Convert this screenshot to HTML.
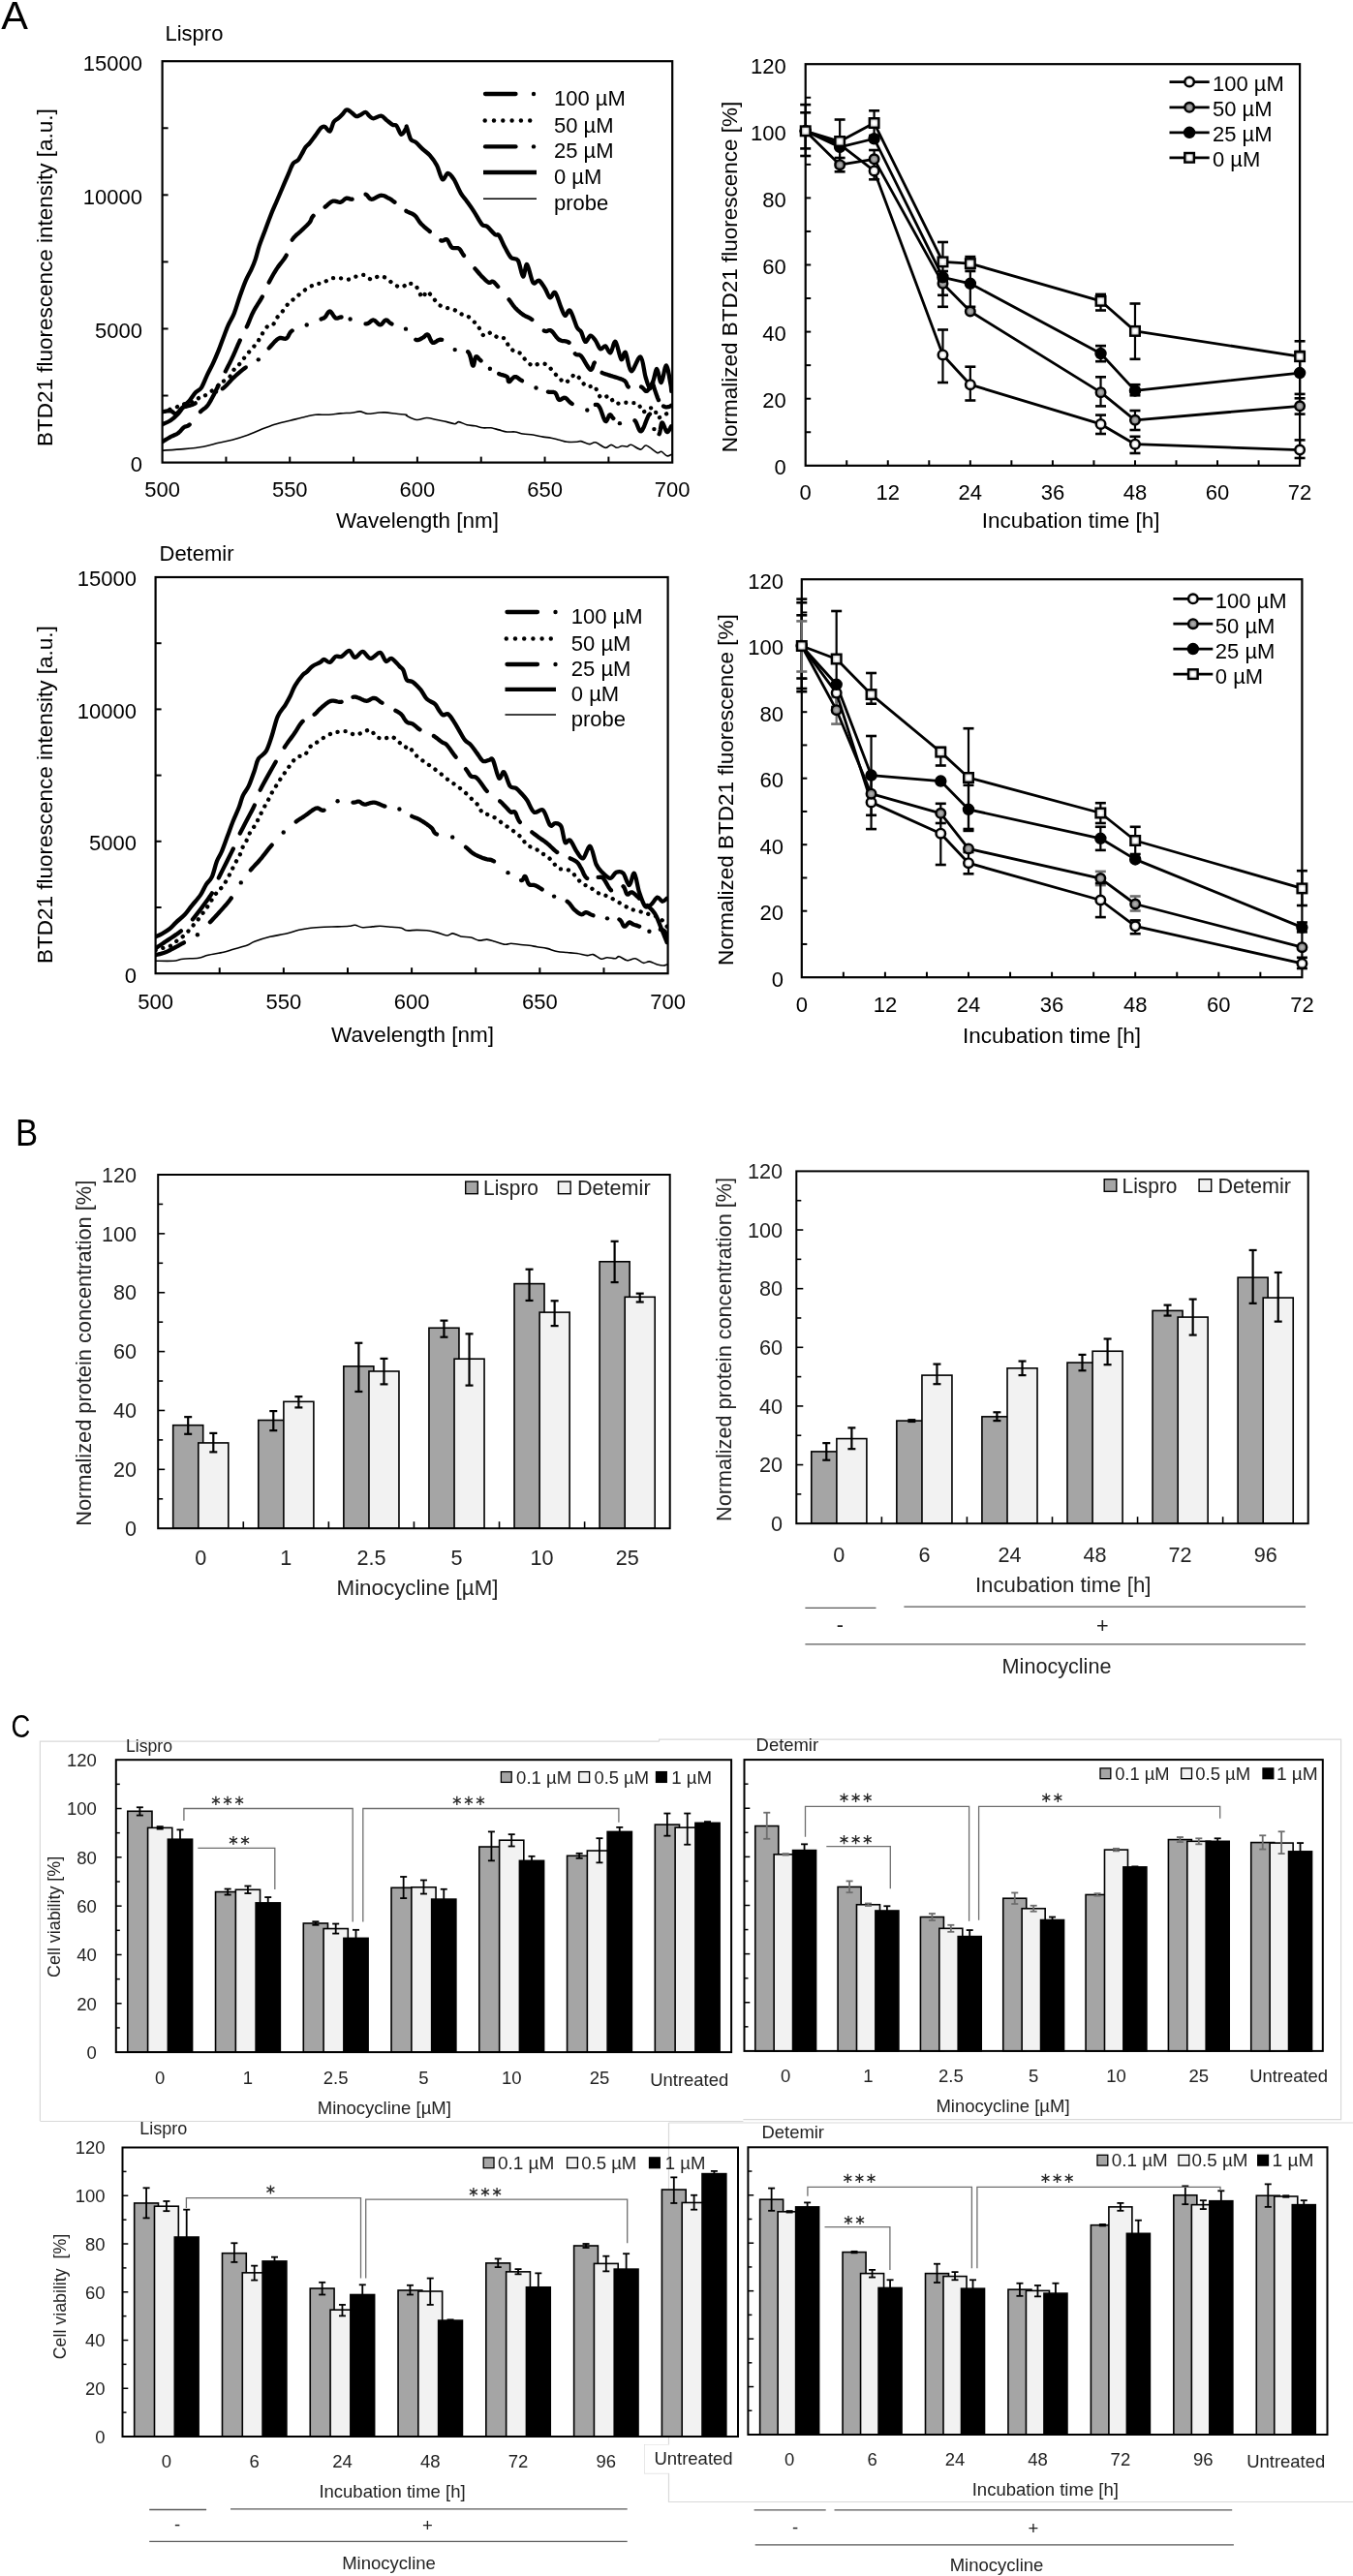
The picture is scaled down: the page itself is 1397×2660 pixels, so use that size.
<!DOCTYPE html>
<html><head><meta charset="utf-8"><style>html,body{margin:0;padding:0;background:#fff;}svg{display:block;filter:grayscale(1);}</style></head>
<body>
<svg width="1397" height="2660" viewBox="0 0 1397 2660" font-family='"Liberation Sans", sans-serif'>
<defs><radialGradient id="gw" cx="0.5" cy="0.5" r="0.6"><stop offset="0.3" stop-color="#fff"/><stop offset="1" stop-color="#9a9a9a"/></radialGradient><radialGradient id="gg" cx="0.5" cy="0.5" r="0.6"><stop offset="0.2" stop-color="#aaa"/><stop offset="1" stop-color="#555"/></radialGradient></defs>
<text x="1.2" y="30.2" font-size="41.5" fill="#000">A</text>
<clipPath id="c63"><rect x="167.6" y="63.2" width="526.6" height="414.4"/></clipPath>
<g clip-path="url(#c63)">
<path d="M167.58,465.17 C171.31,464.91 182.88,464.24 189.93,463.58 C196.99,462.91 203.9,462.25 209.89,461.18 C215.88,460.12 220.87,458.36 225.86,457.19 C230.84,456.03 234.84,455.53 239.82,454.2 C244.81,452.87 251.13,450.87 255.79,449.21 C260.45,447.55 263.11,446.05 267.76,444.22 C272.42,442.39 278.41,439.9 283.73,438.23 C289.05,436.57 294.37,435.57 299.69,434.24 C305.01,432.91 311.33,431.25 315.66,430.25 C319.98,429.25 321.64,428.59 325.64,428.26 C329.63,427.92 335.28,428.49 339.6,428.26 C343.93,428.02 347.59,427.19 351.58,426.86 C355.57,426.53 360.23,426.59 363.55,426.26 C366.88,425.93 368.87,424.7 371.53,424.86 C374.2,425.03 376.52,427.03 379.52,427.26 C382.51,427.49 386.5,426.49 389.5,426.26 C392.49,426.03 394.15,425.69 397.48,425.86 C400.8,426.03 405.79,426.86 409.45,427.26 C413.11,427.66 417.67,427.9 419.43,428.26 C421.19,428.61 418.18,428.52 420,429.4 C421.82,430.29 426.9,433.2 430.35,433.54 C433.8,433.89 437.25,431.47 440.7,431.47 C444.14,431.47 447.59,432.85 451.04,433.54 C454.49,434.23 458.29,434.92 461.39,435.61 C464.5,436.3 467.6,437.68 469.67,437.68 C471.74,437.68 471.74,435.44 473.81,435.61 C475.88,435.79 479.33,438.03 482.09,438.72 C484.85,439.41 487.6,439.23 490.36,439.75 C493.12,440.27 495.88,441.48 498.64,441.82 C501.4,442.17 504.16,441.48 506.92,441.82 C509.68,442.17 512.44,443.2 515.2,443.89 C517.96,444.58 520.72,445.62 523.48,445.96 C526.24,446.31 529,445.62 531.75,445.96 C534.51,446.31 536.93,447.51 540.03,448.03 C543.14,448.55 546.93,448.55 550.38,449.06 C553.83,449.58 557.62,450.62 560.73,451.13 C563.83,451.65 566.25,451.65 569.01,452.17 C571.77,452.69 574.53,453.55 577.28,454.24 C580.04,454.93 582.46,455.96 585.56,456.31 C588.67,456.65 593.5,456.42 595.91,456.31 C598.32,456.2 597.84,455.26 600,455.65 C602.16,456.03 606.41,458.42 608.87,458.6 C611.33,458.79 612.07,456.14 614.78,456.76 C617.49,457.37 622.42,461.87 625.13,462.3 C627.84,462.73 629.07,459.34 631.04,459.34 C633.01,459.34 635.11,462.11 636.95,462.3 C638.8,462.48 640.4,460.64 642.13,460.45 C643.85,460.27 645.7,461.37 647.3,461.19 C648.9,461.01 649.4,458.85 651.74,459.34 C654.08,459.83 658.76,464.02 661.35,464.15 C663.93,464.27 664.42,459.53 667.26,460.08 C670.09,460.64 675.76,466.43 678.34,467.47 C680.93,468.52 681.05,465.81 682.78,466.36 C684.5,466.92 686.94,470.31 688.69,470.8 C690.44,471.29 692.51,469.57 693.27,469.32" fill="none" stroke="#000" stroke-width="1.6" stroke-linecap="round" stroke-linejoin="round"/>
<path d="M167.6,425.26 L168.25,425.16 L169.15,424.99 L170.22,424.79 L171.4,424.58 L172.63,424.39 L173.84,424.26 L174.97,424.21 L175.96,424.26 L176.83,424.51 L177.63,424.94 L178.39,425.49 L179.11,426.07 L179.81,426.62 L180.51,427.05 L181.22,427.29 L181.95,427.26 L182.7,426.91 L183.45,426.3 L184.2,425.5 L184.95,424.58 L185.69,423.62 L186.44,422.7 L187.19,421.89 L187.94,421.27 L188.69,420.83 L189.44,420.49 L190.18,420.23 L190.93,420.02 L191.68,419.85 L192.43,419.68 L193.18,419.5 L193.93,419.28 L194.66,419.05 L195.38,418.85 L196.08,418.66 L196.79,418.46 L197.52,418.25 L198.28,417.99 L199.07,417.67 L199.91,417.28 L200.8,416.81 L201.7,416.28 M229.8,401.34 L229.85,401.32 L231.34,400.14 L232.84,398.77 L234.34,397.25 L235.83,395.64 L237.33,393.99 L238.83,392.36 L240.32,390.79 L241.82,389.34 L243.31,387.99 L244.79,386.66 L246.27,385.37 L247.74,384.1 L249.23,382.87 L250.73,381.67 L252.25,380.5 L253.79,379.36 L253.8,379.36 M277.7,359.45 L277.74,359.41 L279.05,358 L280.35,356.54 L281.64,355.08 L282.92,353.67 L284.17,352.35 L285.39,351.18 L286.57,350.19 L287.72,349.43 L288.83,349.01 L289.9,348.91 L290.95,349.05 L291.96,349.3 L292.94,349.58 L293.89,349.76 L294.81,349.74 L295.7,349.43 L296.48,348.8 L297.13,347.95 L297.7,346.93 L298.26,345.81 L298.87,344.64 L299.61,343.49 L300.52,342.4 L301.69,341.45 L301.7,341.44 M331.6,329.48 L331.62,329.47 L332.64,329.06 L333.37,328.79 L333.88,328.61 L334.24,328.48 L334.53,328.34 L334.8,328.16 L335.14,327.89 L335.61,327.48 L336.18,326.83 L336.77,325.96 L337.37,324.95 L337.98,323.92 L338.61,322.96 L339.26,322.17 L339.92,321.65 L340.6,321.49 L341.3,321.8 L342.03,322.51 L342.77,323.51 L343.53,324.67 L344.3,325.87 L345.07,326.99 L345.83,327.9 L346.59,328.48 L347.32,328.71 L348.02,328.72 L348.7,328.55 L349.4,328.29 L350.11,327.98 L350.87,327.7 L351.68,327.51 L352.58,327.48 L352.6,327.48 M377.5,334.46 L377.52,334.46 L378.91,334.33 L380.1,333.89 L381.14,333.23 L382.07,332.47 L382.93,331.7 L383.77,331.05 L384.61,330.6 L385.5,330.47 L386.43,330.73 L387.34,331.32 L388.24,332.12 L389.12,333.03 L389.99,333.93 L390.84,334.7 L391.67,335.25 L392.49,335.46 L393.28,335.25 L394.06,334.7 L394.81,333.93 L395.54,333.03 L396.27,332.12 L397,331.32 L397.73,330.73 L398.48,330.47 L399.17,330.53 L399.78,330.81 L400.37,331.27 L400.97,331.84 L401.63,332.5 L402.4,333.18 L403.33,333.85 L404.46,334.46 L404.5,334.48 M429.3,350.75 L429.31,350.76 L430.33,351.1 L431.32,351.14 L432.27,350.94 L433.19,350.57 L434.08,350.09 L434.94,349.57 L435.76,349.09 L436.56,348.69 L437.3,348.28 L438,347.72 L438.65,347.1 L439.27,346.49 L439.88,345.96 L440.49,345.59 L441.1,345.44 L441.73,345.59 L442.35,346.16 L442.93,347.12 L443.49,348.36 L444.06,349.73 L444.66,351.1 L445.32,352.33 L446.06,353.3 L446.9,353.87 L447.84,353.93 L448.84,353.57 L449.91,352.94 L451.04,352.18 L452.24,351.44 L453.5,350.86 L454.83,350.58 L456.2,350.76 M483.1,363.17 L483.12,363.18 L484.18,364.56 L485.04,366.49 L485.76,368.75 L486.35,371.13 L486.87,373.43 L487.34,375.43 L487.8,376.91 L488.29,377.67 L488.77,377.55 L489.17,376.7 L489.52,375.33 L489.85,373.66 L490.17,371.91 L490.53,370.29 L490.93,369.04 L491.4,368.35 L491.92,368.2 L492.45,368.34 L493.01,368.74 L493.6,369.32 L494.24,370.05 L494.94,370.85 L495.71,371.68 L496.57,372.49 L496.6,372.52 M515.2,385.94 L516.33,386.42 L517.49,386.82 L518.65,387.17 L519.79,387.5 L520.87,387.82 L521.87,388.17 L522.75,388.58 L523.48,389.05 L524,389.67 L524.33,390.44 L524.53,391.29 L524.64,392.15 L524.74,392.95 L524.88,393.61 L525.13,394.06 L525.55,394.22 L526.12,394.01 L526.78,393.44 L527.53,392.63 L528.33,391.7 L529.17,390.76 L530.03,389.93 L530.9,389.32 L531.75,389.05 L532.56,389.1 L533.32,389.36 L534.08,389.78 L534.86,390.34 L535.71,391 L536.65,391.72 L537.74,392.46 L539,393.19 L539,393.19 M565.9,404.57 L565.9,404.57 L567.08,404.8 L568.15,404.9 L569.13,404.91 L570.04,404.89 L570.88,404.9 L571.67,404.98 L572.42,405.2 L573.15,405.6 L573.8,406.28 L574.35,407.2 L574.83,408.28 L575.28,409.42 L575.72,410.54 L576.18,411.55 L576.69,412.35 L577.28,412.85 L577.95,412.98 L578.67,412.79 L579.42,412.39 L580.2,411.88 L581,411.36 L581.82,410.93 L582.65,410.7 L583.49,410.78 L584.29,411.16 L585.04,411.74 L585.77,412.49 L586.53,413.35 L587.37,414.27 L588.32,415.22 L589.43,416.14 L590.7,416.96 M614.8,417.95 L615.52,417.84 L616.14,417.83 L616.68,417.95 L617.16,418.21 L617.62,418.61 L618.1,419.19 L618.62,419.95 L619.22,420.91 L619.9,422.28 L620.63,424.13 L621.39,426.27 L622.17,428.53 L622.96,430.71 L623.72,432.64 L624.45,434.11 L625.13,434.95 L625.76,435.04 L626.36,434.5 L626.93,433.52 L627.49,432.27 L628.02,430.95 L628.54,429.72 L629.06,428.78 L629.56,428.3 L630.04,428.26 L630.47,428.46 L630.87,428.86 L631.27,429.41 L631.69,430.05 L632.15,430.73 L632.66,431.39 L633.26,432 L633.3,432.03 M655.4,434.2 L655.43,434.21 L656.28,435.19 L657.1,436.78 L657.88,438.72 L658.67,440.77 L659.46,442.7 L660.28,444.26 L661.15,445.21 L662.08,445.3 L663.12,444.23 L664.25,442.11 L665.44,439.3 L666.66,436.15 L667.85,433.04 L669,430.33 L670.04,428.38 L670.95,427.56 L671,427.59 M680.6,448.19 L681.02,447.44 L681.4,445.99 L681.74,444.12 L682.04,442.07 L682.34,440.04 L682.68,438.28 L683.06,437 L683.52,436.43 L684.06,436.71 L684.67,437.69 L685.33,439.15 L686.01,440.86 L686.71,442.63 L687.4,444.23 L688.07,445.43 L688.69,446.04 L689.31,446 L689.96,445.51 L690.6,444.7 L691.23,443.68 L691.82,442.59 L692.35,441.55 L692.79,440.69 L693.13,440.13 L693.6,440.13" fill="none" stroke="#000" stroke-width="4.3" stroke-linecap="round" stroke-linejoin="round"/>
<circle cx="223" cy="404.42" r="2.2"/>
<circle cx="266.8" cy="371.35" r="2.2"/>
<circle cx="316.7" cy="335.44" r="2.2"/>
<circle cx="361.6" cy="329.49" r="2.2"/>
<circle cx="419" cy="339.64" r="2.2"/>
<circle cx="469.7" cy="361.12" r="2.2"/>
<circle cx="505.9" cy="380.78" r="2.2"/>
<circle cx="553.5" cy="400.44" r="2.2"/>
<circle cx="606.3" cy="423.49" r="2.2"/>
<circle cx="639.9" cy="437.17" r="2.2"/>
<circle cx="675.4" cy="443.11" r="2.2"/>
<path d="M167.58,425.26 C169.65,424.6 176.23,422.6 179.96,421.27 C183.68,419.94 186.61,418.44 189.93,417.28 C193.26,416.12 196.92,415.62 199.91,414.29 C202.91,412.96 205.57,410.46 207.89,409.3 C210.22,408.13 211.22,408.96 213.88,407.3 C216.54,405.64 221.2,401.48 223.86,399.32 C226.52,397.16 227.52,396.16 229.85,394.33 C232.17,392.5 235.83,390.51 237.83,388.34 C239.82,386.18 240.16,383.52 241.82,381.36 C243.48,379.2 245.81,377.7 247.81,375.37 C249.8,373.04 251.8,369.88 253.79,367.39 C255.79,364.9 257.78,362.73 259.78,360.41 C261.78,358.08 264.1,355.75 265.77,353.42 C267.43,351.09 268.1,349.1 269.76,346.44 C271.42,343.78 273.75,339.28 275.75,337.46 C277.74,335.63 280.07,336.96 281.73,335.46 C283.4,333.96 284.06,330.8 285.72,328.48 C287.39,326.15 289.71,323.99 291.71,321.49 C293.71,319 295.7,315.67 297.7,313.51 C299.69,311.35 301.69,310.18 303.68,308.52 C305.68,306.86 307.34,305.36 309.67,303.53 C312,301.7 314.99,299.21 317.65,297.54 C320.31,295.88 322.97,294.48 325.64,293.55 C328.3,292.62 330.96,292.95 333.62,291.96 C336.28,290.96 338.77,288.36 341.6,287.57 C344.43,286.77 347.59,287 350.58,287.17 C353.57,287.33 356.73,288.83 359.56,288.56 C362.39,288.3 364.88,286.33 367.54,285.57 C370.2,284.8 372.87,283.47 375.53,283.97 C378.19,284.47 380.85,288.36 383.51,288.56 C386.17,288.76 388.83,285.34 391.49,285.17 C394.15,285 396.98,286.17 399.47,287.57 C401.97,288.96 403.96,292.06 406.46,293.55 C408.95,295.05 412.28,296.55 414.44,296.55 C416.6,296.55 418.5,294.17 419.43,293.55 C420.36,292.93 418.53,292.77 420,292.81 C421.47,292.86 426.21,292.47 428.28,293.85 C430.35,295.23 431.04,298.85 432.42,301.09 C433.8,303.33 435.18,307.3 436.56,307.3 C437.94,307.3 438.97,301.09 440.7,301.09 C442.42,301.09 444.83,305.06 446.9,307.3 C448.97,309.54 450.87,312.82 453.11,314.54 C455.35,316.27 457.77,316.79 460.36,317.65 C462.94,318.51 466.22,318.68 468.63,319.72 C471.05,320.75 472.6,322.82 474.84,323.86 C477.08,324.89 479.67,324.55 482.09,325.93 C484.5,327.31 487.26,330.07 489.33,332.14 C491.4,334.21 492.78,335.93 494.5,338.34 C496.23,340.76 497.61,345.76 499.68,346.62 C501.75,347.48 504.51,343.17 506.92,343.52 C509.33,343.86 511.75,347.66 514.16,348.69 C516.58,349.73 519.51,348.17 521.41,349.73 C523.3,351.28 523.82,355.76 525.55,358 C527.27,360.25 529.69,361.97 531.75,363.18 C533.82,364.39 536.07,363.7 537.96,365.25 C539.86,366.8 541.07,370.42 543.14,372.49 C545.21,374.56 548.14,377.15 550.38,377.67 C552.62,378.18 554.17,375.77 556.59,375.6 C559,375.42 562.45,375.25 564.87,376.63 C567.28,378.01 569.01,381.63 571.08,383.87 C573.15,386.12 575.22,388.19 577.28,390.08 C579.35,391.98 581.42,395.26 583.49,395.26 C585.56,395.26 587.8,391.46 589.7,390.08 C591.6,388.7 592.3,385.54 594.88,386.98 C597.45,388.42 602.04,396.78 605.17,398.74 C608.31,400.7 611.58,397.32 613.67,398.74 C615.77,400.15 616.32,405.2 617.74,407.24 C619.15,409.27 620.26,410.62 622.17,410.93 C624.08,411.24 627.1,408.16 629.19,409.08 C631.29,410.01 632.46,415.37 634.74,416.47 C637.02,417.58 639.97,415.8 642.87,415.74 C645.76,415.67 649.4,415.86 652.11,416.1 C654.82,416.35 657.22,415.67 659.13,417.21 C661.04,418.75 661.71,424.6 663.56,425.34 C665.41,426.08 668.12,422.14 670.21,421.65 C672.31,421.16 674.71,420.79 676.13,422.39 C677.54,423.99 677.17,430.21 678.71,431.26 C680.25,432.3 683.21,429.66 685.37,428.67 C687.52,427.68 690.6,425.9 691.65,425.34" fill="none" stroke="#000" stroke-width="4.3" stroke-linecap="round" stroke-linejoin="round" stroke-dasharray="0.1 7.9"/>
<path d="M167.6,456.18 L168.23,455.8 L169.1,455.27 L170.13,454.65 L171.28,453.95 L172.48,453.22 L173.7,452.5 L174.88,451.82 L175.96,451.21 L177,450.67 L178.04,450.18 L179.08,449.72 L180.11,449.27 L181.12,448.81 L182.1,448.33 L183.05,447.8 L183.95,447.21 L184.79,446.54 L185.58,445.79 L186.34,444.98 L187.07,444.16 L187.78,443.34 L188.48,442.56 L189.2,441.85 L189.93,441.23 L190.65,440.78 L191.31,440.5 L191.96,440.32 L192.62,440.17 L193.31,439.96 L194.07,439.61 L194.93,439.07 L195.7,438.42 M207,425.16 L207.97,424.21 L208.95,423.37 L209.85,422.68 L210.7,422.08 L211.51,421.51 L212.3,420.89 L213.08,420.17 L213.88,419.28 L214.68,418.23 L215.45,417.11 L216.2,415.91 L216.94,414.66 L217.67,413.36 L218.39,412.03 L219.13,410.67 L219.87,409.3 L220.61,407.91 L221.34,406.49 L222.07,405.04 L222.8,403.56 L223.54,402.05 L224.29,400.5 L225.06,398.93 L225.6,397.84 M232.8,383.43 L232.84,383.35 L233.71,381.64 L234.56,379.96 L235.42,378.29 L236.27,376.62 L237.13,374.92 L238.01,373.16 L238.9,371.32 L239.82,369.39 L240.78,367.3 L241.77,365.08 L242.79,362.77 L243.82,360.41 L244.84,358.04 L245.86,355.73 L246.85,353.51 L247.8,351.44 M254.8,337.44 L255.65,335.55 L256.49,333.58 L257.32,331.57 L258.16,329.54 L259.01,327.49 L259.89,325.46 L260.81,323.45 L261.78,321.49 L262.82,319.57 L263.93,317.68 L265.09,315.8 L266.27,313.94 L267.45,312.09 L268.6,310.24 L269.72,308.39 L270.76,306.52 L270.8,306.44 M277.7,291.64 L277.74,291.56 L278.68,289.76 L279.62,287.99 L280.57,286.25 L281.55,284.51 L282.54,282.78 L283.56,281.06 L284.62,279.33 L285.72,277.59 L286.9,275.85 L288.17,274.14 L289.49,272.44 L290.84,270.73 L292.16,269 L293.44,267.25 L294.63,265.46 L295.7,263.62 M301.7,247.64 L302.76,246.11 L303.95,244.69 L305.23,243.39 L306.55,242.17 L307.9,241.01 L309.22,239.89 L310.49,238.79 L311.67,237.68 L312.79,236.57 L313.9,235.52 L314.98,234.49 L316.03,233.5 L317.04,232.53 L317.98,231.57 L318.86,230.63 L319.65,229.69 L320.28,228.79 L320.74,227.92 L321.09,227.09 L321.39,226.26 L321.73,225.43 L322.17,224.57 L322.79,223.67 L323.6,222.75 M335.6,213.74 L335.61,213.73 L336.8,212.79 L337.89,211.86 L338.9,210.96 L339.85,210.11 L340.78,209.34 L341.69,208.68 L342.63,208.13 L343.6,207.74 L344.61,207.57 L345.64,207.62 L346.68,207.82 L347.71,208.12 L348.73,208.42 L349.72,208.68 L350.68,208.81 L351.58,208.74 L352.42,208.44 L353.22,207.97 L353.97,207.39 L354.7,206.74 L355.41,206.1 L356.12,205.51 L356.83,205.04 L357.57,204.75 L358.31,204.66 L359.04,204.73 L359.77,204.91 L360.5,205.15 L361.23,205.4 L361.99,205.62 L362.76,205.75 L363.55,205.75 L363.6,205.74 M377.5,200.76 L377.52,200.76 L378.29,201.08 L378.99,201.68 L379.66,202.47 L380.33,203.34 L381.01,204.2 L381.75,204.95 L382.58,205.5 L383.51,205.75 L384.58,205.63 L385.77,205.22 L387.05,204.6 L388.37,203.87 L389.72,203.13 L391.04,202.47 L392.31,201.98 L393.49,201.75 L394.59,201.79 L395.67,201.99 L396.71,202.32 L397.73,202.75 L398.71,203.25 L399.66,203.77 L400.58,204.28 L401.47,204.75 L402.31,205.19 L403.11,205.65 L403.86,206.13 L404.59,206.62 L405.3,207.13 L406.01,207.65 L406.72,208.19 L407.46,208.74 L407.5,208.77 M419.4,217.7 L419.43,217.72 L419.71,217.93 L419.77,218.02 L419.7,218.03 L419.57,218.01 L419.46,217.98 L419.44,217.99 L419.6,218.09 L420,218.31 L420.68,218.63 L421.58,219 L422.63,219.42 L423.79,219.9 L424.99,220.44 L426.17,221.04 L427.29,221.71 L428.28,222.45 L429.13,223.29 L429.9,224.23 L430.62,225.25 L431.32,226.33 L432.02,227.44 L432.76,228.56 L433.58,229.67 L434.49,230.73 L435.49,231.76 L436.55,232.77 L437.66,233.79 L438.82,234.8 L440.02,235.83 L441.25,236.86 L442.52,237.92 L443.8,239.01 L443.8,239.01 M455.2,248.32 L456.21,248.62 L457.12,248.57 L457.93,248.28 L458.67,247.87 L459.37,247.45 L460.03,247.13 L460.7,247.04 L461.39,247.28 L462.07,247.92 L462.71,248.87 L463.32,250.03 L463.91,251.29 L464.52,252.58 L465.15,253.78 L465.83,254.81 L466.56,255.56 L467.39,256 L468.28,256.19 L469.22,256.21 L470.19,256.14 L471.15,256.07 L472.09,256.07 L472.99,256.22 L473.81,256.6 L474.51,257.16 L475.1,257.83 L475.63,258.59 L476.14,259.44 L476.68,260.4 L477.3,261.45 L478.05,262.6 L478.98,263.84 L479,263.86 M490.4,277.33 L491.56,278.68 L492.7,280.01 L493.79,281.27 L494.83,282.47 L495.83,283.6 L496.79,284.67 L497.73,285.67 L498.64,286.61 L499.53,287.49 L500.39,288.34 L501.21,289.12 L502.01,289.84 L502.77,290.48 L503.49,291.02 L504.19,291.46 L504.85,291.78 L505.46,291.91 L506.01,291.81 L506.51,291.57 L506.99,291.26 L507.45,290.95 L507.93,290.71 L508.44,290.62 L508.99,290.75 L509.54,291.04 L510.07,291.41 L510.58,291.87 L511.12,292.43 L511.72,293.1 L512.41,293.9 L513.21,294.83 L514.16,295.92 L514.2,295.96 M525.5,309.31 L525.55,309.37 L526.56,310.66 L527.41,311.83 L528.16,312.9 L528.84,313.9 L529.5,314.85 L530.18,315.77 L530.92,316.7 L531.75,317.65 L532.68,318.62 L533.65,319.58 L534.66,320.53 L535.7,321.46 L536.76,322.37 L537.84,323.25 L538.93,324.09 L540.03,324.89 L541.13,325.6 L542.22,326.19 L543.31,326.71 L544.43,327.22 L545.58,327.76 L546.78,328.38 L548.03,329.14 L549.3,330.03 M561.8,341.46 L562.91,341.93 L563.91,342.03 L564.81,341.87 L565.64,341.58 L566.44,341.27 L567.24,341.06 L568.09,341.08 L569.01,341.45 L569.98,342.21 L570.95,343.27 L571.94,344.53 L572.95,345.91 L573.98,347.31 L575.05,348.65 L576.14,349.83 L577.28,350.76 L578.51,351.39 L579.82,351.78 L581.2,352.02 L582.59,352.18 L583.96,352.37 L585.29,352.65 L586.52,353.12 L587.6,353.84 M593.8,365.19 L593.84,365.25 L594.59,365.9 L595.3,366.22 L596,366.31 L596.71,366.3 L597.44,366.32 L598.22,366.48 L599.07,366.89 L600,367.69 L601.07,369.04 L602.28,370.89 L603.58,373.05 L604.91,375.33 L606.23,377.53 L607.49,379.46 L608.63,380.93 L609.61,381.74 L610.42,381.75 L611.1,381.08 L611.68,379.95 L612.2,378.55 L612.66,377.09 L613.11,375.76 L613.56,374.78 L613.8,374.56 M621.6,384.79 L622.19,385.12 L623,385.48 L623.87,385.81 L624.81,386.13 L625.83,386.44 L626.96,386.79 L628.2,387.18 L629.56,387.65 L631.16,388.18 L633.03,388.75 L635.07,389.36 L637.19,390.01 L639.27,390.68 L641.22,391.37 L642.95,392.09 L644.35,392.82 L645.38,393.62 L646.13,394.52 L646.67,395.47 L647.07,396.43 L647.41,397.35 L647.76,398.19 L648.19,398.92 L648.78,399.48 L648.8,399.49 M662.1,399.48 L662.81,399.84 L663.52,400.41 L664.2,401.12 L664.86,401.88 L665.49,402.61 L666.1,403.25 L666.69,403.71 L667.26,403.91 L667.8,403.85 L668.3,403.59 L668.78,403.18 L669.24,402.66 L669.69,402.07 L670.12,401.43 L670.54,400.8 L670.95,400.21 L671.37,399.58 L671.8,398.83 L672.21,398.03 L672.62,397.21 L673,396.45 L673.34,395.8 L673.65,395.31 L673.91,395.04 L674.08,394.94 L674.15,394.93 L674.15,395.03 L674.14,395.27 L674.14,395.66 L674.2,396.24 L674.36,397.01 L674.65,398 L675.08,399.33 L675.63,401.05 L676.26,403.03 L676.96,405.16 L677.69,407.31 L678.43,409.38 L679.15,411.24 L679.82,412.78 L680,413.12 M685,419.43 L685.66,419.82 L686.34,420.08 L687.03,420.24 L687.72,420.31 L688.39,420.32 L689.03,420.28 L689.63,420.22 L690.17,420.17 L690.67,420.08 L691.13,419.92 L691.57,419.71 L691.97,419.48 L692.33,419.24 L692.65,419.01 L692.91,418.82 L693.13,418.69 L693.6,418.69" fill="none" stroke="#000" stroke-width="4.3" stroke-linecap="round" stroke-linejoin="round"/>
<path d="M167.58,438.23 C168.98,437.57 173.24,436.07 175.96,434.24 C178.69,432.41 181.62,429.75 183.95,427.26 C186.28,424.76 187.94,421.6 189.93,419.28 C191.93,416.95 193.93,415.62 195.92,413.29 C197.92,410.96 199.91,407.47 201.91,405.31 C203.9,403.14 205.9,403.31 207.89,400.32 C209.89,397.32 211.89,391.5 213.88,387.35 C215.88,383.19 217.87,379.7 219.87,375.37 C221.86,371.05 223.86,366.39 225.86,361.4 C227.85,356.41 230.18,349.76 231.84,345.44 C233.5,341.11 234.17,339.12 235.83,335.46 C237.5,331.8 239.82,328.48 241.82,323.49 C243.82,318.5 245.81,311.18 247.81,305.53 C249.8,299.87 251.8,294.22 253.79,289.56 C255.79,284.9 258.12,281.25 259.78,277.59 C261.44,273.93 262.44,271.6 263.77,267.61 C265.1,263.62 266.1,258.63 267.76,253.64 C269.43,248.65 271.75,243 273.75,237.68 C275.75,232.35 277.74,226.7 279.74,221.71 C281.73,216.72 283.73,212.4 285.72,207.74 C287.72,203.08 289.71,198.43 291.71,193.77 C293.71,189.12 295.87,183.96 297.7,179.8 C299.53,175.64 301.02,171.22 302.69,168.83 C304.35,166.43 306.18,167.1 307.68,165.43 C309.17,163.77 310.34,161.11 311.67,158.85 C313,156.59 314.33,153.69 315.66,151.86 C316.99,150.03 317.99,149.87 319.65,147.87 C321.31,145.88 323.64,142.55 325.64,139.89 C327.63,137.23 329.96,133.4 331.62,131.91 C333.29,130.41 334.12,130.31 335.61,130.91 C337.11,131.51 339.11,136.33 340.6,135.5 C342.1,134.67 343.1,128.18 344.59,125.92 C346.09,123.66 348.09,123.26 349.58,121.93 C351.08,120.6 352.24,119.34 353.57,117.94 C354.9,116.54 356.23,114.05 357.57,113.55 C358.9,113.05 359.89,113.88 361.56,114.95 C363.22,116.01 365.88,119.27 367.54,119.93 C369.21,120.6 369.87,119.6 371.53,118.94 C373.2,118.27 375.86,115.78 377.52,115.94 C379.18,116.11 380.18,118.87 381.51,119.93 C382.84,121 383.51,122.4 385.5,122.33 C387.5,122.26 391.16,119.2 393.49,119.54 C395.81,119.87 397.48,122.76 399.47,124.32 C401.47,125.89 403.8,127.98 405.46,128.91 C407.12,129.85 407.95,128.25 409.45,129.91 C410.95,131.58 412.78,138.49 414.44,138.89 C416.1,139.29 418.5,133.56 419.43,132.31 C420.36,131.06 419.22,129.47 420,131.39 C420.78,133.31 422.59,141.22 424.14,143.81 C425.69,146.39 427.24,145.19 429.31,146.91 C431.38,148.64 434.14,151.91 436.56,154.16 C438.97,156.4 441.39,157.6 443.8,160.36 C446.21,163.12 448.87,166.57 451.04,170.71 C453.22,174.85 454.94,183.82 456.84,185.2 C458.73,186.58 460.46,178.99 462.43,178.99 C464.39,178.99 466.39,181.75 468.63,185.2 C470.88,188.65 473.64,195.89 475.88,199.69 C478.12,203.48 479.84,204.86 482.09,207.96 C484.33,211.07 486.74,214.34 489.33,218.31 C491.92,222.28 495.37,229.18 497.61,231.76 C499.85,234.35 500.54,232.11 502.78,233.83 C505.02,235.56 508.99,240.56 511.06,242.11 C513.13,243.66 513.47,240.9 515.2,243.15 C516.92,245.39 519.34,251.77 521.41,255.56 C523.48,259.36 525.37,263.67 527.62,265.91 C529.86,268.15 532.79,265.74 534.86,269.01 C536.93,272.29 538.48,284.88 540.03,285.57 C541.59,286.26 542.45,272.12 544.17,273.15 C545.9,274.19 548.31,289.02 550.38,291.78 C552.45,294.54 554.52,288.68 556.59,289.71 C558.66,290.75 560.9,295.06 562.8,297.99 C564.7,300.92 566.25,306.61 567.97,307.3 C569.7,307.99 571.25,300.4 573.15,302.13 C575.04,303.85 577.63,313.68 579.35,317.65 C581.08,321.62 581.94,325.41 583.49,325.93 C585.05,326.44 586.6,318.68 588.67,320.75 C590.74,322.82 594.02,334.71 595.91,338.34 C597.8,341.98 598.58,340.14 600,342.56 C601.42,344.99 602.83,352.23 604.43,352.91 C606.04,353.59 607.88,346.88 609.61,346.63 C611.33,346.38 613.06,349.15 614.78,351.43 C616.51,353.71 618.23,359.32 619.96,360.3 C621.68,361.29 623.4,356.67 625.13,357.35 C626.85,358.02 628.58,365.11 630.3,364.37 C632.03,363.63 633.63,351.8 635.48,352.91 C637.32,354.02 639.66,369.17 641.39,371.02 C643.11,372.87 644.1,361.97 645.82,364 C647.55,366.03 649.15,382.48 651.74,383.22 C654.32,383.95 658.88,367.45 661.35,368.43 C663.81,369.42 664.92,383.71 666.52,389.13 C668.12,394.55 669.6,400.34 670.95,400.95 C672.31,401.57 673.42,396.15 674.65,392.82 C675.88,389.5 676.99,380.63 678.34,381 C679.7,381.37 681.18,395.66 682.78,395.04 C684.38,394.42 686.35,377.06 687.95,377.3 C689.55,377.55 691.5,392.08 692.39,396.52 C693.27,400.95 693.13,402.68 693.27,403.91" fill="none" stroke="#000" stroke-width="4.3" stroke-linecap="round" stroke-linejoin="round"/>
</g>
<rect x="167.6" y="63.2" width="526.6" height="414.4" fill="none" stroke="#000" stroke-width="2.2"/>
<line x1="167.6" y1="408.53" x2="173.6" y2="408.53" stroke="#000" stroke-width="2"/>
<line x1="167.6" y1="339.47" x2="173.6" y2="339.47" stroke="#000" stroke-width="2"/>
<line x1="167.6" y1="270.4" x2="173.6" y2="270.4" stroke="#000" stroke-width="2"/>
<line x1="167.6" y1="201.33" x2="173.6" y2="201.33" stroke="#000" stroke-width="2"/>
<line x1="167.6" y1="132.27" x2="173.6" y2="132.27" stroke="#000" stroke-width="2"/>
<line x1="233.43" y1="477.6" x2="233.43" y2="471.6" stroke="#000" stroke-width="2"/>
<line x1="299.25" y1="477.6" x2="299.25" y2="471.6" stroke="#000" stroke-width="2"/>
<line x1="365.08" y1="477.6" x2="365.08" y2="471.6" stroke="#000" stroke-width="2"/>
<line x1="430.9" y1="477.6" x2="430.9" y2="471.6" stroke="#000" stroke-width="2"/>
<line x1="496.73" y1="477.6" x2="496.73" y2="471.6" stroke="#000" stroke-width="2"/>
<line x1="562.55" y1="477.6" x2="562.55" y2="471.6" stroke="#000" stroke-width="2"/>
<line x1="628.38" y1="477.6" x2="628.38" y2="471.6" stroke="#000" stroke-width="2"/>
<text x="147" y="486.9" font-size="22" text-anchor="end" fill="#000">0</text>
<text x="147" y="348.77" font-size="22" text-anchor="end" fill="#000">5000</text>
<text x="147" y="210.63" font-size="22" text-anchor="end" fill="#000">10000</text>
<text x="147" y="72.5" font-size="22" text-anchor="end" fill="#000">15000</text>
<text x="167.6" y="513.2" font-size="22" text-anchor="middle" fill="#000">500</text>
<text x="299.25" y="513.2" font-size="22" text-anchor="middle" fill="#000">550</text>
<text x="430.9" y="513.2" font-size="22" text-anchor="middle" fill="#000">600</text>
<text x="562.55" y="513.2" font-size="22" text-anchor="middle" fill="#000">650</text>
<text x="694.2" y="513.2" font-size="22" text-anchor="middle" fill="#000">700</text>
<text x="431" y="545" font-size="22.5" text-anchor="middle" fill="#000">Wavelength [nm]</text>
<text x="54" y="286.6" font-size="22.5" text-anchor="middle" transform="rotate(-90 54 286.6)" fill="#000">BTD21 fluorescence intensity [a.u.]</text>
<text x="170.5" y="41.5" font-size="22" fill="#000">Lispro</text>
<line x1="501" y1="97" x2="532.5" y2="97" stroke="#000" stroke-width="4.3" stroke-linecap="round"/>
<circle cx="551" cy="97" r="2.2"/>
<text x="572" y="109" font-size="22" fill="#000">100 µM</text>
<circle cx="500.7" cy="124.5" r="2.2"/>
<circle cx="510" cy="124.5" r="2.2"/>
<circle cx="519.3" cy="124.5" r="2.2"/>
<circle cx="528.6" cy="124.5" r="2.2"/>
<circle cx="537.9" cy="124.5" r="2.2"/>
<circle cx="547.2" cy="124.5" r="2.2"/>
<text x="572" y="136.5" font-size="22" fill="#000">50 µM</text>
<line x1="501" y1="151.4" x2="532.5" y2="151.4" stroke="#000" stroke-width="4.3" stroke-linecap="round"/>
<circle cx="551" cy="151.4" r="2.2"/>
<text x="572" y="163.4" font-size="22" fill="#000">25 µM</text>
<line x1="499" y1="178" x2="554" y2="178" stroke="#000" stroke-width="4.3"/>
<text x="572" y="190" font-size="22" fill="#000">0 µM</text>
<line x1="499" y1="205.2" x2="554" y2="205.2" stroke="#000" stroke-width="1.6"/>
<text x="572" y="217.2" font-size="22" fill="#000">probe</text>
<clipPath id="c596"><rect x="160.6" y="596" width="529" height="409.2"/></clipPath>
<g clip-path="url(#c596)">
<path d="M160.59,992.23 C163.65,992.23 174.22,992.56 178.95,992.23 C183.67,991.89 184.6,990.73 188.93,990.23 C193.25,989.73 200.57,989.9 204.89,989.23 C209.21,988.57 210.54,987.24 214.87,986.24 C219.19,985.24 226.51,984.24 230.83,983.24 C235.16,982.25 236.82,981.42 240.81,980.25 C244.8,979.09 251.12,977.59 254.78,976.26 C258.44,974.93 258.77,973.77 262.76,972.27 C266.75,970.77 273.41,968.61 278.73,967.28 C284.05,965.95 289.7,965.45 294.69,964.29 C299.68,963.12 304.34,961.29 308.66,960.3 C312.99,959.3 316.31,958.8 320.64,958.3 C324.96,957.8 329.95,957.53 334.6,957.3 C339.26,957.07 344.25,957.07 348.57,956.9 C352.9,956.74 357.55,956.57 360.55,956.3 C363.54,956.04 364.21,955.07 366.53,955.31 C368.86,955.54 371.52,957.43 374.52,957.7 C377.51,957.97 381.5,957.14 384.5,956.9 C387.49,956.67 389.15,956.24 392.48,956.3 C395.8,956.37 400.79,956.97 404.45,957.3 C408.11,957.63 411.84,957.72 414.43,958.3 C417.02,958.88 417.35,960.43 420,960.78 C422.65,961.12 426.9,960.36 430.35,960.36 C433.8,960.36 437.25,960.36 440.7,960.78 C444.14,961.19 447.59,961.99 451.04,962.85 C454.49,963.71 458.63,965.78 461.39,965.95 C464.15,966.12 465.18,963.71 467.6,963.88 C470.01,964.05 472.77,966.3 475.88,966.99 C478.98,967.68 483.12,967.33 486.23,968.02 C489.33,968.71 491.74,970.78 494.5,971.13 C497.26,971.47 500.02,969.92 502.78,970.09 C505.54,970.26 507.96,971.3 511.06,972.16 C514.16,973.02 518.65,974.92 521.41,975.26 C524.17,975.61 525.2,974.23 527.62,974.23 C530.03,974.23 532.79,974.92 535.89,975.26 C539,975.61 543.14,975.89 546.24,976.3 C549.35,976.71 551.42,977.23 554.52,977.75 C557.62,978.27 561.42,978.61 564.87,979.4 C568.32,980.2 571.77,981.82 575.22,982.51 C578.66,983.2 582.11,983.2 585.56,983.54 C589.01,983.89 592.46,984.06 595.91,984.58 C599.36,985.1 603.5,986.47 606.26,986.65 C609.02,986.82 610.05,985.03 612.47,985.61 C614.88,986.2 618.33,989.65 620.75,990.17 C623.16,990.68 624.54,988.79 626.95,988.72 C629.37,988.65 633.16,989.92 635.23,989.75 C637.3,989.58 637.3,987.34 639.37,987.68 C641.44,988.03 644.89,991.48 647.65,991.82 C650.41,992.17 653.17,989.34 655.93,989.75 C658.69,990.17 661.79,993.79 664.21,994.3 C666.62,994.82 668,992.58 670.41,992.86 C672.83,993.13 676.28,995.27 678.69,995.96 C681.11,996.65 683.25,997 684.9,997 C686.56,997 688,996.13 688.63,995.96" fill="none" stroke="#000" stroke-width="1.6" stroke-linecap="round" stroke-linejoin="round"/>
<path d="M160.6,986.23 L161.39,986.02 L162.46,985.75 L163.74,985.42 L165.15,985.05 L166.65,984.65 L168.16,984.2 L169.62,983.73 L170.96,983.24 L172.24,982.72 L173.51,982.14 L174.78,981.52 L176.04,980.88 L177.29,980.21 L178.53,979.55 L179.75,978.89 L180.94,978.26 L182.08,977.65 L183.14,977.08 L184.16,976.52 L185.18,975.95 L186.23,975.36 L187.35,974.72 L188.57,974.03 L189.9,973.28 M216.9,952.28 L218.42,950.68 L219.97,949.05 L221.51,947.4 L223.04,945.76 L224.54,944.13 L226.01,942.51 L227.44,940.92 L228.84,939.34 L230.18,937.82 L231.47,936.37 L232.73,934.95 L233.95,933.54 L235.16,932.11 L236.37,930.62 L237.58,929.05 L238.8,927.39 M258.8,898.4 L260.01,896.99 L261.22,895.64 L262.43,894.34 L263.64,893.07 L264.86,891.78 L266.11,890.43 L267.41,889 L268.75,887.46 L270.15,885.76 L271.6,883.95 L273.09,882.05 L274.61,880.1 L276.15,878.13 L277.68,876.18 L279.21,874.29 L280.7,872.52 M305.7,848.52 L306.96,847.57 L308.12,846.74 L309.2,846.02 L310.22,845.36 L311.24,844.73 L312.29,844.07 L313.41,843.36 L314.65,842.55 L316.03,841.58 L317.53,840.47 L319.1,839.27 L320.7,838.06 L322.29,836.92 L323.84,835.91 L325.3,835.11 L326.62,834.57 L327.77,834.42 L328.76,834.64 L329.65,835.09 L330.49,835.66 L331.35,836.21 L332.28,836.63 L333.35,836.79 L334.6,836.57 M364.5,828.58 L364.54,828.59 L365.76,828.55 L366.74,828.41 L367.51,828.21 L368.16,827.99 L368.72,827.77 L369.26,827.61 L369.85,827.54 L370.53,827.59 L371.25,827.8 L371.93,828.17 L372.6,828.64 L373.27,829.15 L373.98,829.65 L374.74,830.09 L375.57,830.42 L376.51,830.58 L377.56,830.53 L378.7,830.29 L379.92,829.93 L381.19,829.52 L382.5,829.11 L383.83,828.78 L385.17,828.58 L386.49,828.59 L387.79,828.8 L389.07,829.19 L390.36,829.69 L391.67,830.27 L393.01,830.89 L394.42,831.51 L395.9,832.08 L397.47,832.58 L397.5,832.58 M425.2,842.83 L426.34,843.39 L427.35,843.83 L428.25,844.19 L429.07,844.5 L429.87,844.79 L430.66,845.09 L431.5,845.46 L432.42,845.92 L433.42,846.47 L434.49,847.09 L435.58,847.75 L436.69,848.44 L437.77,849.14 L438.82,849.82 L439.8,850.48 L440.7,851.09 L441.49,851.65 L442.21,852.15 L442.86,852.63 L443.48,853.1 L444.07,853.57 L444.65,854.08 L445.24,854.62 L445.87,855.23 L446.44,855.93 L446.91,856.71 L447.33,857.54 L447.77,858.4 L448.3,859.25 L448.98,860.06 L449.87,860.8 L451,861.42 M481,874.85 L481.05,874.89 L482.27,875.88 L483.3,876.78 L484.21,877.61 L485.02,878.38 L485.79,879.11 L486.57,879.79 L487.39,880.45 L488.29,881.1 L489.29,881.73 L490.34,882.33 L491.41,882.9 L492.5,883.43 L493.57,883.93 L494.62,884.4 L495.63,884.84 L496.57,885.24 L497.44,885.6 L498.25,885.9 L499.01,886.17 L499.74,886.4 L500.47,886.62 L501.21,886.84 L501.97,887.07 L502.78,887.31 L503.59,887.5 L504.35,887.6 L505.1,887.66 L505.89,887.74 L506.73,887.89 L507.68,888.18 L508.77,888.66 L510,889.36 M538,909.04 L538.93,909.01 L539.65,908.56 L540.2,907.82 L540.62,906.94 L540.96,906.07 L541.29,905.34 L541.65,904.91 L542.1,904.9 L542.61,905.39 L543.09,906.27 L543.56,907.41 L544.04,908.72 L544.54,910.06 L545.06,911.33 L545.63,912.41 L546.24,913.18 L546.91,913.63 L547.62,913.87 L548.37,913.96 L549.15,913.95 L549.96,913.92 L550.78,913.91 L551.61,913.99 L552.45,914.21 L553.27,914.56 L554.07,914.96 L554.86,915.4 L555.68,915.9 L556.55,916.44 L557.49,917.03 L558.53,917.67 L559.69,918.35 L559.7,918.36 M585.6,930.8 L586.77,931.68 L587.81,932.69 L588.73,933.78 L589.57,934.91 L590.36,936.03 L591.14,937.12 L591.94,938.14 L592.81,939.05 L593.73,939.89 L594.67,940.73 L595.61,941.53 L596.56,942.28 L597.48,942.95 L598.38,943.51 L599.24,943.94 L600.05,944.22 L600.78,944.27 L601.44,944.09 L602.05,943.75 L602.64,943.32 L603.22,942.87 L603.83,942.48 L604.49,942.21 L605.22,942.15 L605.98,942.29 L606.72,942.56 L607.47,942.94 L608.26,943.38 L609.13,943.87 L610.1,944.36 L611.2,944.83 L612.47,945.26 L612.5,945.27 M639.4,949.42 L640.36,950.08 L641.17,951.04 L641.84,952.16 L642.41,953.34 L642.92,954.48 L643.42,955.48 L643.95,956.24 L644.54,956.64 L645.2,956.62 L645.86,956.26 L646.53,955.65 L647.2,954.89 L647.85,954.1 L648.5,953.37 L649.12,952.8 L649.72,952.5 L650.27,952.46 L650.78,952.58 L651.26,952.82 L651.72,953.15 L652.2,953.52 L652.7,953.91 L653.25,954.27 L653.86,954.57 L654.51,954.81 L655.17,955.01 L655.85,955.21 L656.57,955.41 L657.34,955.64 L658.17,955.9 L659.08,956.23 L660.07,956.64 L660.1,956.66 M681.8,959.74 L682.76,959.85 L683.61,960.03 L684.35,960.3 L684.99,960.65 L685.56,961.08 L686.07,961.59 L686.53,962.18 L686.97,962.85 L687.36,963.69 L687.67,964.75 L687.92,965.94 L688.12,967.18 L688.28,968.4 L688.41,969.52 L688.52,970.45 L688.63,971.13 L689.3,971.13" fill="none" stroke="#000" stroke-width="4.3" stroke-linecap="round" stroke-linejoin="round"/>
<circle cx="203.9" cy="965.28" r="2.2"/>
<circle cx="248.8" cy="911.39" r="2.2"/>
<circle cx="292.7" cy="859.51" r="2.2"/>
<circle cx="348.6" cy="827.18" r="2.2"/>
<circle cx="412.4" cy="835.56" r="2.2"/>
<circle cx="467.2" cy="864.55" r="2.2"/>
<circle cx="524.5" cy="901.17" r="2.2"/>
<circle cx="572.1" cy="925.59" r="2.2"/>
<circle cx="627" cy="948.37" r="2.2"/>
<circle cx="670.4" cy="961.81" r="2.2"/>
<path d="M160.59,981.25 C161.65,980.92 164.58,979.92 166.97,979.25 C169.37,978.59 172.3,978.59 174.96,977.26 C177.62,975.93 180.28,973.27 182.94,971.27 C185.6,969.28 188.43,967.61 190.92,965.28 C193.42,962.96 195.74,959.8 197.91,957.3 C200.07,954.81 201.9,952.81 203.89,950.32 C205.89,947.82 208.05,944.83 209.88,942.33 C211.71,939.84 213.21,937.84 214.87,935.35 C216.53,932.86 218.19,929.86 219.86,927.37 C221.52,924.87 223.18,922.38 224.85,920.38 C226.51,918.39 228.17,917.56 229.84,915.39 C231.5,913.23 233.33,910.07 234.82,907.41 C236.32,904.75 237.49,902.09 238.82,899.43 C240.15,896.77 241.31,894.27 242.81,891.45 C244.3,888.62 246.47,885.29 247.8,882.47 C249.13,879.64 249.63,876.98 250.79,874.48 C251.95,871.99 253.45,870.16 254.78,867.5 C256.11,864.84 257.27,861.18 258.77,858.52 C260.27,855.86 262.26,854.03 263.76,851.53 C265.26,849.04 266.26,846.55 267.75,843.55 C269.25,840.56 271.24,836.4 272.74,833.57 C274.24,830.75 275.4,829.08 276.73,826.59 C278.06,824.09 279.23,821.27 280.72,818.61 C282.22,815.95 284.05,813.29 285.71,810.62 C287.38,807.96 289.04,805.14 290.7,802.64 C292.36,800.15 294.03,797.99 295.69,795.66 C297.35,793.33 298.85,791 300.68,788.67 C302.51,786.34 304.34,783.18 306.67,781.69 C308.99,780.19 312.49,781.36 314.65,779.69 C316.81,778.03 317.81,773.71 319.64,771.71 C321.47,769.71 323.46,769.22 325.62,767.72 C327.79,766.22 329.95,764.39 332.61,762.73 C335.27,761.07 338.76,758.91 341.59,757.74 C344.42,756.58 346.74,756.14 349.57,755.75 C352.4,755.35 355.73,754.85 358.55,755.35 C361.38,755.85 363.87,758.57 366.53,758.74 C369.2,758.91 371.86,757.18 374.52,756.34 C377.18,755.51 380.17,753.02 382.5,753.75 C384.83,754.48 386.16,759.24 388.49,760.73 C390.81,762.23 393.81,762.73 396.47,762.73 C399.13,762.73 401.79,760.07 404.45,760.73 C407.11,761.4 410.11,764.89 412.43,766.72 C414.76,768.55 417.16,771.1 418.42,771.71 C419.68,772.32 418.87,769.91 420,770.38 C421.13,770.85 423.28,772.62 425.17,774.52 C427.07,776.42 429.14,779.69 431.38,781.76 C433.62,783.83 436.21,785.21 438.63,786.94 C441.04,788.66 443.45,790.39 445.87,792.11 C448.28,793.84 450.7,795.39 453.11,797.28 C455.53,799.18 457.94,801.6 460.36,803.49 C462.77,805.39 465.18,806.94 467.6,808.67 C470.01,810.39 472.43,811.94 474.84,813.84 C477.26,815.74 479.84,817.98 482.09,820.05 C484.33,822.12 486.23,824.19 488.29,826.26 C490.36,828.33 492.95,830.4 494.5,832.47 C496.06,834.54 496.23,837.3 497.61,838.68 C498.99,840.06 500.71,839.88 502.78,840.75 C504.85,841.61 507.61,842.47 510.02,843.85 C512.44,845.23 514.85,847.3 517.27,849.02 C519.68,850.75 522.1,852.47 524.51,854.2 C526.93,855.92 529.34,857.47 531.75,859.37 C534.17,861.27 536.93,863.34 539,865.58 C541.07,867.82 541.93,871.1 544.17,872.82 C546.41,874.55 550.21,874.72 552.45,875.93 C554.69,877.13 555.55,878.69 557.62,880.07 C559.69,881.45 562.63,882.48 564.87,884.21 C567.11,885.93 569.18,888.34 571.08,890.41 C572.97,892.48 574.18,895.42 576.25,896.62 C578.32,897.83 581.25,897.14 583.49,897.66 C585.74,898.17 587.63,898.17 589.7,899.73 C591.77,901.28 593.84,904.73 595.91,906.97 C597.98,909.21 600.05,911.8 602.12,913.18 C604.19,914.56 606.26,914.04 608.33,915.25 C610.4,916.46 612.47,919.04 614.54,920.42 C616.61,921.8 618.5,922.66 620.75,923.53 C622.99,924.39 625.57,924.56 627.99,925.6 C630.4,926.63 632.82,928.36 635.23,929.74 C637.65,931.11 640.06,932.49 642.48,933.87 C644.89,935.25 647.48,936.98 649.72,938.01 C651.96,939.05 653.51,939.39 655.93,940.08 C658.34,940.77 661.79,941.46 664.21,942.15 C666.62,942.84 668.17,943.53 670.41,944.22 C672.66,944.91 675.42,945.26 677.66,946.29 C679.9,947.33 682.04,948.71 683.87,950.43 C685.69,952.16 687.83,955.6 688.63,956.64" fill="none" stroke="#000" stroke-width="4.3" stroke-linecap="round" stroke-linejoin="round" stroke-dasharray="0.1 7.9"/>
<path d="M160.6,979.25 L161.35,978.74 L162.32,978.09 L163.47,977.32 L164.78,976.45 L166.21,975.49 L167.73,974.46 L169.33,973.38 L170.96,972.27 L172.72,971.09 L174.66,969.83 L176.72,968.49 L178.85,967.09 L180.99,965.66 L183.09,964.2 L185.09,962.74 L186.9,961.32 M198.9,949.32 L198.9,949.32 L201.1,946.59 L203.64,943.38 L206.37,939.83 L209.19,936.1 L211.98,932.34 L214.6,928.69 L216.93,925.32 L218.86,922.38 L218.9,922.31 M225.8,906.51 L225.84,906.41 L227.39,903.25 L229.21,899.59 L231.22,895.6 L233.33,891.45 L235.43,887.3 L237.44,883.31 L239.27,879.65 L240.8,876.5 M247.8,860.51 L249.35,857.43 L251.19,853.89 L253.22,850.04 L255.34,846.05 L257.46,842.05 L259.47,838.2 L261.27,834.66 L262.76,831.58 L262.8,831.49 M268.7,815.72 L268.75,815.61 L270.32,812.52 L272.2,808.96 L274.31,805.1 L276.55,801.08 L278.8,797.08 L280.98,793.23 L282.99,789.71 L284.7,786.7 M293.7,771.7 L294.9,769.91 L296.14,768.12 L297.41,766.35 L298.68,764.6 L299.96,762.86 L301.23,761.14 L302.47,759.43 L303.67,757.74 L304.82,756.03 L305.92,754.29 L306.98,752.54 L308.04,750.82 L309.11,749.15 L310.22,747.57 L311.39,746.1 L312.65,744.77 L312.7,744.73 M324.6,737.8 L324.63,737.78 L325.63,737 L326.43,736.26 L327.09,735.55 L327.68,734.85 L328.27,734.15 L328.91,733.41 L329.67,732.64 L330.61,731.8 L331.75,730.83 L333.01,729.73 L334.36,728.56 L335.79,727.37 L337.25,726.24 L338.73,725.23 L340.18,724.4 L341.59,723.82 L342.95,723.55 L344.31,723.57 L345.66,723.8 L347.02,724.13 L348.38,724.48 L349.75,724.77 L351.15,724.91 L352.57,724.81 L352.6,724.8 M364.5,719.84 L364.54,719.82 L365.56,719.65 L366.41,719.61 L367.13,719.67 L367.78,719.82 L368.4,720.04 L369.03,720.29 L369.72,720.56 L370.53,720.82 L371.43,721.14 L372.38,721.57 L373.37,722.06 L374.39,722.57 L375.43,723.04 L376.47,723.44 L377.5,723.71 L378.51,723.82 L379.51,723.67 L380.5,723.3 L381.5,722.78 L382.5,722.19 L383.5,721.62 L384.5,721.15 L385.49,720.86 L386.49,720.82 L387.45,721.04 L388.35,721.44 L389.22,721.98 L390.11,722.63 L391.04,723.37 L392.06,724.17 L393.19,724.99 L394.47,725.81 L394.5,725.83 M408.4,733.77 L408.44,733.79 L409.58,734.46 L410.51,734.98 L411.29,735.42 L411.96,735.8 L412.57,736.19 L413.15,736.62 L413.76,737.13 L414.43,737.78 L415.14,738.61 L415.84,739.59 L416.52,740.67 L417.2,741.79 L417.88,742.89 L418.57,743.92 L419.28,744.82 L420,745.55 L420.74,746.05 L421.48,746.38 L422.24,746.58 L423,746.7 L423.78,746.82 L424.57,746.97 L425.38,747.22 L426.21,747.62 L427.06,748.18 L427.95,748.86 L428.85,749.62 L429.77,750.42 L430.69,751.24 L431.62,752.03 L432.54,752.77 L433.45,753.41 L433.5,753.44 M447.9,760.01 L447.94,760.03 L448.95,760.68 L450.01,761.44 L451.1,762.27 L452.21,763.14 L453.29,764 L454.34,764.84 L455.32,765.59 L456.22,766.24 L456.98,766.71 L457.63,767.02 L458.2,767.22 L458.74,767.41 L459.28,767.64 L459.88,767.99 L460.57,768.53 L461.39,769.35 L462.35,770.45 L463.4,771.8 L464.53,773.32 L465.72,774.97 L466.95,776.7 L468.21,778.44 L469.46,780.15 L470.7,781.76 M481,794.12 L481.05,794.18 L481.94,795.37 L482.68,796.48 L483.32,797.5 L483.9,798.45 L484.44,799.31 L484.98,800.1 L485.56,800.8 L486.23,801.42 L486.92,801.85 L487.61,802.04 L488.3,802.08 L489.01,802.07 L489.76,802.11 L490.57,802.3 L491.45,802.73 L492.43,803.49 L493.56,804.69 L494.83,806.25 L496.19,808.07 L497.61,810.03 L499.02,812.01 L500.39,813.9 L501.66,815.58 L502.78,816.95 L502.8,816.97 M516.2,827.27 L516.23,827.29 L517.07,828.03 L517.88,828.8 L518.68,829.59 L519.47,830.4 L520.24,831.2 L520.99,832 L521.72,832.77 L522.44,833.5 L523.15,834.23 L523.83,834.99 L524.5,835.75 L525.16,836.48 L525.8,837.16 L526.42,837.77 L527.03,838.28 L527.62,838.68 L528.18,838.85 L528.7,838.8 L529.2,838.6 L529.69,838.35 L530.17,838.14 L530.67,838.07 L531.2,838.22 L531.75,838.68 L532.3,839.47 L532.81,840.53 L533.3,841.8 L533.82,843.2 L534.41,844.69 L535.1,846.19 L535.93,847.66 L536.9,848.98 M549.3,859.33 L549.35,859.37 L550.59,860.35 L551.73,861.24 L552.8,862.05 L553.81,862.8 L554.78,863.51 L555.72,864.2 L556.67,864.88 L557.62,865.58 L558.56,866.25 L559.44,866.85 L560.28,867.41 L561.12,867.97 L561.97,868.56 L562.86,869.19 L563.82,869.92 L564.87,870.75 L566.03,871.76 L567.31,872.94 L568.66,874.22 L570.04,875.54 L571.43,876.85 L572.77,878.08 L574.05,879.17 L575.2,880.05 M588.7,886.29 L589.54,886.73 L590.48,887.19 L591.44,887.66 L592.42,888.15 L593.38,888.66 L594.29,889.21 L595.15,889.79 L595.91,890.41 L596.56,891.06 L597.12,891.72 L597.6,892.41 L598.04,893.13 L598.48,893.9 L598.94,894.73 L599.45,895.63 L600.05,896.62 L600.69,897.8 L601.34,899.19 L602,900.7 L602.7,902.25 L603.46,903.74 L604.29,905.09 L605.22,906.19 L606.26,906.97 L606.3,906.98 M617.6,905.94 L617.64,905.94 L618.56,905.89 L619.3,905.78 L619.9,905.67 L620.42,905.61 L620.92,905.66 L621.45,905.86 L622.06,906.28 L622.81,906.97 L623.71,908.08 L624.71,909.61 L625.78,911.43 L626.89,913.37 L628,915.29 L629.1,917.03 L630.14,918.45 L631.09,919.39 L631.1,919.39 M643.5,915.24 L643.51,915.25 L644.12,915.86 L644.67,916.83 L645.17,918.05 L645.64,919.39 L646.11,920.73 L646.59,921.94 L647.1,922.92 L647.65,923.53 L648.22,923.69 L648.77,923.49 L649.33,923.05 L649.91,922.49 L650.53,921.93 L651.21,921.49 L651.97,921.29 L652.82,921.46 L653.8,922.01 L654.91,922.85 L656.1,923.89 L657.35,925.08 L658.61,926.33 L659.86,927.57 L660,927.71 M668.3,934.91 L668.49,935.08 L669.38,935.94 L670.29,936.84 L671.21,937.72 L672.14,938.62 L673.07,939.57 L673.98,940.57 L674.88,941.67 L675.77,942.88 L676.62,944.22 L677.45,945.74 L678.26,947.41 L679.04,949.2 L679.82,951.08 L680.58,953 L681.33,954.94 L682.08,956.86 L682.83,958.71 L683.61,960.62 L684.44,962.67 L685.29,964.78 L686.12,966.86 L686.9,968.82 L687.59,970.59 L688.18,972.08 L688.63,973.2 L689.3,973.2" fill="none" stroke="#000" stroke-width="4.3" stroke-linecap="round" stroke-linejoin="round"/>
<path d="M160.59,967.28 C161.65,966.78 164.58,965.62 166.97,964.29 C169.37,962.96 172.46,961.29 174.96,959.3 C177.45,957.3 179.28,954.81 181.94,952.31 C184.6,949.82 188.26,947.16 190.92,944.33 C193.58,941.5 195.24,938.68 197.91,935.35 C200.57,932.02 204.39,928.03 206.89,924.37 C209.38,920.72 210.88,916.56 212.87,913.4 C214.87,910.24 217.03,909.41 218.86,905.42 C220.69,901.42 222.19,893.78 223.85,889.45 C225.51,885.13 227.01,883.8 228.84,879.47 C230.67,875.15 232.83,868.83 234.82,863.51 C236.82,858.19 238.82,852.53 240.81,847.54 C242.81,842.55 245.14,837.9 246.8,833.57 C248.46,829.25 249.13,825.26 250.79,821.6 C252.45,817.94 254.78,815.95 256.78,811.62 C258.77,807.3 261.1,800.31 262.76,795.66 C264.43,791 264.76,787.01 266.75,783.68 C268.75,780.36 272.41,779.69 274.74,775.7 C277.06,771.71 278.73,765.72 280.72,759.74 C282.72,753.75 284.38,745.1 286.71,739.78 C289.04,734.46 292.53,731.3 294.69,727.81 C296.85,724.31 298.02,722.15 299.68,718.83 C301.34,715.5 302.51,711.51 304.67,707.85 C306.83,704.19 310.66,699.2 312.65,696.87 C314.65,694.55 314.98,695.38 316.64,693.88 C318.31,692.38 320.3,689.56 322.63,687.89 C324.96,686.23 328.62,685.07 330.61,683.9 C332.61,682.74 332.94,680.91 334.6,680.91 C336.27,680.91 338.6,684.4 340.59,683.9 C342.59,683.4 344.58,678.91 346.58,677.92 C348.57,676.92 350.24,678.91 352.57,677.92 C354.89,676.92 358.22,671.76 360.55,671.93 C362.88,672.1 364.21,678.75 366.53,678.91 C368.86,679.08 371.86,672.76 374.52,672.93 C377.18,673.09 379.51,679.75 382.5,679.91 C385.49,680.08 389.82,673.43 392.48,673.93 C395.14,674.42 396.47,681.91 398.46,682.91 C400.46,683.9 402.12,679.08 404.45,679.91 C406.78,680.74 410.44,685.9 412.43,687.89 C414.43,689.89 415.16,689.52 416.42,691.89 C417.69,694.25 418.37,700.04 420,702.09 C421.63,704.13 423.79,702.43 426.21,704.16 C428.62,705.88 432.07,709.5 434.49,712.43 C436.9,715.37 438.28,719.33 440.7,721.75 C443.11,724.16 446.9,725.02 448.97,726.92 C451.04,728.82 451.73,731.23 453.11,733.13 C454.49,735.03 455.7,737.61 457.25,738.3 C458.8,738.99 460.7,736.41 462.43,737.27 C464.15,738.13 465.7,740.72 467.6,743.48 C469.5,746.24 471.74,750.38 473.81,753.82 C475.88,757.27 477.95,761.59 480.02,764.17 C482.09,766.76 484.16,767.1 486.23,769.35 C488.29,771.59 490.36,774.86 492.43,777.62 C494.5,780.38 496.57,784.7 498.64,785.9 C500.71,787.11 503.13,785.04 504.85,784.87 C506.58,784.7 507.27,781.76 508.99,784.87 C510.71,787.97 513.3,801.42 515.2,803.49 C517.1,805.56 518.48,795.91 520.37,797.28 C522.27,798.66 524.51,809.01 526.58,811.77 C528.65,814.53 530.72,812.46 532.79,813.84 C534.86,815.22 537.1,817.98 539,820.05 C540.9,822.12 542.1,823.15 544.17,826.26 C546.24,829.36 548.66,836.95 551.42,838.68 C554.17,840.4 557.97,834.36 560.73,836.61 C563.49,838.85 565.9,849.89 567.97,852.13 C570.04,854.37 571.25,849.89 573.15,850.06 C575.04,850.23 577.63,849.89 579.35,853.16 C581.08,856.44 581.94,867.3 583.49,869.72 C585.05,872.13 586.6,865.92 588.67,867.65 C590.74,869.37 593.67,876.96 595.91,880.07 C598.15,883.17 599.88,887.31 602.12,886.27 C604.36,885.24 607.12,872.82 609.36,873.86 C611.6,874.89 613.5,888 615.57,892.48 C617.64,896.97 619.37,898.35 621.78,900.76 C624.19,903.18 627.64,906.97 630.06,906.97 C632.47,906.97 634.02,901.62 636.27,900.76 C638.51,899.9 641.27,899.55 643.51,901.8 C645.75,904.04 647.82,914.21 649.72,914.21 C651.62,914.21 653.17,900.59 654.89,901.8 C656.62,903 658.17,915.77 660.07,921.46 C661.96,927.15 664.21,933.87 666.27,935.94 C668.34,938.01 670.41,935.43 672.48,933.87 C674.55,932.32 676.79,927.15 678.69,926.63 C680.59,926.11 682.21,930.6 683.87,930.77 C685.52,930.94 687.83,928.18 688.63,927.67" fill="none" stroke="#000" stroke-width="4.3" stroke-linecap="round" stroke-linejoin="round"/>
</g>
<rect x="160.6" y="596" width="529" height="409.2" fill="none" stroke="#000" stroke-width="2.2"/>
<line x1="160.6" y1="937" x2="166.6" y2="937" stroke="#000" stroke-width="2"/>
<line x1="160.6" y1="868.8" x2="166.6" y2="868.8" stroke="#000" stroke-width="2"/>
<line x1="160.6" y1="800.6" x2="166.6" y2="800.6" stroke="#000" stroke-width="2"/>
<line x1="160.6" y1="732.4" x2="166.6" y2="732.4" stroke="#000" stroke-width="2"/>
<line x1="160.6" y1="664.2" x2="166.6" y2="664.2" stroke="#000" stroke-width="2"/>
<line x1="226.72" y1="1005.2" x2="226.72" y2="999.2" stroke="#000" stroke-width="2"/>
<line x1="292.85" y1="1005.2" x2="292.85" y2="999.2" stroke="#000" stroke-width="2"/>
<line x1="358.98" y1="1005.2" x2="358.98" y2="999.2" stroke="#000" stroke-width="2"/>
<line x1="425.1" y1="1005.2" x2="425.1" y2="999.2" stroke="#000" stroke-width="2"/>
<line x1="491.23" y1="1005.2" x2="491.23" y2="999.2" stroke="#000" stroke-width="2"/>
<line x1="557.35" y1="1005.2" x2="557.35" y2="999.2" stroke="#000" stroke-width="2"/>
<line x1="623.48" y1="1005.2" x2="623.48" y2="999.2" stroke="#000" stroke-width="2"/>
<text x="141" y="1014.5" font-size="22" text-anchor="end" fill="#000">0</text>
<text x="141" y="878.1" font-size="22" text-anchor="end" fill="#000">5000</text>
<text x="141" y="741.7" font-size="22" text-anchor="end" fill="#000">10000</text>
<text x="141" y="605.3" font-size="22" text-anchor="end" fill="#000">15000</text>
<text x="160.6" y="1042.2" font-size="22" text-anchor="middle" fill="#000">500</text>
<text x="292.85" y="1042.2" font-size="22" text-anchor="middle" fill="#000">550</text>
<text x="425.1" y="1042.2" font-size="22" text-anchor="middle" fill="#000">600</text>
<text x="557.35" y="1042.2" font-size="22" text-anchor="middle" fill="#000">650</text>
<text x="689.6" y="1042.2" font-size="22" text-anchor="middle" fill="#000">700</text>
<text x="426" y="1075.5" font-size="22.5" text-anchor="middle" fill="#000">Wavelength [nm]</text>
<text x="54" y="820.6" font-size="22.5" text-anchor="middle" transform="rotate(-90 54 820.6)" fill="#000">BTD21 fluorescence intensity [a.u.]</text>
<text x="164.5" y="578.5" font-size="22" fill="#000">Detemir</text>
<line x1="523.5" y1="632" x2="555" y2="632" stroke="#000" stroke-width="4.3" stroke-linecap="round"/>
<circle cx="573.5" cy="632" r="2.2"/>
<text x="589.8" y="644" font-size="22" fill="#000">100 µM</text>
<circle cx="522.8" cy="659.5" r="2.2"/>
<circle cx="532" cy="659.5" r="2.2"/>
<circle cx="541.2" cy="659.5" r="2.2"/>
<circle cx="550.4" cy="659.5" r="2.2"/>
<circle cx="559.6" cy="659.5" r="2.2"/>
<circle cx="568.8" cy="659.5" r="2.2"/>
<text x="589.8" y="671.5" font-size="22" fill="#000">50 µM</text>
<line x1="523.5" y1="686" x2="555" y2="686" stroke="#000" stroke-width="4.3" stroke-linecap="round"/>
<circle cx="573.5" cy="686" r="2.2"/>
<text x="589.8" y="698" font-size="22" fill="#000">25 µM</text>
<line x1="521.5" y1="711.8" x2="574" y2="711.8" stroke="#000" stroke-width="4.3"/>
<text x="589.8" y="723.8" font-size="22" fill="#000">0 µM</text>
<line x1="521.5" y1="738" x2="574" y2="738" stroke="#000" stroke-width="1.6"/>
<text x="589.8" y="750" font-size="22" fill="#000">probe</text>
<rect x="831.7" y="66.2" width="510.4" height="414.6" fill="none" stroke="#000" stroke-width="2.2"/>
<line x1="831.7" y1="446.25" x2="837.2" y2="446.25" stroke="#000" stroke-width="2"/>
<line x1="831.7" y1="411.7" x2="837.2" y2="411.7" stroke="#000" stroke-width="2"/>
<line x1="831.7" y1="377.15" x2="837.2" y2="377.15" stroke="#000" stroke-width="2"/>
<line x1="831.7" y1="342.6" x2="837.2" y2="342.6" stroke="#000" stroke-width="2"/>
<line x1="831.7" y1="308.05" x2="837.2" y2="308.05" stroke="#000" stroke-width="2"/>
<line x1="831.7" y1="273.5" x2="837.2" y2="273.5" stroke="#000" stroke-width="2"/>
<line x1="831.7" y1="238.95" x2="837.2" y2="238.95" stroke="#000" stroke-width="2"/>
<line x1="831.7" y1="204.4" x2="837.2" y2="204.4" stroke="#000" stroke-width="2"/>
<line x1="831.7" y1="169.85" x2="837.2" y2="169.85" stroke="#000" stroke-width="2"/>
<line x1="831.7" y1="135.3" x2="837.2" y2="135.3" stroke="#000" stroke-width="2"/>
<line x1="831.7" y1="100.75" x2="837.2" y2="100.75" stroke="#000" stroke-width="2"/>
<line x1="874.23" y1="480.8" x2="874.23" y2="475.3" stroke="#000" stroke-width="2"/>
<line x1="916.77" y1="480.8" x2="916.77" y2="475.3" stroke="#000" stroke-width="2"/>
<line x1="959.3" y1="480.8" x2="959.3" y2="475.3" stroke="#000" stroke-width="2"/>
<line x1="1001.83" y1="480.8" x2="1001.83" y2="475.3" stroke="#000" stroke-width="2"/>
<line x1="1044.37" y1="480.8" x2="1044.37" y2="475.3" stroke="#000" stroke-width="2"/>
<line x1="1086.9" y1="480.8" x2="1086.9" y2="475.3" stroke="#000" stroke-width="2"/>
<line x1="1129.43" y1="480.8" x2="1129.43" y2="475.3" stroke="#000" stroke-width="2"/>
<line x1="1171.97" y1="480.8" x2="1171.97" y2="475.3" stroke="#000" stroke-width="2"/>
<line x1="1214.5" y1="480.8" x2="1214.5" y2="475.3" stroke="#000" stroke-width="2"/>
<line x1="1257.03" y1="480.8" x2="1257.03" y2="475.3" stroke="#000" stroke-width="2"/>
<line x1="1299.57" y1="480.8" x2="1299.57" y2="475.3" stroke="#000" stroke-width="2"/>
<text x="811.8" y="490.1" font-size="22" text-anchor="end" fill="#000">0</text>
<text x="831.7" y="516" font-size="22" text-anchor="middle" fill="#000">0</text>
<text x="811.8" y="421" font-size="22" text-anchor="end" fill="#000">20</text>
<text x="916.77" y="516" font-size="22" text-anchor="middle" fill="#000">12</text>
<text x="811.8" y="351.9" font-size="22" text-anchor="end" fill="#000">40</text>
<text x="1001.83" y="516" font-size="22" text-anchor="middle" fill="#000">24</text>
<text x="811.8" y="282.8" font-size="22" text-anchor="end" fill="#000">60</text>
<text x="1086.9" y="516" font-size="22" text-anchor="middle" fill="#000">36</text>
<text x="811.8" y="213.7" font-size="22" text-anchor="end" fill="#000">80</text>
<text x="1171.97" y="516" font-size="22" text-anchor="middle" fill="#000">48</text>
<text x="811.8" y="144.6" font-size="22" text-anchor="end" fill="#000">100</text>
<text x="1257.03" y="516" font-size="22" text-anchor="middle" fill="#000">60</text>
<text x="811.8" y="75.5" font-size="22" text-anchor="end" fill="#000">120</text>
<text x="1342.1" y="516" font-size="22" text-anchor="middle" fill="#000">72</text>
<text x="1105.6" y="545" font-size="22.5" text-anchor="middle" fill="#000">Incubation time [h]</text>
<text x="761" y="286" font-size="22.5" text-anchor="middle" transform="rotate(-90 761 286)" fill="#000">Normalized BTD21 fluorescence [%]</text>
<line x1="831.7" y1="108.1" x2="831.7" y2="161" stroke="#000" stroke-width="2.2"/>
<line x1="826.2" y1="108.1" x2="837.2" y2="108.1" stroke="#000" stroke-width="2.6"/>
<line x1="826.2" y1="161" x2="837.2" y2="161" stroke="#000" stroke-width="2.6"/>
<line x1="831.7" y1="116.3" x2="831.7" y2="153.4" stroke="#000" stroke-width="2.2"/>
<line x1="826.2" y1="116.3" x2="837.2" y2="116.3" stroke="#000" stroke-width="2.6"/>
<line x1="826.2" y1="153.4" x2="837.2" y2="153.4" stroke="#000" stroke-width="2.6"/>
<line x1="867.14" y1="123.5" x2="867.14" y2="168" stroke="#000" stroke-width="2.2"/>
<line x1="861.64" y1="123.5" x2="872.64" y2="123.5" stroke="#000" stroke-width="2.6"/>
<line x1="861.64" y1="168" x2="872.64" y2="168" stroke="#000" stroke-width="2.6"/>
<line x1="867.14" y1="163" x2="867.14" y2="177.3" stroke="#000" stroke-width="2.2"/>
<line x1="861.64" y1="163" x2="872.64" y2="163" stroke="#000" stroke-width="2.6"/>
<line x1="861.64" y1="177.3" x2="872.64" y2="177.3" stroke="#000" stroke-width="2.6"/>
<line x1="902.59" y1="114.3" x2="902.59" y2="140" stroke="#000" stroke-width="2.2"/>
<line x1="897.09" y1="114.3" x2="908.09" y2="114.3" stroke="#000" stroke-width="2.6"/>
<line x1="897.09" y1="140" x2="908.09" y2="140" stroke="#000" stroke-width="2.6"/>
<line x1="902.59" y1="155" x2="902.59" y2="185.3" stroke="#000" stroke-width="2.2"/>
<line x1="897.09" y1="155" x2="908.09" y2="155" stroke="#000" stroke-width="2.6"/>
<line x1="897.09" y1="185.3" x2="908.09" y2="185.3" stroke="#000" stroke-width="2.6"/>
<line x1="973.48" y1="250" x2="973.48" y2="290" stroke="#000" stroke-width="2.2"/>
<line x1="967.98" y1="250" x2="978.98" y2="250" stroke="#000" stroke-width="2.6"/>
<line x1="967.98" y1="290" x2="978.98" y2="290" stroke="#000" stroke-width="2.6"/>
<line x1="973.48" y1="280" x2="973.48" y2="304.8" stroke="#000" stroke-width="2.2"/>
<line x1="967.98" y1="280" x2="978.98" y2="280" stroke="#000" stroke-width="2.6"/>
<line x1="967.98" y1="304.8" x2="978.98" y2="304.8" stroke="#000" stroke-width="2.6"/>
<line x1="973.48" y1="285" x2="973.48" y2="316.8" stroke="#000" stroke-width="2.2"/>
<line x1="967.98" y1="285" x2="978.98" y2="285" stroke="#000" stroke-width="2.6"/>
<line x1="967.98" y1="316.8" x2="978.98" y2="316.8" stroke="#000" stroke-width="2.6"/>
<line x1="973.48" y1="340.5" x2="973.48" y2="395" stroke="#000" stroke-width="2.2"/>
<line x1="967.98" y1="340.5" x2="978.98" y2="340.5" stroke="#000" stroke-width="2.6"/>
<line x1="967.98" y1="395" x2="978.98" y2="395" stroke="#000" stroke-width="2.6"/>
<line x1="1001.83" y1="265.1" x2="1001.83" y2="277.1" stroke="#000" stroke-width="2.2"/>
<line x1="996.33" y1="265.1" x2="1007.33" y2="265.1" stroke="#000" stroke-width="2.6"/>
<line x1="996.33" y1="277.1" x2="1007.33" y2="277.1" stroke="#000" stroke-width="2.6"/>
<line x1="1001.83" y1="280" x2="1001.83" y2="316.8" stroke="#000" stroke-width="2.2"/>
<line x1="996.33" y1="280" x2="1007.33" y2="280" stroke="#000" stroke-width="2.6"/>
<line x1="996.33" y1="316.8" x2="1007.33" y2="316.8" stroke="#000" stroke-width="2.6"/>
<line x1="1001.83" y1="378.7" x2="1001.83" y2="413.5" stroke="#000" stroke-width="2.2"/>
<line x1="996.33" y1="378.7" x2="1007.33" y2="378.7" stroke="#000" stroke-width="2.6"/>
<line x1="996.33" y1="413.5" x2="1007.33" y2="413.5" stroke="#000" stroke-width="2.6"/>
<line x1="1136.52" y1="303.9" x2="1136.52" y2="320.5" stroke="#000" stroke-width="2.2"/>
<line x1="1131.02" y1="303.9" x2="1142.02" y2="303.9" stroke="#000" stroke-width="2.6"/>
<line x1="1131.02" y1="320.5" x2="1142.02" y2="320.5" stroke="#000" stroke-width="2.6"/>
<line x1="1136.52" y1="357.1" x2="1136.52" y2="373.2" stroke="#000" stroke-width="2.2"/>
<line x1="1131.02" y1="357.1" x2="1142.02" y2="357.1" stroke="#000" stroke-width="2.6"/>
<line x1="1131.02" y1="373.2" x2="1142.02" y2="373.2" stroke="#000" stroke-width="2.6"/>
<line x1="1136.52" y1="389.3" x2="1136.52" y2="419.4" stroke="#000" stroke-width="2.2"/>
<line x1="1131.02" y1="389.3" x2="1142.02" y2="389.3" stroke="#000" stroke-width="2.6"/>
<line x1="1131.02" y1="419.4" x2="1142.02" y2="419.4" stroke="#000" stroke-width="2.6"/>
<line x1="1136.52" y1="428.6" x2="1136.52" y2="448" stroke="#000" stroke-width="2.2"/>
<line x1="1131.02" y1="428.6" x2="1142.02" y2="428.6" stroke="#000" stroke-width="2.6"/>
<line x1="1131.02" y1="448" x2="1142.02" y2="448" stroke="#000" stroke-width="2.6"/>
<line x1="1171.97" y1="313.5" x2="1171.97" y2="370.8" stroke="#000" stroke-width="2.2"/>
<line x1="1166.47" y1="313.5" x2="1177.47" y2="313.5" stroke="#000" stroke-width="2.6"/>
<line x1="1166.47" y1="370.8" x2="1177.47" y2="370.8" stroke="#000" stroke-width="2.6"/>
<line x1="1171.97" y1="397.2" x2="1171.97" y2="408.3" stroke="#000" stroke-width="2.2"/>
<line x1="1166.47" y1="397.2" x2="1177.47" y2="397.2" stroke="#000" stroke-width="2.6"/>
<line x1="1166.47" y1="408.3" x2="1177.47" y2="408.3" stroke="#000" stroke-width="2.6"/>
<line x1="1171.97" y1="424" x2="1171.97" y2="444" stroke="#000" stroke-width="2.2"/>
<line x1="1166.47" y1="424" x2="1177.47" y2="424" stroke="#000" stroke-width="2.6"/>
<line x1="1166.47" y1="444" x2="1177.47" y2="444" stroke="#000" stroke-width="2.6"/>
<line x1="1171.97" y1="450.8" x2="1171.97" y2="468" stroke="#000" stroke-width="2.2"/>
<line x1="1166.47" y1="450.8" x2="1177.47" y2="450.8" stroke="#000" stroke-width="2.6"/>
<line x1="1166.47" y1="468" x2="1177.47" y2="468" stroke="#000" stroke-width="2.6"/>
<line x1="1342.1" y1="352.3" x2="1342.1" y2="384.3" stroke="#000" stroke-width="2.2"/>
<line x1="1336.6" y1="352.3" x2="1347.6" y2="352.3" stroke="#000" stroke-width="2.6"/>
<line x1="1336.6" y1="384.3" x2="1347.6" y2="384.3" stroke="#000" stroke-width="2.6"/>
<line x1="1342.1" y1="363" x2="1342.1" y2="406.9" stroke="#000" stroke-width="2.2"/>
<line x1="1336.6" y1="363" x2="1347.6" y2="363" stroke="#000" stroke-width="2.6"/>
<line x1="1336.6" y1="406.9" x2="1347.6" y2="406.9" stroke="#000" stroke-width="2.6"/>
<line x1="1342.1" y1="411.3" x2="1342.1" y2="427.6" stroke="#000" stroke-width="2.2"/>
<line x1="1336.6" y1="411.3" x2="1347.6" y2="411.3" stroke="#000" stroke-width="2.6"/>
<line x1="1336.6" y1="427.6" x2="1347.6" y2="427.6" stroke="#000" stroke-width="2.6"/>
<line x1="1342.1" y1="454.4" x2="1342.1" y2="473" stroke="#000" stroke-width="2.2"/>
<line x1="1336.6" y1="454.4" x2="1347.6" y2="454.4" stroke="#000" stroke-width="2.6"/>
<line x1="1336.6" y1="473" x2="1347.6" y2="473" stroke="#000" stroke-width="2.6"/>
<polyline points="831.7,135.3 867.14,149.12 902.59,176.41 973.48,366.44 1001.83,397.19 1136.52,437.96 1171.97,458.69 1342.1,464.56" fill="none" stroke="#000" stroke-width="2.8" stroke-linejoin="round" stroke-linecap="round"/>
<polyline points="831.7,135.3 867.14,170.2 902.59,164.32 973.48,292.85 1001.83,321.52 1136.52,405.14 1171.97,433.81 1342.1,419.3" fill="none" stroke="#000" stroke-width="2.8" stroke-linejoin="round" stroke-linecap="round"/>
<polyline points="831.7,135.3 867.14,151.88 902.59,143.25 973.48,286.28 1001.83,292.85 1136.52,365.06 1171.97,403.41 1342.1,385.1" fill="none" stroke="#000" stroke-width="2.8" stroke-linejoin="round" stroke-linecap="round"/>
<polyline points="831.7,135.3 867.14,146.01 902.59,127.01 973.48,270.39 1001.83,272.12 1136.52,310.81 1171.97,341.91 1342.1,368.17" fill="none" stroke="#000" stroke-width="2.8" stroke-linejoin="round" stroke-linecap="round"/>
<circle cx="831.7" cy="135.3" r="4.8" fill="url(#gw)" stroke="#000" stroke-width="2.4"/>
<circle cx="867.14" cy="149.12" r="4.8" fill="url(#gw)" stroke="#000" stroke-width="2.4"/>
<circle cx="902.59" cy="176.41" r="4.8" fill="url(#gw)" stroke="#000" stroke-width="2.4"/>
<circle cx="973.48" cy="366.44" r="4.8" fill="url(#gw)" stroke="#000" stroke-width="2.4"/>
<circle cx="1001.83" cy="397.19" r="4.8" fill="url(#gw)" stroke="#000" stroke-width="2.4"/>
<circle cx="1136.52" cy="437.96" r="4.8" fill="url(#gw)" stroke="#000" stroke-width="2.4"/>
<circle cx="1171.97" cy="458.69" r="4.8" fill="url(#gw)" stroke="#000" stroke-width="2.4"/>
<circle cx="1342.1" cy="464.56" r="4.8" fill="url(#gw)" stroke="#000" stroke-width="2.4"/>
<circle cx="831.7" cy="135.3" r="4.8" fill="url(#gg)" stroke="#000" stroke-width="2.4"/>
<circle cx="867.14" cy="170.2" r="4.8" fill="url(#gg)" stroke="#000" stroke-width="2.4"/>
<circle cx="902.59" cy="164.32" r="4.8" fill="url(#gg)" stroke="#000" stroke-width="2.4"/>
<circle cx="973.48" cy="292.85" r="4.8" fill="url(#gg)" stroke="#000" stroke-width="2.4"/>
<circle cx="1001.83" cy="321.52" r="4.8" fill="url(#gg)" stroke="#000" stroke-width="2.4"/>
<circle cx="1136.52" cy="405.14" r="4.8" fill="url(#gg)" stroke="#000" stroke-width="2.4"/>
<circle cx="1171.97" cy="433.81" r="4.8" fill="url(#gg)" stroke="#000" stroke-width="2.4"/>
<circle cx="1342.1" cy="419.3" r="4.8" fill="url(#gg)" stroke="#000" stroke-width="2.4"/>
<circle cx="831.7" cy="135.3" r="5.5" fill="#000" stroke="#000" stroke-width="1.5"/>
<circle cx="867.14" cy="151.88" r="5.5" fill="#000" stroke="#000" stroke-width="1.5"/>
<circle cx="902.59" cy="143.25" r="5.5" fill="#000" stroke="#000" stroke-width="1.5"/>
<circle cx="973.48" cy="286.28" r="5.5" fill="#000" stroke="#000" stroke-width="1.5"/>
<circle cx="1001.83" cy="292.85" r="5.5" fill="#000" stroke="#000" stroke-width="1.5"/>
<circle cx="1136.52" cy="365.06" r="5.5" fill="#000" stroke="#000" stroke-width="1.5"/>
<circle cx="1171.97" cy="403.41" r="5.5" fill="#000" stroke="#000" stroke-width="1.5"/>
<circle cx="1342.1" cy="385.1" r="5.5" fill="#000" stroke="#000" stroke-width="1.5"/>
<rect x="826.9" y="130.5" width="9.6" height="9.6" fill="url(#gw)" stroke="#000" stroke-width="2.4"/>
<rect x="862.34" y="141.21" width="9.6" height="9.6" fill="url(#gw)" stroke="#000" stroke-width="2.4"/>
<rect x="897.79" y="122.21" width="9.6" height="9.6" fill="url(#gw)" stroke="#000" stroke-width="2.4"/>
<rect x="968.68" y="265.59" width="9.6" height="9.6" fill="url(#gw)" stroke="#000" stroke-width="2.4"/>
<rect x="997.03" y="267.32" width="9.6" height="9.6" fill="url(#gw)" stroke="#000" stroke-width="2.4"/>
<rect x="1131.72" y="306.01" width="9.6" height="9.6" fill="url(#gw)" stroke="#000" stroke-width="2.4"/>
<rect x="1167.17" y="337.11" width="9.6" height="9.6" fill="url(#gw)" stroke="#000" stroke-width="2.4"/>
<rect x="1337.3" y="363.37" width="9.6" height="9.6" fill="url(#gw)" stroke="#000" stroke-width="2.4"/>
<line x1="1207.5" y1="84.6" x2="1248.7" y2="84.6" stroke="#000" stroke-width="2.8"/>
<circle cx="1228.1" cy="84.6" r="4.8" fill="url(#gw)" stroke="#000" stroke-width="2.4"/>
<text x="1252" y="94.2" font-size="22" fill="#000">100 µM</text>
<line x1="1207.5" y1="110.8" x2="1248.7" y2="110.8" stroke="#000" stroke-width="2.8"/>
<circle cx="1228.1" cy="110.8" r="4.8" fill="url(#gg)" stroke="#000" stroke-width="2.4"/>
<text x="1252" y="120.4" font-size="22" fill="#000">50 µM</text>
<line x1="1207.5" y1="136.8" x2="1248.7" y2="136.8" stroke="#000" stroke-width="2.8"/>
<circle cx="1228.1" cy="136.8" r="5.5" fill="#000" stroke="#000" stroke-width="1.5"/>
<text x="1252" y="146.4" font-size="22" fill="#000">25 µM</text>
<line x1="1207.5" y1="162.8" x2="1248.7" y2="162.8" stroke="#000" stroke-width="2.8"/>
<rect x="1223.3" y="158" width="9.6" height="9.6" fill="url(#gw)" stroke="#000" stroke-width="2.4"/>
<text x="1252" y="172.4" font-size="22" fill="#000">0 µM</text>
<rect x="827.8" y="598.2" width="516.6" height="411" fill="none" stroke="#000" stroke-width="2.2"/>
<line x1="827.8" y1="974.95" x2="833.3" y2="974.95" stroke="#000" stroke-width="2"/>
<line x1="827.8" y1="940.7" x2="833.3" y2="940.7" stroke="#000" stroke-width="2"/>
<line x1="827.8" y1="906.45" x2="833.3" y2="906.45" stroke="#000" stroke-width="2"/>
<line x1="827.8" y1="872.2" x2="833.3" y2="872.2" stroke="#000" stroke-width="2"/>
<line x1="827.8" y1="837.95" x2="833.3" y2="837.95" stroke="#000" stroke-width="2"/>
<line x1="827.8" y1="803.7" x2="833.3" y2="803.7" stroke="#000" stroke-width="2"/>
<line x1="827.8" y1="769.45" x2="833.3" y2="769.45" stroke="#000" stroke-width="2"/>
<line x1="827.8" y1="735.2" x2="833.3" y2="735.2" stroke="#000" stroke-width="2"/>
<line x1="827.8" y1="700.95" x2="833.3" y2="700.95" stroke="#000" stroke-width="2"/>
<line x1="827.8" y1="666.7" x2="833.3" y2="666.7" stroke="#000" stroke-width="2"/>
<line x1="827.8" y1="632.45" x2="833.3" y2="632.45" stroke="#000" stroke-width="2"/>
<line x1="870.85" y1="1009.2" x2="870.85" y2="1003.7" stroke="#000" stroke-width="2"/>
<line x1="913.9" y1="1009.2" x2="913.9" y2="1003.7" stroke="#000" stroke-width="2"/>
<line x1="956.95" y1="1009.2" x2="956.95" y2="1003.7" stroke="#000" stroke-width="2"/>
<line x1="1000" y1="1009.2" x2="1000" y2="1003.7" stroke="#000" stroke-width="2"/>
<line x1="1043.05" y1="1009.2" x2="1043.05" y2="1003.7" stroke="#000" stroke-width="2"/>
<line x1="1086.1" y1="1009.2" x2="1086.1" y2="1003.7" stroke="#000" stroke-width="2"/>
<line x1="1129.15" y1="1009.2" x2="1129.15" y2="1003.7" stroke="#000" stroke-width="2"/>
<line x1="1172.2" y1="1009.2" x2="1172.2" y2="1003.7" stroke="#000" stroke-width="2"/>
<line x1="1215.25" y1="1009.2" x2="1215.25" y2="1003.7" stroke="#000" stroke-width="2"/>
<line x1="1258.3" y1="1009.2" x2="1258.3" y2="1003.7" stroke="#000" stroke-width="2"/>
<line x1="1301.35" y1="1009.2" x2="1301.35" y2="1003.7" stroke="#000" stroke-width="2"/>
<text x="809" y="1018.5" font-size="22" text-anchor="end" fill="#000">0</text>
<text x="827.8" y="1045" font-size="22" text-anchor="middle" fill="#000">0</text>
<text x="809" y="950" font-size="22" text-anchor="end" fill="#000">20</text>
<text x="913.9" y="1045" font-size="22" text-anchor="middle" fill="#000">12</text>
<text x="809" y="881.5" font-size="22" text-anchor="end" fill="#000">40</text>
<text x="1000" y="1045" font-size="22" text-anchor="middle" fill="#000">24</text>
<text x="809" y="813" font-size="22" text-anchor="end" fill="#000">60</text>
<text x="1086.1" y="1045" font-size="22" text-anchor="middle" fill="#000">36</text>
<text x="809" y="744.5" font-size="22" text-anchor="end" fill="#000">80</text>
<text x="1172.2" y="1045" font-size="22" text-anchor="middle" fill="#000">48</text>
<text x="809" y="676" font-size="22" text-anchor="end" fill="#000">100</text>
<text x="1258.3" y="1045" font-size="22" text-anchor="middle" fill="#000">60</text>
<text x="809" y="607.5" font-size="22" text-anchor="end" fill="#000">120</text>
<text x="1344.4" y="1045" font-size="22" text-anchor="middle" fill="#000">72</text>
<text x="1086" y="1077" font-size="22.5" text-anchor="middle" fill="#000">Incubation time [h]</text>
<text x="757.5" y="815.6" font-size="22.5" text-anchor="middle" transform="rotate(-90 757.5 815.6)" fill="#000">Normalized BTD21 fluorescence [%]</text>
<line x1="827.8" y1="618.6" x2="827.8" y2="714.2" stroke="#000" stroke-width="2.2"/>
<line x1="822.3" y1="618.6" x2="833.3" y2="618.6" stroke="#000" stroke-width="2.6"/>
<line x1="822.3" y1="714.2" x2="833.3" y2="714.2" stroke="#000" stroke-width="2.6"/>
<line x1="827.8" y1="622.3" x2="827.8" y2="711" stroke="#000" stroke-width="2.2"/>
<line x1="822.3" y1="622.3" x2="833.3" y2="622.3" stroke="#000" stroke-width="2.6"/>
<line x1="822.3" y1="711" x2="833.3" y2="711" stroke="#000" stroke-width="2.6"/>
<line x1="827.8" y1="635.3" x2="827.8" y2="700.5" stroke="#000" stroke-width="2.2"/>
<line x1="822.3" y1="635.3" x2="833.3" y2="635.3" stroke="#000" stroke-width="2.6"/>
<line x1="822.3" y1="700.5" x2="833.3" y2="700.5" stroke="#000" stroke-width="2.6"/>
<line x1="827.8" y1="641.4" x2="827.8" y2="693.5" stroke="#6e6e6e" stroke-width="2.2"/>
<line x1="822.3" y1="641.4" x2="833.3" y2="641.4" stroke="#6e6e6e" stroke-width="2.6"/>
<line x1="822.3" y1="693.5" x2="833.3" y2="693.5" stroke="#6e6e6e" stroke-width="2.6"/>
<line x1="863.67" y1="631" x2="863.67" y2="730" stroke="#000" stroke-width="2.2"/>
<line x1="858.17" y1="631" x2="869.17" y2="631" stroke="#000" stroke-width="2.6"/>
<line x1="858.17" y1="730" x2="869.17" y2="730" stroke="#000" stroke-width="2.6"/>
<line x1="863.67" y1="720" x2="863.67" y2="747.6" stroke="#6e6e6e" stroke-width="2.2"/>
<line x1="858.17" y1="720" x2="869.17" y2="720" stroke="#6e6e6e" stroke-width="2.6"/>
<line x1="858.17" y1="747.6" x2="869.17" y2="747.6" stroke="#6e6e6e" stroke-width="2.6"/>
<line x1="899.55" y1="695" x2="899.55" y2="726.7" stroke="#000" stroke-width="2.2"/>
<line x1="894.05" y1="695" x2="905.05" y2="695" stroke="#000" stroke-width="2.6"/>
<line x1="894.05" y1="726.7" x2="905.05" y2="726.7" stroke="#000" stroke-width="2.6"/>
<line x1="899.55" y1="760" x2="899.55" y2="841.8" stroke="#000" stroke-width="2.2"/>
<line x1="894.05" y1="760" x2="905.05" y2="760" stroke="#000" stroke-width="2.6"/>
<line x1="894.05" y1="841.8" x2="905.05" y2="841.8" stroke="#000" stroke-width="2.6"/>
<line x1="899.55" y1="800" x2="899.55" y2="856.1" stroke="#000" stroke-width="2.2"/>
<line x1="894.05" y1="800" x2="905.05" y2="800" stroke="#000" stroke-width="2.6"/>
<line x1="894.05" y1="856.1" x2="905.05" y2="856.1" stroke="#000" stroke-width="2.6"/>
<line x1="971.3" y1="772" x2="971.3" y2="790.5" stroke="#000" stroke-width="2.2"/>
<line x1="965.8" y1="772" x2="976.8" y2="772" stroke="#000" stroke-width="2.6"/>
<line x1="965.8" y1="790.5" x2="976.8" y2="790.5" stroke="#000" stroke-width="2.6"/>
<line x1="971.3" y1="829.8" x2="971.3" y2="850" stroke="#000" stroke-width="2.2"/>
<line x1="965.8" y1="829.8" x2="976.8" y2="829.8" stroke="#000" stroke-width="2.6"/>
<line x1="965.8" y1="850" x2="976.8" y2="850" stroke="#000" stroke-width="2.6"/>
<line x1="971.3" y1="840" x2="971.3" y2="893" stroke="#000" stroke-width="2.2"/>
<line x1="965.8" y1="840" x2="976.8" y2="840" stroke="#000" stroke-width="2.6"/>
<line x1="965.8" y1="893" x2="976.8" y2="893" stroke="#000" stroke-width="2.6"/>
<line x1="1000" y1="752.2" x2="1000" y2="856" stroke="#000" stroke-width="2.2"/>
<line x1="994.5" y1="752.2" x2="1005.5" y2="752.2" stroke="#000" stroke-width="2.6"/>
<line x1="994.5" y1="856" x2="1005.5" y2="856" stroke="#000" stroke-width="2.6"/>
<line x1="1000" y1="810.8" x2="1000" y2="857.9" stroke="#000" stroke-width="2.2"/>
<line x1="994.5" y1="810.8" x2="1005.5" y2="810.8" stroke="#000" stroke-width="2.6"/>
<line x1="994.5" y1="857.9" x2="1005.5" y2="857.9" stroke="#000" stroke-width="2.6"/>
<line x1="1000" y1="880" x2="1000" y2="902.3" stroke="#000" stroke-width="2.2"/>
<line x1="994.5" y1="880" x2="1005.5" y2="880" stroke="#000" stroke-width="2.6"/>
<line x1="994.5" y1="902.3" x2="1005.5" y2="902.3" stroke="#000" stroke-width="2.6"/>
<line x1="1136.33" y1="829.2" x2="1136.33" y2="850" stroke="#000" stroke-width="2.2"/>
<line x1="1130.83" y1="829.2" x2="1141.83" y2="829.2" stroke="#000" stroke-width="2.6"/>
<line x1="1130.83" y1="850" x2="1141.83" y2="850" stroke="#000" stroke-width="2.6"/>
<line x1="1136.33" y1="853.8" x2="1136.33" y2="877.9" stroke="#000" stroke-width="2.2"/>
<line x1="1130.83" y1="853.8" x2="1141.83" y2="853.8" stroke="#000" stroke-width="2.6"/>
<line x1="1130.83" y1="877.9" x2="1141.83" y2="877.9" stroke="#000" stroke-width="2.6"/>
<line x1="1136.33" y1="899.9" x2="1136.33" y2="914.1" stroke="#6e6e6e" stroke-width="2.2"/>
<line x1="1130.83" y1="899.9" x2="1141.83" y2="899.9" stroke="#6e6e6e" stroke-width="2.6"/>
<line x1="1130.83" y1="914.1" x2="1141.83" y2="914.1" stroke="#6e6e6e" stroke-width="2.6"/>
<line x1="1136.33" y1="912" x2="1136.33" y2="947.1" stroke="#000" stroke-width="2.2"/>
<line x1="1130.83" y1="912" x2="1141.83" y2="912" stroke="#000" stroke-width="2.6"/>
<line x1="1130.83" y1="947.1" x2="1141.83" y2="947.1" stroke="#000" stroke-width="2.6"/>
<line x1="1172.2" y1="853.8" x2="1172.2" y2="882" stroke="#000" stroke-width="2.2"/>
<line x1="1166.7" y1="853.8" x2="1177.7" y2="853.8" stroke="#000" stroke-width="2.6"/>
<line x1="1166.7" y1="882" x2="1177.7" y2="882" stroke="#000" stroke-width="2.6"/>
<line x1="1172.2" y1="925.5" x2="1172.2" y2="940.5" stroke="#6e6e6e" stroke-width="2.2"/>
<line x1="1166.7" y1="925.5" x2="1177.7" y2="925.5" stroke="#6e6e6e" stroke-width="2.6"/>
<line x1="1166.7" y1="940.5" x2="1177.7" y2="940.5" stroke="#6e6e6e" stroke-width="2.6"/>
<line x1="1172.2" y1="950.4" x2="1172.2" y2="964.2" stroke="#000" stroke-width="2.2"/>
<line x1="1166.7" y1="950.4" x2="1177.7" y2="950.4" stroke="#000" stroke-width="2.6"/>
<line x1="1166.7" y1="964.2" x2="1177.7" y2="964.2" stroke="#000" stroke-width="2.6"/>
<line x1="1344.4" y1="899.2" x2="1344.4" y2="935" stroke="#000" stroke-width="2.2"/>
<line x1="1338.9" y1="899.2" x2="1349.9" y2="899.2" stroke="#000" stroke-width="2.6"/>
<line x1="1338.9" y1="935" x2="1349.9" y2="935" stroke="#000" stroke-width="2.6"/>
<line x1="1344.4" y1="952.5" x2="1344.4" y2="962.4" stroke="#000" stroke-width="2.2"/>
<line x1="1338.9" y1="952.5" x2="1349.9" y2="952.5" stroke="#000" stroke-width="2.6"/>
<line x1="1338.9" y1="962.4" x2="1349.9" y2="962.4" stroke="#000" stroke-width="2.6"/>
<line x1="1344.4" y1="988.8" x2="1344.4" y2="1000" stroke="#000" stroke-width="2.2"/>
<line x1="1338.9" y1="988.8" x2="1349.9" y2="988.8" stroke="#000" stroke-width="2.6"/>
<line x1="1338.9" y1="1000" x2="1349.9" y2="1000" stroke="#000" stroke-width="2.6"/>
<polyline points="827.8,667 863.67,715.6 899.55,828.4 971.3,860.7 1000,891.2 1136.33,929.5 1172.2,956.3 1344.4,994.9" fill="none" stroke="#000" stroke-width="2.8" stroke-linejoin="round" stroke-linecap="round"/>
<polyline points="827.8,667 863.67,733.2 899.55,819.7 971.3,839.8 1000,876.4 1136.33,907.1 1172.2,933.5 1344.4,978.2" fill="none" stroke="#000" stroke-width="2.8" stroke-linejoin="round" stroke-linecap="round"/>
<polyline points="827.8,667 863.67,706.8 899.55,800.6 971.3,806.6 1000,835.8 1136.33,865.8 1172.2,887.4 1344.4,957.6" fill="none" stroke="#000" stroke-width="2.8" stroke-linejoin="round" stroke-linecap="round"/>
<polyline points="827.8,667 863.67,680.5 899.55,717.1 971.3,776.6 1000,803 1136.33,839.5 1172.2,868 1344.4,917.4" fill="none" stroke="#000" stroke-width="2.8" stroke-linejoin="round" stroke-linecap="round"/>
<circle cx="827.8" cy="667" r="4.8" fill="url(#gw)" stroke="#000" stroke-width="2.4"/>
<circle cx="863.67" cy="715.6" r="4.8" fill="url(#gw)" stroke="#000" stroke-width="2.4"/>
<circle cx="899.55" cy="828.4" r="4.8" fill="url(#gw)" stroke="#000" stroke-width="2.4"/>
<circle cx="971.3" cy="860.7" r="4.8" fill="url(#gw)" stroke="#000" stroke-width="2.4"/>
<circle cx="1000" cy="891.2" r="4.8" fill="url(#gw)" stroke="#000" stroke-width="2.4"/>
<circle cx="1136.33" cy="929.5" r="4.8" fill="url(#gw)" stroke="#000" stroke-width="2.4"/>
<circle cx="1172.2" cy="956.3" r="4.8" fill="url(#gw)" stroke="#000" stroke-width="2.4"/>
<circle cx="1344.4" cy="994.9" r="4.8" fill="url(#gw)" stroke="#000" stroke-width="2.4"/>
<circle cx="827.8" cy="667" r="4.8" fill="url(#gg)" stroke="#000" stroke-width="2.4"/>
<circle cx="863.67" cy="733.2" r="4.8" fill="url(#gg)" stroke="#000" stroke-width="2.4"/>
<circle cx="899.55" cy="819.7" r="4.8" fill="url(#gg)" stroke="#000" stroke-width="2.4"/>
<circle cx="971.3" cy="839.8" r="4.8" fill="url(#gg)" stroke="#000" stroke-width="2.4"/>
<circle cx="1000" cy="876.4" r="4.8" fill="url(#gg)" stroke="#000" stroke-width="2.4"/>
<circle cx="1136.33" cy="907.1" r="4.8" fill="url(#gg)" stroke="#000" stroke-width="2.4"/>
<circle cx="1172.2" cy="933.5" r="4.8" fill="url(#gg)" stroke="#000" stroke-width="2.4"/>
<circle cx="1344.4" cy="978.2" r="4.8" fill="url(#gg)" stroke="#000" stroke-width="2.4"/>
<circle cx="827.8" cy="667" r="5.5" fill="#000" stroke="#000" stroke-width="1.5"/>
<circle cx="863.67" cy="706.8" r="5.5" fill="#000" stroke="#000" stroke-width="1.5"/>
<circle cx="899.55" cy="800.6" r="5.5" fill="#000" stroke="#000" stroke-width="1.5"/>
<circle cx="971.3" cy="806.6" r="5.5" fill="#000" stroke="#000" stroke-width="1.5"/>
<circle cx="1000" cy="835.8" r="5.5" fill="#000" stroke="#000" stroke-width="1.5"/>
<circle cx="1136.33" cy="865.8" r="5.5" fill="#000" stroke="#000" stroke-width="1.5"/>
<circle cx="1172.2" cy="887.4" r="5.5" fill="#000" stroke="#000" stroke-width="1.5"/>
<circle cx="1344.4" cy="957.6" r="5.5" fill="#000" stroke="#000" stroke-width="1.5"/>
<rect x="823" y="662.2" width="9.6" height="9.6" fill="url(#gw)" stroke="#000" stroke-width="2.4"/>
<rect x="858.88" y="675.7" width="9.6" height="9.6" fill="url(#gw)" stroke="#000" stroke-width="2.4"/>
<rect x="894.75" y="712.3" width="9.6" height="9.6" fill="url(#gw)" stroke="#000" stroke-width="2.4"/>
<rect x="966.5" y="771.8" width="9.6" height="9.6" fill="url(#gw)" stroke="#000" stroke-width="2.4"/>
<rect x="995.2" y="798.2" width="9.6" height="9.6" fill="url(#gw)" stroke="#000" stroke-width="2.4"/>
<rect x="1131.53" y="834.7" width="9.6" height="9.6" fill="url(#gw)" stroke="#000" stroke-width="2.4"/>
<rect x="1167.4" y="863.2" width="9.6" height="9.6" fill="url(#gw)" stroke="#000" stroke-width="2.4"/>
<rect x="1339.6" y="912.6" width="9.6" height="9.6" fill="url(#gw)" stroke="#000" stroke-width="2.4"/>
<line x1="1211.4" y1="618.3" x2="1252.3" y2="618.3" stroke="#000" stroke-width="2.8"/>
<circle cx="1231.85" cy="618.3" r="4.8" fill="url(#gw)" stroke="#000" stroke-width="2.4"/>
<text x="1254.8" y="627.9" font-size="22" fill="#000">100 µM</text>
<line x1="1211.4" y1="644.2" x2="1252.3" y2="644.2" stroke="#000" stroke-width="2.8"/>
<circle cx="1231.85" cy="644.2" r="4.8" fill="url(#gg)" stroke="#000" stroke-width="2.4"/>
<text x="1254.8" y="653.8" font-size="22" fill="#000">50 µM</text>
<line x1="1211.4" y1="670.1" x2="1252.3" y2="670.1" stroke="#000" stroke-width="2.8"/>
<circle cx="1231.85" cy="670.1" r="5.5" fill="#000" stroke="#000" stroke-width="1.5"/>
<text x="1254.8" y="679.7" font-size="22" fill="#000">25 µM</text>
<line x1="1211.4" y1="696.1" x2="1252.3" y2="696.1" stroke="#000" stroke-width="2.8"/>
<rect x="1227.05" y="691.3" width="9.6" height="9.6" fill="url(#gw)" stroke="#000" stroke-width="2.4"/>
<text x="1254.8" y="705.7" font-size="22" fill="#000">0 µM</text>
<text x="16" y="1183.5" font-size="38.5" fill="#000" transform="translate(16 0) scale(0.9 1) translate(-16 0)">B</text>
<rect x="178.69" y="1471.68" width="31" height="106.52" fill="#a5a5a5" stroke="#000" stroke-width="1.6"/>
<rect x="204.79" y="1489.94" width="31" height="88.26" fill="#f2f2f2" stroke="#000" stroke-width="1.6"/>
<line x1="194.19" y1="1463.16" x2="194.19" y2="1480.81" stroke="#000" stroke-width="2.2"/>
<line x1="190.19" y1="1463.16" x2="198.19" y2="1463.16" stroke="#000" stroke-width="2.2"/>
<line x1="190.19" y1="1480.81" x2="198.19" y2="1480.81" stroke="#000" stroke-width="2.2"/>
<line x1="220.29" y1="1479.9" x2="220.29" y2="1499.38" stroke="#000" stroke-width="2.2"/>
<line x1="216.29" y1="1479.9" x2="224.29" y2="1479.9" stroke="#000" stroke-width="2.2"/>
<line x1="216.29" y1="1499.38" x2="224.29" y2="1499.38" stroke="#000" stroke-width="2.2"/>
<rect x="266.77" y="1466.51" width="31" height="111.69" fill="#a5a5a5" stroke="#000" stroke-width="1.6"/>
<rect x="292.88" y="1447.34" width="31" height="130.86" fill="#f2f2f2" stroke="#000" stroke-width="1.6"/>
<line x1="282.27" y1="1457.08" x2="282.27" y2="1477.16" stroke="#000" stroke-width="2.2"/>
<line x1="278.27" y1="1457.08" x2="286.27" y2="1457.08" stroke="#000" stroke-width="2.2"/>
<line x1="278.27" y1="1477.16" x2="286.27" y2="1477.16" stroke="#000" stroke-width="2.2"/>
<line x1="308.38" y1="1442.16" x2="308.38" y2="1453.42" stroke="#000" stroke-width="2.2"/>
<line x1="304.38" y1="1442.16" x2="312.38" y2="1442.16" stroke="#000" stroke-width="2.2"/>
<line x1="304.38" y1="1453.42" x2="312.38" y2="1453.42" stroke="#000" stroke-width="2.2"/>
<rect x="354.86" y="1410.82" width="31" height="167.38" fill="#a5a5a5" stroke="#000" stroke-width="1.6"/>
<rect x="380.96" y="1415.99" width="31" height="162.21" fill="#f2f2f2" stroke="#000" stroke-width="1.6"/>
<line x1="370.36" y1="1386.77" x2="370.36" y2="1436.99" stroke="#000" stroke-width="2.2"/>
<line x1="366.36" y1="1386.77" x2="374.36" y2="1386.77" stroke="#000" stroke-width="2.2"/>
<line x1="366.36" y1="1436.99" x2="374.36" y2="1436.99" stroke="#000" stroke-width="2.2"/>
<line x1="396.46" y1="1402.9" x2="396.46" y2="1429.38" stroke="#000" stroke-width="2.2"/>
<line x1="392.46" y1="1402.9" x2="400.46" y2="1402.9" stroke="#000" stroke-width="2.2"/>
<line x1="392.46" y1="1429.38" x2="400.46" y2="1429.38" stroke="#000" stroke-width="2.2"/>
<rect x="442.94" y="1371.25" width="31" height="206.95" fill="#a5a5a5" stroke="#000" stroke-width="1.6"/>
<rect x="469.04" y="1403.21" width="31" height="174.99" fill="#f2f2f2" stroke="#000" stroke-width="1.6"/>
<line x1="458.44" y1="1363.64" x2="458.44" y2="1380.69" stroke="#000" stroke-width="2.2"/>
<line x1="454.44" y1="1363.64" x2="462.44" y2="1363.64" stroke="#000" stroke-width="2.2"/>
<line x1="454.44" y1="1380.69" x2="462.44" y2="1380.69" stroke="#000" stroke-width="2.2"/>
<line x1="484.54" y1="1377.34" x2="484.54" y2="1430.6" stroke="#000" stroke-width="2.2"/>
<line x1="480.54" y1="1377.34" x2="488.54" y2="1377.34" stroke="#000" stroke-width="2.2"/>
<line x1="480.54" y1="1430.6" x2="488.54" y2="1430.6" stroke="#000" stroke-width="2.2"/>
<rect x="531.03" y="1325.6" width="31" height="252.6" fill="#a5a5a5" stroke="#000" stroke-width="1.6"/>
<rect x="557.13" y="1355.12" width="31" height="223.08" fill="#f2f2f2" stroke="#000" stroke-width="1.6"/>
<line x1="546.53" y1="1310.69" x2="546.53" y2="1342.95" stroke="#000" stroke-width="2.2"/>
<line x1="542.53" y1="1310.69" x2="550.53" y2="1310.69" stroke="#000" stroke-width="2.2"/>
<line x1="542.53" y1="1342.95" x2="550.53" y2="1342.95" stroke="#000" stroke-width="2.2"/>
<line x1="572.63" y1="1343.25" x2="572.63" y2="1369.12" stroke="#000" stroke-width="2.2"/>
<line x1="568.63" y1="1343.25" x2="576.63" y2="1343.25" stroke="#000" stroke-width="2.2"/>
<line x1="568.63" y1="1369.12" x2="576.63" y2="1369.12" stroke="#000" stroke-width="2.2"/>
<rect x="619.11" y="1302.78" width="31" height="275.42" fill="#a5a5a5" stroke="#000" stroke-width="1.6"/>
<rect x="645.21" y="1339.3" width="31" height="238.9" fill="#f2f2f2" stroke="#000" stroke-width="1.6"/>
<line x1="634.61" y1="1281.78" x2="634.61" y2="1324.08" stroke="#000" stroke-width="2.2"/>
<line x1="630.61" y1="1281.78" x2="638.61" y2="1281.78" stroke="#000" stroke-width="2.2"/>
<line x1="630.61" y1="1324.08" x2="638.61" y2="1324.08" stroke="#000" stroke-width="2.2"/>
<line x1="660.71" y1="1335.65" x2="660.71" y2="1344.47" stroke="#000" stroke-width="2.2"/>
<line x1="656.71" y1="1335.65" x2="664.71" y2="1335.65" stroke="#000" stroke-width="2.2"/>
<line x1="656.71" y1="1344.47" x2="664.71" y2="1344.47" stroke="#000" stroke-width="2.2"/>
<rect x="163.2" y="1213" width="528.5" height="365.2" fill="none" stroke="#000" stroke-width="2"/>
<line x1="163.2" y1="1547.77" x2="168.2" y2="1547.77" stroke="#000" stroke-width="1.6"/>
<line x1="163.2" y1="1517.33" x2="170.2" y2="1517.33" stroke="#000" stroke-width="1.6"/>
<line x1="163.2" y1="1486.9" x2="168.2" y2="1486.9" stroke="#000" stroke-width="1.6"/>
<line x1="163.2" y1="1456.47" x2="170.2" y2="1456.47" stroke="#000" stroke-width="1.6"/>
<line x1="163.2" y1="1426.03" x2="168.2" y2="1426.03" stroke="#000" stroke-width="1.6"/>
<line x1="163.2" y1="1395.6" x2="170.2" y2="1395.6" stroke="#000" stroke-width="1.6"/>
<line x1="163.2" y1="1365.17" x2="168.2" y2="1365.17" stroke="#000" stroke-width="1.6"/>
<line x1="163.2" y1="1334.73" x2="170.2" y2="1334.73" stroke="#000" stroke-width="1.6"/>
<line x1="163.2" y1="1304.3" x2="168.2" y2="1304.3" stroke="#000" stroke-width="1.6"/>
<line x1="163.2" y1="1273.87" x2="170.2" y2="1273.87" stroke="#000" stroke-width="1.6"/>
<line x1="163.2" y1="1243.43" x2="168.2" y2="1243.43" stroke="#000" stroke-width="1.6"/>
<line x1="251.28" y1="1578.2" x2="251.28" y2="1571.2" stroke="#000" stroke-width="1.6"/>
<line x1="339.37" y1="1578.2" x2="339.37" y2="1571.2" stroke="#000" stroke-width="1.6"/>
<line x1="427.45" y1="1578.2" x2="427.45" y2="1571.2" stroke="#000" stroke-width="1.6"/>
<line x1="515.53" y1="1578.2" x2="515.53" y2="1571.2" stroke="#000" stroke-width="1.6"/>
<line x1="603.62" y1="1578.2" x2="603.62" y2="1571.2" stroke="#000" stroke-width="1.6"/>
<text x="141" y="1585.9" font-size="21.6" text-anchor="end" fill="#222">0</text>
<text x="141" y="1525.03" font-size="21.6" text-anchor="end" fill="#222">20</text>
<text x="141" y="1464.17" font-size="21.6" text-anchor="end" fill="#222">40</text>
<text x="141" y="1403.3" font-size="21.6" text-anchor="end" fill="#222">60</text>
<text x="141" y="1342.43" font-size="21.6" text-anchor="end" fill="#222">80</text>
<text x="141" y="1281.57" font-size="21.6" text-anchor="end" fill="#222">100</text>
<text x="141" y="1220.7" font-size="21.6" text-anchor="end" fill="#222">120</text>
<text x="207.24" y="1616" font-size="21.6" text-anchor="middle" fill="#222">0</text>
<text x="295.32" y="1616" font-size="21.6" text-anchor="middle" fill="#222">1</text>
<text x="383.41" y="1616" font-size="21.6" text-anchor="middle" fill="#222">2.5</text>
<text x="471.49" y="1616" font-size="21.6" text-anchor="middle" fill="#222">5</text>
<text x="559.58" y="1616" font-size="21.6" text-anchor="middle" fill="#222">10</text>
<text x="647.66" y="1616" font-size="21.6" text-anchor="middle" fill="#222">25</text>
<text x="431" y="1646.6" font-size="21.6" text-anchor="middle" textLength="167" lengthAdjust="spacingAndGlyphs" fill="#222">Minocycline [µM]</text>
<text x="94" y="1397.3" font-size="21.6" text-anchor="middle" transform="rotate(-90 94 1397.3)" textLength="357" lengthAdjust="spacingAndGlyphs" fill="#222">Normalized protein concentration [%]</text>
<rect x="480.7" y="1220.1" width="12.6" height="12.6" fill="#a5a5a5" stroke="#000" stroke-width="1.4"/>
<text x="499" y="1233.9" font-size="21.6" textLength="57" lengthAdjust="spacingAndGlyphs" fill="#222">Lispro</text>
<rect x="576.5" y="1220.1" width="12.6" height="12.6" fill="#f2f2f2" stroke="#000" stroke-width="1.4"/>
<text x="596" y="1233.9" font-size="21.6" fill="#222">Detemir</text>
<rect x="837.78" y="1498.92" width="31" height="74.28" fill="#a5a5a5" stroke="#000" stroke-width="1.6"/>
<rect x="863.88" y="1485.58" width="31" height="87.62" fill="#f2f2f2" stroke="#000" stroke-width="1.6"/>
<line x1="853.28" y1="1490.13" x2="853.28" y2="1507.72" stroke="#000" stroke-width="2.2"/>
<line x1="849.28" y1="1490.13" x2="857.28" y2="1490.13" stroke="#000" stroke-width="2.2"/>
<line x1="849.28" y1="1507.72" x2="857.28" y2="1507.72" stroke="#000" stroke-width="2.2"/>
<line x1="879.38" y1="1474.37" x2="879.38" y2="1496.2" stroke="#000" stroke-width="2.2"/>
<line x1="875.38" y1="1474.37" x2="883.38" y2="1474.37" stroke="#000" stroke-width="2.2"/>
<line x1="875.38" y1="1496.2" x2="883.38" y2="1496.2" stroke="#000" stroke-width="2.2"/>
<rect x="925.85" y="1467.09" width="31" height="106.11" fill="#a5a5a5" stroke="#000" stroke-width="1.6"/>
<rect x="951.95" y="1420.1" width="31" height="153.1" fill="#f2f2f2" stroke="#000" stroke-width="1.6"/>
<line x1="941.35" y1="1466.18" x2="941.35" y2="1468" stroke="#000" stroke-width="2.2"/>
<line x1="937.35" y1="1466.18" x2="945.35" y2="1466.18" stroke="#000" stroke-width="2.2"/>
<line x1="937.35" y1="1468" x2="945.35" y2="1468" stroke="#000" stroke-width="2.2"/>
<line x1="967.45" y1="1408.58" x2="967.45" y2="1429.2" stroke="#000" stroke-width="2.2"/>
<line x1="963.45" y1="1408.58" x2="971.45" y2="1408.58" stroke="#000" stroke-width="2.2"/>
<line x1="963.45" y1="1429.2" x2="971.45" y2="1429.2" stroke="#000" stroke-width="2.2"/>
<rect x="1013.92" y="1462.85" width="31" height="110.35" fill="#a5a5a5" stroke="#000" stroke-width="1.6"/>
<rect x="1040.02" y="1412.82" width="31" height="160.38" fill="#f2f2f2" stroke="#000" stroke-width="1.6"/>
<line x1="1029.42" y1="1458.3" x2="1029.42" y2="1467.09" stroke="#000" stroke-width="2.2"/>
<line x1="1025.42" y1="1458.3" x2="1033.42" y2="1458.3" stroke="#000" stroke-width="2.2"/>
<line x1="1025.42" y1="1467.09" x2="1033.42" y2="1467.09" stroke="#000" stroke-width="2.2"/>
<line x1="1055.52" y1="1405.55" x2="1055.52" y2="1420.1" stroke="#000" stroke-width="2.2"/>
<line x1="1051.52" y1="1405.55" x2="1059.52" y2="1405.55" stroke="#000" stroke-width="2.2"/>
<line x1="1051.52" y1="1420.1" x2="1059.52" y2="1420.1" stroke="#000" stroke-width="2.2"/>
<rect x="1101.98" y="1407.06" width="31" height="166.14" fill="#a5a5a5" stroke="#000" stroke-width="1.6"/>
<rect x="1128.08" y="1395.24" width="31" height="177.96" fill="#f2f2f2" stroke="#000" stroke-width="1.6"/>
<line x1="1117.48" y1="1398.88" x2="1117.48" y2="1415.25" stroke="#000" stroke-width="2.2"/>
<line x1="1113.48" y1="1398.88" x2="1121.48" y2="1398.88" stroke="#000" stroke-width="2.2"/>
<line x1="1113.48" y1="1415.25" x2="1121.48" y2="1415.25" stroke="#000" stroke-width="2.2"/>
<line x1="1143.58" y1="1382.51" x2="1143.58" y2="1409.19" stroke="#000" stroke-width="2.2"/>
<line x1="1139.58" y1="1382.51" x2="1147.58" y2="1382.51" stroke="#000" stroke-width="2.2"/>
<line x1="1139.58" y1="1409.19" x2="1147.58" y2="1409.19" stroke="#000" stroke-width="2.2"/>
<rect x="1190.05" y="1353.4" width="31" height="219.8" fill="#a5a5a5" stroke="#000" stroke-width="1.6"/>
<rect x="1216.15" y="1360.07" width="31" height="213.13" fill="#f2f2f2" stroke="#000" stroke-width="1.6"/>
<line x1="1205.55" y1="1347.64" x2="1205.55" y2="1358.56" stroke="#000" stroke-width="2.2"/>
<line x1="1201.55" y1="1347.64" x2="1209.55" y2="1347.64" stroke="#000" stroke-width="2.2"/>
<line x1="1201.55" y1="1358.56" x2="1209.55" y2="1358.56" stroke="#000" stroke-width="2.2"/>
<line x1="1231.65" y1="1341.58" x2="1231.65" y2="1378.57" stroke="#000" stroke-width="2.2"/>
<line x1="1227.65" y1="1341.58" x2="1235.65" y2="1341.58" stroke="#000" stroke-width="2.2"/>
<line x1="1227.65" y1="1378.57" x2="1235.65" y2="1378.57" stroke="#000" stroke-width="2.2"/>
<rect x="1278.12" y="1319.15" width="31" height="254.05" fill="#a5a5a5" stroke="#000" stroke-width="1.6"/>
<rect x="1304.22" y="1340.06" width="31" height="233.14" fill="#f2f2f2" stroke="#000" stroke-width="1.6"/>
<line x1="1293.62" y1="1290.95" x2="1293.62" y2="1345.83" stroke="#000" stroke-width="2.2"/>
<line x1="1289.62" y1="1290.95" x2="1297.62" y2="1290.95" stroke="#000" stroke-width="2.2"/>
<line x1="1289.62" y1="1345.83" x2="1297.62" y2="1345.83" stroke="#000" stroke-width="2.2"/>
<line x1="1319.72" y1="1313.99" x2="1319.72" y2="1364.62" stroke="#000" stroke-width="2.2"/>
<line x1="1315.72" y1="1313.99" x2="1323.72" y2="1313.99" stroke="#000" stroke-width="2.2"/>
<line x1="1315.72" y1="1364.62" x2="1323.72" y2="1364.62" stroke="#000" stroke-width="2.2"/>
<rect x="822.3" y="1209.4" width="528.4" height="363.8" fill="none" stroke="#000" stroke-width="2"/>
<line x1="822.3" y1="1542.88" x2="827.3" y2="1542.88" stroke="#000" stroke-width="1.6"/>
<line x1="822.3" y1="1512.57" x2="829.3" y2="1512.57" stroke="#000" stroke-width="1.6"/>
<line x1="822.3" y1="1482.25" x2="827.3" y2="1482.25" stroke="#000" stroke-width="1.6"/>
<line x1="822.3" y1="1451.93" x2="829.3" y2="1451.93" stroke="#000" stroke-width="1.6"/>
<line x1="822.3" y1="1421.62" x2="827.3" y2="1421.62" stroke="#000" stroke-width="1.6"/>
<line x1="822.3" y1="1391.3" x2="829.3" y2="1391.3" stroke="#000" stroke-width="1.6"/>
<line x1="822.3" y1="1360.98" x2="827.3" y2="1360.98" stroke="#000" stroke-width="1.6"/>
<line x1="822.3" y1="1330.67" x2="829.3" y2="1330.67" stroke="#000" stroke-width="1.6"/>
<line x1="822.3" y1="1300.35" x2="827.3" y2="1300.35" stroke="#000" stroke-width="1.6"/>
<line x1="822.3" y1="1270.03" x2="829.3" y2="1270.03" stroke="#000" stroke-width="1.6"/>
<line x1="822.3" y1="1239.72" x2="827.3" y2="1239.72" stroke="#000" stroke-width="1.6"/>
<line x1="910.37" y1="1573.2" x2="910.37" y2="1566.2" stroke="#000" stroke-width="1.6"/>
<line x1="998.43" y1="1573.2" x2="998.43" y2="1566.2" stroke="#000" stroke-width="1.6"/>
<line x1="1086.5" y1="1573.2" x2="1086.5" y2="1566.2" stroke="#000" stroke-width="1.6"/>
<line x1="1174.57" y1="1573.2" x2="1174.57" y2="1566.2" stroke="#000" stroke-width="1.6"/>
<line x1="1262.63" y1="1573.2" x2="1262.63" y2="1566.2" stroke="#000" stroke-width="1.6"/>
<text x="808" y="1580.9" font-size="21.6" text-anchor="end" fill="#222">0</text>
<text x="808" y="1520.27" font-size="21.6" text-anchor="end" fill="#222">20</text>
<text x="808" y="1459.63" font-size="21.6" text-anchor="end" fill="#222">40</text>
<text x="808" y="1399" font-size="21.6" text-anchor="end" fill="#222">60</text>
<text x="808" y="1338.37" font-size="21.6" text-anchor="end" fill="#222">80</text>
<text x="808" y="1277.73" font-size="21.6" text-anchor="end" fill="#222">100</text>
<text x="808" y="1217.1" font-size="21.6" text-anchor="end" fill="#222">120</text>
<text x="866.33" y="1612.5" font-size="21.6" text-anchor="middle" fill="#222">0</text>
<text x="954.4" y="1612.5" font-size="21.6" text-anchor="middle" fill="#222">6</text>
<text x="1042.47" y="1612.5" font-size="21.6" text-anchor="middle" fill="#222">24</text>
<text x="1130.53" y="1612.5" font-size="21.6" text-anchor="middle" fill="#222">48</text>
<text x="1218.6" y="1612.5" font-size="21.6" text-anchor="middle" fill="#222">72</text>
<text x="1306.67" y="1612.5" font-size="21.6" text-anchor="middle" fill="#222">96</text>
<text x="1097.7" y="1643.5" font-size="21.6" text-anchor="middle" textLength="181.5" lengthAdjust="spacingAndGlyphs" fill="#222">Incubation time [h]</text>
<text x="754.5" y="1393.5" font-size="21.6" text-anchor="middle" transform="rotate(-90 754.5 1393.5)" textLength="355" lengthAdjust="spacingAndGlyphs" fill="#222">Normalized protein concentration [%]</text>
<rect x="1140.2" y="1217.7" width="12.6" height="12.6" fill="#a5a5a5" stroke="#000" stroke-width="1.4"/>
<text x="1158.5" y="1231.5" font-size="21.6" textLength="57" lengthAdjust="spacingAndGlyphs" fill="#222">Lispro</text>
<rect x="1238.1" y="1217.7" width="12.6" height="12.6" fill="#f2f2f2" stroke="#000" stroke-width="1.4"/>
<text x="1257.4" y="1231.5" font-size="21.6" fill="#222">Detemir</text>
<line x1="831.4" y1="1660.3" x2="904.5" y2="1660.3" stroke="#595959" stroke-width="1.3"/>
<line x1="933.4" y1="1659.2" x2="1348" y2="1659.2" stroke="#595959" stroke-width="1.3"/>
<line x1="831.4" y1="1697.9" x2="1348" y2="1697.9" stroke="#595959" stroke-width="1.3"/>
<text x="867.4" y="1685" font-size="21.6" text-anchor="middle" fill="#222">-</text>
<text x="1138.4" y="1685.8" font-size="21.6" text-anchor="middle" fill="#222">+</text>
<text x="1091" y="1727.5" font-size="21.6" text-anchor="middle" fill="#222">Minocycline</text>
<text x="11.5" y="1793.7" font-size="33" fill="#000" transform="translate(11.5 0) scale(0.83 1) translate(-11.5 0)">C</text>
<path d="M41.4,2190 L41.4,1798.2 L680.6,1798.2" fill="none" stroke="#d9d9d9" stroke-width="1.2"/>
<path d="M680.6,1798.2 L680.6,1796.1 L1384.6,1796.1 L1384.6,2188.6 L767.4,2188.6" fill="none" stroke="#d9d9d9" stroke-width="1.2"/>
<path d="M41.4,2190.5 L767.4,2190.5" fill="none" stroke="#d9d9d9" stroke-width="1.2"/>
<path d="M690.5,2192 L1397,2192" fill="none" stroke="#d9d9d9" stroke-width="1.2"/>
<path d="M690.5,2192 L690.5,2524.5 L665.6,2524.5 L665.6,2553.8 L690.5,2553.8 L690.5,2583.5 L1397,2583.5" fill="none" stroke="#d9d9d9" stroke-width="1.2"/>
<rect x="131.78" y="1870.28" width="25.2" height="248.82" fill="#a5a5a5" stroke="#000" stroke-width="1.6"/>
<rect x="152.58" y="1887.39" width="25.2" height="231.71" fill="#f2f2f2" stroke="#000" stroke-width="1.6"/>
<rect x="173.38" y="1899.22" width="25.2" height="219.88" fill="#000" stroke="#000" stroke-width="1.6"/>
<line x1="144.38" y1="1866.26" x2="144.38" y2="1874.56" stroke="#000" stroke-width="1.8"/>
<line x1="140.88" y1="1866.26" x2="147.88" y2="1866.26" stroke="#000" stroke-width="1.8"/>
<line x1="140.88" y1="1874.56" x2="147.88" y2="1874.56" stroke="#000" stroke-width="1.8"/>
<line x1="165.18" y1="1886.13" x2="165.18" y2="1888.65" stroke="#000" stroke-width="1.8"/>
<line x1="161.68" y1="1886.13" x2="168.68" y2="1886.13" stroke="#000" stroke-width="1.8"/>
<line x1="161.68" y1="1888.65" x2="168.68" y2="1888.65" stroke="#000" stroke-width="1.8"/>
<line x1="185.98" y1="1889.4" x2="185.98" y2="1908.02" stroke="#000" stroke-width="1.8"/>
<line x1="182.48" y1="1889.4" x2="189.48" y2="1889.4" stroke="#000" stroke-width="1.8"/>
<line x1="182.48" y1="1908.02" x2="189.48" y2="1908.02" stroke="#000" stroke-width="1.8"/>
<rect x="222.54" y="1953.56" width="25.2" height="165.54" fill="#a5a5a5" stroke="#000" stroke-width="1.6"/>
<rect x="243.34" y="1951.29" width="25.2" height="167.81" fill="#f2f2f2" stroke="#000" stroke-width="1.6"/>
<rect x="264.14" y="1964.88" width="25.2" height="154.22" fill="#000" stroke="#000" stroke-width="1.6"/>
<line x1="235.14" y1="1950.54" x2="235.14" y2="1956.58" stroke="#000" stroke-width="1.8"/>
<line x1="231.64" y1="1950.54" x2="238.64" y2="1950.54" stroke="#000" stroke-width="1.8"/>
<line x1="231.64" y1="1956.58" x2="238.64" y2="1956.58" stroke="#000" stroke-width="1.8"/>
<line x1="255.94" y1="1947.52" x2="255.94" y2="1955.07" stroke="#000" stroke-width="1.8"/>
<line x1="252.44" y1="1947.52" x2="259.44" y2="1947.52" stroke="#000" stroke-width="1.8"/>
<line x1="252.44" y1="1955.07" x2="259.44" y2="1955.07" stroke="#000" stroke-width="1.8"/>
<line x1="276.74" y1="1959.09" x2="276.74" y2="1969.91" stroke="#000" stroke-width="1.8"/>
<line x1="273.24" y1="1959.09" x2="280.24" y2="1959.09" stroke="#000" stroke-width="1.8"/>
<line x1="273.24" y1="1969.91" x2="280.24" y2="1969.91" stroke="#000" stroke-width="1.8"/>
<rect x="313.29" y="1986.01" width="25.2" height="133.09" fill="#a5a5a5" stroke="#000" stroke-width="1.6"/>
<rect x="334.09" y="1991.55" width="25.2" height="127.55" fill="#f2f2f2" stroke="#000" stroke-width="1.6"/>
<rect x="354.89" y="2001.36" width="25.2" height="117.74" fill="#000" stroke="#000" stroke-width="1.6"/>
<line x1="325.89" y1="1984.25" x2="325.89" y2="1987.77" stroke="#000" stroke-width="1.8"/>
<line x1="322.39" y1="1984.25" x2="329.39" y2="1984.25" stroke="#000" stroke-width="1.8"/>
<line x1="322.39" y1="1987.77" x2="329.39" y2="1987.77" stroke="#000" stroke-width="1.8"/>
<line x1="346.69" y1="1986.52" x2="346.69" y2="1996.58" stroke="#000" stroke-width="1.8"/>
<line x1="343.19" y1="1986.52" x2="350.19" y2="1986.52" stroke="#000" stroke-width="1.8"/>
<line x1="343.19" y1="1996.58" x2="350.19" y2="1996.58" stroke="#000" stroke-width="1.8"/>
<line x1="367.49" y1="1992.81" x2="367.49" y2="2009.66" stroke="#000" stroke-width="1.8"/>
<line x1="363.99" y1="1992.81" x2="370.99" y2="1992.81" stroke="#000" stroke-width="1.8"/>
<line x1="363.99" y1="2009.66" x2="370.99" y2="2009.66" stroke="#000" stroke-width="1.8"/>
<rect x="404.05" y="1949.28" width="25.2" height="169.82" fill="#a5a5a5" stroke="#000" stroke-width="1.6"/>
<rect x="424.85" y="1948.78" width="25.2" height="170.32" fill="#f2f2f2" stroke="#000" stroke-width="1.6"/>
<rect x="445.65" y="1961.11" width="25.2" height="157.99" fill="#000" stroke="#000" stroke-width="1.6"/>
<line x1="416.65" y1="1937.96" x2="416.65" y2="1960.1" stroke="#000" stroke-width="1.8"/>
<line x1="413.15" y1="1937.96" x2="420.15" y2="1937.96" stroke="#000" stroke-width="1.8"/>
<line x1="413.15" y1="1960.1" x2="420.15" y2="1960.1" stroke="#000" stroke-width="1.8"/>
<line x1="437.45" y1="1941.48" x2="437.45" y2="1955.57" stroke="#000" stroke-width="1.8"/>
<line x1="433.95" y1="1941.48" x2="440.95" y2="1941.48" stroke="#000" stroke-width="1.8"/>
<line x1="433.95" y1="1955.57" x2="440.95" y2="1955.57" stroke="#000" stroke-width="1.8"/>
<line x1="458.25" y1="1950.79" x2="458.25" y2="1971.42" stroke="#000" stroke-width="1.8"/>
<line x1="454.75" y1="1950.79" x2="461.75" y2="1950.79" stroke="#000" stroke-width="1.8"/>
<line x1="454.75" y1="1971.42" x2="461.75" y2="1971.42" stroke="#000" stroke-width="1.8"/>
<rect x="494.81" y="1907.02" width="25.2" height="212.08" fill="#a5a5a5" stroke="#000" stroke-width="1.6"/>
<rect x="515.61" y="1900.22" width="25.2" height="218.88" fill="#f2f2f2" stroke="#000" stroke-width="1.6"/>
<rect x="536.41" y="1921.36" width="25.2" height="197.74" fill="#000" stroke="#000" stroke-width="1.6"/>
<line x1="507.41" y1="1891.42" x2="507.41" y2="1921.36" stroke="#000" stroke-width="1.8"/>
<line x1="503.91" y1="1891.42" x2="510.91" y2="1891.42" stroke="#000" stroke-width="1.8"/>
<line x1="503.91" y1="1921.36" x2="510.91" y2="1921.36" stroke="#000" stroke-width="1.8"/>
<line x1="528.21" y1="1894.18" x2="528.21" y2="1906.51" stroke="#000" stroke-width="1.8"/>
<line x1="524.71" y1="1894.18" x2="531.71" y2="1894.18" stroke="#000" stroke-width="1.8"/>
<line x1="524.71" y1="1906.51" x2="531.71" y2="1906.51" stroke="#000" stroke-width="1.8"/>
<line x1="549.01" y1="1916.83" x2="549.01" y2="1925.63" stroke="#000" stroke-width="1.8"/>
<line x1="545.51" y1="1916.83" x2="552.51" y2="1916.83" stroke="#000" stroke-width="1.8"/>
<line x1="545.51" y1="1925.63" x2="552.51" y2="1925.63" stroke="#000" stroke-width="1.8"/>
<rect x="585.56" y="1916.32" width="25.2" height="202.78" fill="#a5a5a5" stroke="#000" stroke-width="1.6"/>
<rect x="606.36" y="1911.04" width="25.2" height="208.06" fill="#f2f2f2" stroke="#000" stroke-width="1.6"/>
<rect x="627.16" y="1891.42" width="25.2" height="227.68" fill="#000" stroke="#000" stroke-width="1.6"/>
<line x1="598.16" y1="1913.81" x2="598.16" y2="1918.84" stroke="#000" stroke-width="1.8"/>
<line x1="594.66" y1="1913.81" x2="601.66" y2="1913.81" stroke="#000" stroke-width="1.8"/>
<line x1="594.66" y1="1918.84" x2="601.66" y2="1918.84" stroke="#000" stroke-width="1.8"/>
<line x1="618.96" y1="1898.21" x2="618.96" y2="1923.37" stroke="#000" stroke-width="1.8"/>
<line x1="615.46" y1="1898.21" x2="622.46" y2="1898.21" stroke="#000" stroke-width="1.8"/>
<line x1="615.46" y1="1923.37" x2="622.46" y2="1923.37" stroke="#000" stroke-width="1.8"/>
<line x1="639.76" y1="1886.89" x2="639.76" y2="1895.69" stroke="#000" stroke-width="1.8"/>
<line x1="636.26" y1="1886.89" x2="643.26" y2="1886.89" stroke="#000" stroke-width="1.8"/>
<line x1="636.26" y1="1895.69" x2="643.26" y2="1895.69" stroke="#000" stroke-width="1.8"/>
<rect x="676.32" y="1884.12" width="25.2" height="234.98" fill="#a5a5a5" stroke="#000" stroke-width="1.6"/>
<rect x="697.12" y="1887.14" width="25.2" height="231.96" fill="#f2f2f2" stroke="#000" stroke-width="1.6"/>
<rect x="717.92" y="1882.36" width="25.2" height="236.74" fill="#000" stroke="#000" stroke-width="1.6"/>
<line x1="688.92" y1="1872.55" x2="688.92" y2="1895.69" stroke="#000" stroke-width="1.8"/>
<line x1="685.42" y1="1872.55" x2="692.42" y2="1872.55" stroke="#000" stroke-width="1.8"/>
<line x1="685.42" y1="1895.69" x2="692.42" y2="1895.69" stroke="#000" stroke-width="1.8"/>
<line x1="709.72" y1="1872.55" x2="709.72" y2="1904.75" stroke="#000" stroke-width="1.8"/>
<line x1="706.22" y1="1872.55" x2="713.22" y2="1872.55" stroke="#000" stroke-width="1.8"/>
<line x1="706.22" y1="1904.75" x2="713.22" y2="1904.75" stroke="#000" stroke-width="1.8"/>
<line x1="730.52" y1="1881.1" x2="730.52" y2="1883.62" stroke="#000" stroke-width="1.8"/>
<line x1="727.02" y1="1881.1" x2="734.02" y2="1881.1" stroke="#000" stroke-width="1.8"/>
<line x1="727.02" y1="1883.62" x2="734.02" y2="1883.62" stroke="#000" stroke-width="1.8"/>
<rect x="119.8" y="1817.2" width="635.3" height="301.9" fill="none" stroke="#000" stroke-width="2"/>
<line x1="119.8" y1="2093.94" x2="123.8" y2="2093.94" stroke="#000" stroke-width="1.5"/>
<line x1="119.8" y1="2068.78" x2="125.6" y2="2068.78" stroke="#000" stroke-width="1.5"/>
<line x1="119.8" y1="2043.62" x2="123.8" y2="2043.62" stroke="#000" stroke-width="1.5"/>
<line x1="119.8" y1="2018.47" x2="125.6" y2="2018.47" stroke="#000" stroke-width="1.5"/>
<line x1="119.8" y1="1993.31" x2="123.8" y2="1993.31" stroke="#000" stroke-width="1.5"/>
<line x1="119.8" y1="1968.15" x2="125.6" y2="1968.15" stroke="#000" stroke-width="1.5"/>
<line x1="119.8" y1="1942.99" x2="123.8" y2="1942.99" stroke="#000" stroke-width="1.5"/>
<line x1="119.8" y1="1917.83" x2="125.6" y2="1917.83" stroke="#000" stroke-width="1.5"/>
<line x1="119.8" y1="1892.67" x2="123.8" y2="1892.67" stroke="#000" stroke-width="1.5"/>
<line x1="119.8" y1="1867.52" x2="125.6" y2="1867.52" stroke="#000" stroke-width="1.5"/>
<line x1="119.8" y1="1842.36" x2="123.8" y2="1842.36" stroke="#000" stroke-width="1.5"/>
<text x="99.8" y="2125.9" font-size="18.5" text-anchor="end" fill="#222">0</text>
<text x="99.8" y="2075.58" font-size="18.5" text-anchor="end" fill="#222">20</text>
<text x="99.8" y="2025.27" font-size="18.5" text-anchor="end" fill="#222">40</text>
<text x="99.8" y="1974.95" font-size="18.5" text-anchor="end" fill="#222">60</text>
<text x="99.8" y="1924.63" font-size="18.5" text-anchor="end" fill="#222">80</text>
<text x="99.8" y="1874.32" font-size="18.5" text-anchor="end" fill="#222">100</text>
<text x="99.8" y="1824" font-size="18.5" text-anchor="end" fill="#222">120</text>
<text x="165.18" y="2151.5" font-size="18.5" text-anchor="middle" fill="#222">0</text>
<text x="255.94" y="2151.5" font-size="18.5" text-anchor="middle" fill="#222">1</text>
<text x="346.69" y="2151.5" font-size="18.5" text-anchor="middle" fill="#222">2.5</text>
<text x="437.45" y="2151.5" font-size="18.5" text-anchor="middle" fill="#222">5</text>
<text x="528.21" y="2151.5" font-size="18.5" text-anchor="middle" fill="#222">10</text>
<text x="618.96" y="2151.5" font-size="18.5" text-anchor="middle" fill="#222">25</text>
<text x="711.72" y="2153.5" font-size="18.5" text-anchor="middle" textLength="81" lengthAdjust="spacingAndGlyphs" fill="#222">Untreated</text>
<text x="130" y="1808.8" font-size="18.5" textLength="48" lengthAdjust="spacingAndGlyphs" fill="#222">Lispro</text>
<text x="396.8" y="2182.5" font-size="18.5" text-anchor="middle" fill="#222">Minocycline [µM]</text>
<text x="62" y="1979.4" font-size="18.5" text-anchor="middle" transform="rotate(-90 62 1979.4)" textLength="125" lengthAdjust="spacingAndGlyphs" fill="#222">Cell viability [%]</text>
<rect x="517.4" y="1829.6" width="10.8" height="10.8" fill="#a5a5a5" stroke="#000" stroke-width="1.3"/>
<text x="533.1" y="1841.6" font-size="18.5" textLength="57" lengthAdjust="spacingAndGlyphs" fill="#222">0.1 µM</text>
<rect x="597.8" y="1829.6" width="10.8" height="10.8" fill="#f2f2f2" stroke="#000" stroke-width="1.3"/>
<text x="613.5" y="1841.6" font-size="18.5" textLength="56.5" lengthAdjust="spacingAndGlyphs" fill="#222">0.5 µM</text>
<rect x="677.5" y="1829.6" width="10.8" height="10.8" fill="#000" stroke="#000" stroke-width="1.3"/>
<text x="693.2" y="1841.6" font-size="18.5" textLength="41.9" lengthAdjust="spacingAndGlyphs" fill="#222">1 µM</text>
<path d="M189.9,1880 L189.9,1867.5 L364.2,1867.5 L364.2,1984.5" fill="none" stroke="#6e6e6e" stroke-width="1.3" stroke-linejoin="miter"/>
<path d="M374.8,1984.5 L374.8,1867.5 L638.9,1867.5 L638.9,1881.8" fill="none" stroke="#6e6e6e" stroke-width="1.3" stroke-linejoin="miter"/>
<path d="M204.3,1908.3 L283.8,1908.3 L283.8,1951" fill="none" stroke="#6e6e6e" stroke-width="1.3" stroke-linejoin="miter"/>
<path d="M222.9,1854.7 L222.9,1863.9 M218.92,1857 L226.88,1861.6 M218.92,1861.6 L226.88,1857" fill="none" stroke="#2a2a2a" stroke-width="1.35"/>
<path d="M235,1854.7 L235,1863.9 M231.02,1857 L238.98,1861.6 M231.02,1861.6 L238.98,1857" fill="none" stroke="#2a2a2a" stroke-width="1.35"/>
<path d="M247.1,1854.7 L247.1,1863.9 M243.12,1857 L251.08,1861.6 M243.12,1861.6 L251.08,1857" fill="none" stroke="#2a2a2a" stroke-width="1.35"/>
<path d="M471.8,1854.7 L471.8,1863.9 M467.82,1857 L475.78,1861.6 M467.82,1861.6 L475.78,1857" fill="none" stroke="#2a2a2a" stroke-width="1.35"/>
<path d="M483.9,1854.7 L483.9,1863.9 M479.92,1857 L487.88,1861.6 M479.92,1861.6 L487.88,1857" fill="none" stroke="#2a2a2a" stroke-width="1.35"/>
<path d="M496,1854.7 L496,1863.9 M492.02,1857 L499.98,1861.6 M492.02,1861.6 L499.98,1857" fill="none" stroke="#2a2a2a" stroke-width="1.35"/>
<path d="M240.95,1895.9 L240.95,1905.1 M236.97,1898.2 L244.93,1902.8 M236.97,1902.8 L244.93,1898.2" fill="none" stroke="#2a2a2a" stroke-width="1.35"/>
<path d="M253.05,1895.9 L253.05,1905.1 M249.07,1898.2 L257.03,1902.8 M249.07,1902.8 L257.03,1898.2" fill="none" stroke="#2a2a2a" stroke-width="1.35"/>
<rect x="779.76" y="1885.53" width="24" height="232.37" fill="#a5a5a5" stroke="#000" stroke-width="1.6"/>
<rect x="799.16" y="1914.86" width="24" height="203.04" fill="#f2f2f2" stroke="#000" stroke-width="1.6"/>
<rect x="818.56" y="1910.6" width="24" height="207.3" fill="#000" stroke="#000" stroke-width="1.6"/>
<line x1="791.76" y1="1871.75" x2="791.76" y2="1898.82" stroke="#6e6e6e" stroke-width="1.8"/>
<line x1="788.26" y1="1871.75" x2="795.26" y2="1871.75" stroke="#6e6e6e" stroke-width="1.8"/>
<line x1="788.26" y1="1898.82" x2="795.26" y2="1898.82" stroke="#6e6e6e" stroke-width="1.8"/>
<line x1="811.16" y1="1914.11" x2="811.16" y2="1915.61" stroke="#6e6e6e" stroke-width="1.8"/>
<line x1="807.66" y1="1914.11" x2="814.66" y2="1914.11" stroke="#6e6e6e" stroke-width="1.8"/>
<line x1="807.66" y1="1915.61" x2="814.66" y2="1915.61" stroke="#6e6e6e" stroke-width="1.8"/>
<line x1="830.56" y1="1904.33" x2="830.56" y2="1916.61" stroke="#000" stroke-width="1.8"/>
<line x1="827.06" y1="1904.33" x2="834.06" y2="1904.33" stroke="#000" stroke-width="1.8"/>
<line x1="827.06" y1="1916.61" x2="834.06" y2="1916.61" stroke="#000" stroke-width="1.8"/>
<rect x="865.09" y="1948.45" width="24" height="169.45" fill="#a5a5a5" stroke="#000" stroke-width="1.6"/>
<rect x="884.49" y="1966.75" width="24" height="151.15" fill="#f2f2f2" stroke="#000" stroke-width="1.6"/>
<rect x="903.89" y="1973.01" width="24" height="144.89" fill="#000" stroke="#000" stroke-width="1.6"/>
<line x1="877.09" y1="1942.43" x2="877.09" y2="1954.21" stroke="#6e6e6e" stroke-width="1.8"/>
<line x1="873.59" y1="1942.43" x2="880.59" y2="1942.43" stroke="#6e6e6e" stroke-width="1.8"/>
<line x1="873.59" y1="1954.21" x2="880.59" y2="1954.21" stroke="#6e6e6e" stroke-width="1.8"/>
<line x1="896.49" y1="1965.49" x2="896.49" y2="1968" stroke="#6e6e6e" stroke-width="1.8"/>
<line x1="892.99" y1="1965.49" x2="899.99" y2="1965.49" stroke="#6e6e6e" stroke-width="1.8"/>
<line x1="892.99" y1="1968" x2="899.99" y2="1968" stroke="#6e6e6e" stroke-width="1.8"/>
<line x1="915.89" y1="1968.25" x2="915.89" y2="1977.78" stroke="#000" stroke-width="1.8"/>
<line x1="912.39" y1="1968.25" x2="919.39" y2="1968.25" stroke="#000" stroke-width="1.8"/>
<line x1="912.39" y1="1977.78" x2="919.39" y2="1977.78" stroke="#000" stroke-width="1.8"/>
<rect x="950.42" y="1979.53" width="24" height="138.37" fill="#a5a5a5" stroke="#000" stroke-width="1.6"/>
<rect x="969.82" y="1991.31" width="24" height="126.59" fill="#f2f2f2" stroke="#000" stroke-width="1.6"/>
<rect x="989.22" y="1999.59" width="24" height="118.31" fill="#000" stroke="#000" stroke-width="1.6"/>
<line x1="962.42" y1="1976.02" x2="962.42" y2="1983.04" stroke="#6e6e6e" stroke-width="1.8"/>
<line x1="958.92" y1="1976.02" x2="965.92" y2="1976.02" stroke="#6e6e6e" stroke-width="1.8"/>
<line x1="958.92" y1="1983.04" x2="965.92" y2="1983.04" stroke="#6e6e6e" stroke-width="1.8"/>
<line x1="981.82" y1="1987.8" x2="981.82" y2="1994.82" stroke="#6e6e6e" stroke-width="1.8"/>
<line x1="978.32" y1="1987.8" x2="985.32" y2="1987.8" stroke="#6e6e6e" stroke-width="1.8"/>
<line x1="978.32" y1="1994.82" x2="985.32" y2="1994.82" stroke="#6e6e6e" stroke-width="1.8"/>
<line x1="1001.22" y1="1993.07" x2="1001.22" y2="2006.1" stroke="#000" stroke-width="1.8"/>
<line x1="997.72" y1="1993.07" x2="1004.72" y2="1993.07" stroke="#000" stroke-width="1.8"/>
<line x1="997.72" y1="2006.1" x2="1004.72" y2="2006.1" stroke="#000" stroke-width="1.8"/>
<rect x="1035.75" y="1960.23" width="24" height="157.67" fill="#a5a5a5" stroke="#000" stroke-width="1.6"/>
<rect x="1055.15" y="1970.76" width="24" height="147.14" fill="#f2f2f2" stroke="#000" stroke-width="1.6"/>
<rect x="1074.55" y="1982.54" width="24" height="135.36" fill="#000" stroke="#000" stroke-width="1.6"/>
<line x1="1047.75" y1="1954.47" x2="1047.75" y2="1966" stroke="#6e6e6e" stroke-width="1.8"/>
<line x1="1044.25" y1="1954.47" x2="1051.25" y2="1954.47" stroke="#6e6e6e" stroke-width="1.8"/>
<line x1="1044.25" y1="1966" x2="1051.25" y2="1966" stroke="#6e6e6e" stroke-width="1.8"/>
<line x1="1067.15" y1="1967.75" x2="1067.15" y2="1973.77" stroke="#6e6e6e" stroke-width="1.8"/>
<line x1="1063.65" y1="1967.75" x2="1070.65" y2="1967.75" stroke="#6e6e6e" stroke-width="1.8"/>
<line x1="1063.65" y1="1973.77" x2="1070.65" y2="1973.77" stroke="#6e6e6e" stroke-width="1.8"/>
<line x1="1086.55" y1="1979.53" x2="1086.55" y2="1985.55" stroke="#000" stroke-width="1.8"/>
<line x1="1083.05" y1="1979.53" x2="1090.05" y2="1979.53" stroke="#000" stroke-width="1.8"/>
<line x1="1083.05" y1="1985.55" x2="1090.05" y2="1985.55" stroke="#000" stroke-width="1.8"/>
<rect x="1121.08" y="1956.47" width="24" height="161.43" fill="#a5a5a5" stroke="#000" stroke-width="1.6"/>
<rect x="1140.48" y="1910.1" width="24" height="207.8" fill="#f2f2f2" stroke="#000" stroke-width="1.6"/>
<rect x="1159.88" y="1927.89" width="24" height="190.01" fill="#000" stroke="#000" stroke-width="1.6"/>
<line x1="1133.08" y1="1955.22" x2="1133.08" y2="1957.72" stroke="#6e6e6e" stroke-width="1.8"/>
<line x1="1129.58" y1="1955.22" x2="1136.58" y2="1955.22" stroke="#6e6e6e" stroke-width="1.8"/>
<line x1="1129.58" y1="1957.72" x2="1136.58" y2="1957.72" stroke="#6e6e6e" stroke-width="1.8"/>
<line x1="1152.48" y1="1908.84" x2="1152.48" y2="1911.35" stroke="#6e6e6e" stroke-width="1.8"/>
<line x1="1148.98" y1="1908.84" x2="1155.98" y2="1908.84" stroke="#6e6e6e" stroke-width="1.8"/>
<line x1="1148.98" y1="1911.35" x2="1155.98" y2="1911.35" stroke="#6e6e6e" stroke-width="1.8"/>
<line x1="1171.88" y1="1927.39" x2="1171.88" y2="1928.4" stroke="#000" stroke-width="1.8"/>
<line x1="1168.38" y1="1927.39" x2="1175.38" y2="1927.39" stroke="#000" stroke-width="1.8"/>
<line x1="1168.38" y1="1928.4" x2="1175.38" y2="1928.4" stroke="#000" stroke-width="1.8"/>
<rect x="1206.41" y="1899.57" width="24" height="218.33" fill="#a5a5a5" stroke="#000" stroke-width="1.6"/>
<rect x="1225.81" y="1901.32" width="24" height="216.58" fill="#f2f2f2" stroke="#000" stroke-width="1.6"/>
<rect x="1245.21" y="1901.32" width="24" height="216.58" fill="#000" stroke="#000" stroke-width="1.6"/>
<line x1="1218.41" y1="1897.06" x2="1218.41" y2="1902.08" stroke="#6e6e6e" stroke-width="1.8"/>
<line x1="1214.91" y1="1897.06" x2="1221.91" y2="1897.06" stroke="#6e6e6e" stroke-width="1.8"/>
<line x1="1214.91" y1="1902.08" x2="1221.91" y2="1902.08" stroke="#6e6e6e" stroke-width="1.8"/>
<line x1="1237.81" y1="1898.32" x2="1237.81" y2="1904.33" stroke="#6e6e6e" stroke-width="1.8"/>
<line x1="1234.31" y1="1898.32" x2="1241.31" y2="1898.32" stroke="#6e6e6e" stroke-width="1.8"/>
<line x1="1234.31" y1="1904.33" x2="1241.31" y2="1904.33" stroke="#6e6e6e" stroke-width="1.8"/>
<line x1="1257.21" y1="1898.32" x2="1257.21" y2="1904.33" stroke="#000" stroke-width="1.8"/>
<line x1="1253.71" y1="1898.32" x2="1260.71" y2="1898.32" stroke="#000" stroke-width="1.8"/>
<line x1="1253.71" y1="1904.33" x2="1260.71" y2="1904.33" stroke="#000" stroke-width="1.8"/>
<rect x="1291.74" y="1902.58" width="24" height="215.32" fill="#a5a5a5" stroke="#000" stroke-width="1.6"/>
<rect x="1311.14" y="1903.08" width="24" height="214.82" fill="#f2f2f2" stroke="#000" stroke-width="1.6"/>
<rect x="1330.54" y="1911.85" width="24" height="206.05" fill="#000" stroke="#000" stroke-width="1.6"/>
<line x1="1303.74" y1="1895.31" x2="1303.74" y2="1909.6" stroke="#6e6e6e" stroke-width="1.8"/>
<line x1="1300.24" y1="1895.31" x2="1307.24" y2="1895.31" stroke="#6e6e6e" stroke-width="1.8"/>
<line x1="1300.24" y1="1909.6" x2="1307.24" y2="1909.6" stroke="#6e6e6e" stroke-width="1.8"/>
<line x1="1323.14" y1="1891.3" x2="1323.14" y2="1914.11" stroke="#6e6e6e" stroke-width="1.8"/>
<line x1="1319.64" y1="1891.3" x2="1326.64" y2="1891.3" stroke="#6e6e6e" stroke-width="1.8"/>
<line x1="1319.64" y1="1914.11" x2="1326.64" y2="1914.11" stroke="#6e6e6e" stroke-width="1.8"/>
<line x1="1342.54" y1="1903.08" x2="1342.54" y2="1920.12" stroke="#000" stroke-width="1.8"/>
<line x1="1339.04" y1="1903.08" x2="1346.04" y2="1903.08" stroke="#000" stroke-width="1.8"/>
<line x1="1339.04" y1="1920.12" x2="1346.04" y2="1920.12" stroke="#000" stroke-width="1.8"/>
<rect x="768.5" y="1817.1" width="597.3" height="300.8" fill="none" stroke="#000" stroke-width="2"/>
<line x1="768.5" y1="2092.83" x2="772.5" y2="2092.83" stroke="#000" stroke-width="1.5"/>
<line x1="768.5" y1="2067.77" x2="774.3" y2="2067.77" stroke="#000" stroke-width="1.5"/>
<line x1="768.5" y1="2042.7" x2="772.5" y2="2042.7" stroke="#000" stroke-width="1.5"/>
<line x1="768.5" y1="2017.63" x2="774.3" y2="2017.63" stroke="#000" stroke-width="1.5"/>
<line x1="768.5" y1="1992.57" x2="772.5" y2="1992.57" stroke="#000" stroke-width="1.5"/>
<line x1="768.5" y1="1967.5" x2="774.3" y2="1967.5" stroke="#000" stroke-width="1.5"/>
<line x1="768.5" y1="1942.43" x2="772.5" y2="1942.43" stroke="#000" stroke-width="1.5"/>
<line x1="768.5" y1="1917.37" x2="774.3" y2="1917.37" stroke="#000" stroke-width="1.5"/>
<line x1="768.5" y1="1892.3" x2="772.5" y2="1892.3" stroke="#000" stroke-width="1.5"/>
<line x1="768.5" y1="1867.23" x2="774.3" y2="1867.23" stroke="#000" stroke-width="1.5"/>
<line x1="768.5" y1="1842.17" x2="772.5" y2="1842.17" stroke="#000" stroke-width="1.5"/>
<text x="811.16" y="2150.3" font-size="18.5" text-anchor="middle" fill="#222">0</text>
<text x="896.49" y="2150.3" font-size="18.5" text-anchor="middle" fill="#222">1</text>
<text x="981.82" y="2150.3" font-size="18.5" text-anchor="middle" fill="#222">2.5</text>
<text x="1067.15" y="2150.3" font-size="18.5" text-anchor="middle" fill="#222">5</text>
<text x="1152.48" y="2150.3" font-size="18.5" text-anchor="middle" fill="#222">10</text>
<text x="1237.81" y="2150.3" font-size="18.5" text-anchor="middle" fill="#222">25</text>
<text x="1330.64" y="2150.3" font-size="18.5" text-anchor="middle" textLength="81" lengthAdjust="spacingAndGlyphs" fill="#222">Untreated</text>
<text x="780.6" y="1807.5" font-size="18.5" textLength="64.5" lengthAdjust="spacingAndGlyphs" fill="#222">Detemir</text>
<text x="1035.5" y="2181" font-size="18.5" text-anchor="middle" fill="#222">Minocycline [µM]</text>
<rect x="1136" y="1825.9" width="10.8" height="10.8" fill="#a5a5a5" stroke="#000" stroke-width="1.3"/>
<text x="1151.2" y="1837.9" font-size="18.5" textLength="56.3" lengthAdjust="spacingAndGlyphs" fill="#222">0.1 µM</text>
<rect x="1219.7" y="1825.9" width="10.8" height="10.8" fill="#f2f2f2" stroke="#000" stroke-width="1.3"/>
<text x="1234.2" y="1837.9" font-size="18.5" textLength="57" lengthAdjust="spacingAndGlyphs" fill="#222">0.5 µM</text>
<rect x="1304" y="1825.9" width="10.8" height="10.8" fill="#000" stroke="#000" stroke-width="1.3"/>
<text x="1317.9" y="1837.9" font-size="18.5" textLength="42.9" lengthAdjust="spacingAndGlyphs" fill="#222">1 µM</text>
<path d="M831.5,1896.7 L831.5,1865.4 L1000.6,1865.4 L1000.6,1983.8" fill="none" stroke="#6e6e6e" stroke-width="1.3" stroke-linejoin="miter"/>
<path d="M1010.6,1982.7 L1010.6,1865.4 L1259.7,1865.4 L1259.7,1877.8" fill="none" stroke="#6e6e6e" stroke-width="1.3" stroke-linejoin="miter"/>
<path d="M853.3,1906.7 L919.3,1906.7 L919.3,1950.3" fill="none" stroke="#6e6e6e" stroke-width="1.3" stroke-linejoin="miter"/>
<path d="M871.5,1851.8 L871.5,1861 M867.52,1854.1 L875.48,1858.7 M867.52,1858.7 L875.48,1854.1" fill="none" stroke="#2a2a2a" stroke-width="1.35"/>
<path d="M883.6,1851.8 L883.6,1861 M879.62,1854.1 L887.58,1858.7 M879.62,1858.7 L887.58,1854.1" fill="none" stroke="#2a2a2a" stroke-width="1.35"/>
<path d="M895.7,1851.8 L895.7,1861 M891.72,1854.1 L899.68,1858.7 M891.72,1858.7 L899.68,1854.1" fill="none" stroke="#2a2a2a" stroke-width="1.35"/>
<path d="M1080.25,1851.8 L1080.25,1861 M1076.27,1854.1 L1084.23,1858.7 M1076.27,1858.7 L1084.23,1854.1" fill="none" stroke="#2a2a2a" stroke-width="1.35"/>
<path d="M1092.35,1851.8 L1092.35,1861 M1088.37,1854.1 L1096.33,1858.7 M1088.37,1858.7 L1096.33,1854.1" fill="none" stroke="#2a2a2a" stroke-width="1.35"/>
<path d="M871.5,1895 L871.5,1904.2 M867.52,1897.3 L875.48,1901.9 M867.52,1901.9 L875.48,1897.3" fill="none" stroke="#2a2a2a" stroke-width="1.35"/>
<path d="M883.6,1895 L883.6,1904.2 M879.62,1897.3 L887.58,1901.9 M879.62,1901.9 L887.58,1897.3" fill="none" stroke="#2a2a2a" stroke-width="1.35"/>
<path d="M895.7,1895 L895.7,1904.2 M891.72,1897.3 L899.68,1901.9 M891.72,1901.9 L899.68,1897.3" fill="none" stroke="#2a2a2a" stroke-width="1.35"/>
<rect x="138.69" y="2274.96" width="24.8" height="241.04" fill="#a5a5a5" stroke="#000" stroke-width="1.6"/>
<rect x="159.49" y="2278.2" width="24.8" height="237.8" fill="#f2f2f2" stroke="#000" stroke-width="1.6"/>
<rect x="180.29" y="2310.03" width="24.8" height="205.96" fill="#000" stroke="#000" stroke-width="1.6"/>
<line x1="151.09" y1="2259.29" x2="151.09" y2="2290.38" stroke="#000" stroke-width="1.8"/>
<line x1="147.59" y1="2259.29" x2="154.59" y2="2259.29" stroke="#000" stroke-width="1.8"/>
<line x1="147.59" y1="2290.38" x2="154.59" y2="2290.38" stroke="#000" stroke-width="1.8"/>
<line x1="171.89" y1="2272.97" x2="171.89" y2="2283.17" stroke="#000" stroke-width="1.8"/>
<line x1="168.39" y1="2272.97" x2="175.39" y2="2272.97" stroke="#000" stroke-width="1.8"/>
<line x1="168.39" y1="2283.17" x2="175.39" y2="2283.17" stroke="#000" stroke-width="1.8"/>
<line x1="192.69" y1="2281.68" x2="192.69" y2="2338.64" stroke="#000" stroke-width="1.8"/>
<line x1="189.19" y1="2281.68" x2="196.19" y2="2281.68" stroke="#000" stroke-width="1.8"/>
<line x1="189.19" y1="2338.64" x2="196.19" y2="2338.64" stroke="#000" stroke-width="1.8"/>
<rect x="229.48" y="2326.7" width="24.8" height="189.3" fill="#a5a5a5" stroke="#000" stroke-width="1.6"/>
<rect x="250.28" y="2346.85" width="24.8" height="169.15" fill="#f2f2f2" stroke="#000" stroke-width="1.6"/>
<rect x="271.08" y="2334.91" width="24.8" height="181.09" fill="#000" stroke="#000" stroke-width="1.6"/>
<line x1="241.88" y1="2316.25" x2="241.88" y2="2335.91" stroke="#000" stroke-width="1.8"/>
<line x1="238.38" y1="2316.25" x2="245.38" y2="2316.25" stroke="#000" stroke-width="1.8"/>
<line x1="238.38" y1="2335.91" x2="245.38" y2="2335.91" stroke="#000" stroke-width="1.8"/>
<line x1="262.68" y1="2339.64" x2="262.68" y2="2354.56" stroke="#000" stroke-width="1.8"/>
<line x1="259.18" y1="2339.64" x2="266.18" y2="2339.64" stroke="#000" stroke-width="1.8"/>
<line x1="259.18" y1="2354.56" x2="266.18" y2="2354.56" stroke="#000" stroke-width="1.8"/>
<line x1="283.48" y1="2330.68" x2="283.48" y2="2339.64" stroke="#000" stroke-width="1.8"/>
<line x1="279.98" y1="2330.68" x2="286.98" y2="2330.68" stroke="#000" stroke-width="1.8"/>
<line x1="279.98" y1="2339.64" x2="286.98" y2="2339.64" stroke="#000" stroke-width="1.8"/>
<rect x="320.26" y="2363.02" width="24.8" height="152.98" fill="#a5a5a5" stroke="#000" stroke-width="1.6"/>
<rect x="341.06" y="2385.16" width="24.8" height="130.84" fill="#f2f2f2" stroke="#000" stroke-width="1.6"/>
<rect x="361.86" y="2369.49" width="24.8" height="146.51" fill="#000" stroke="#000" stroke-width="1.6"/>
<line x1="332.66" y1="2356.8" x2="332.66" y2="2369.49" stroke="#000" stroke-width="1.8"/>
<line x1="329.16" y1="2356.8" x2="336.16" y2="2356.8" stroke="#000" stroke-width="1.8"/>
<line x1="329.16" y1="2369.49" x2="336.16" y2="2369.49" stroke="#000" stroke-width="1.8"/>
<line x1="353.46" y1="2379.93" x2="353.46" y2="2391.38" stroke="#000" stroke-width="1.8"/>
<line x1="349.96" y1="2379.93" x2="356.96" y2="2379.93" stroke="#000" stroke-width="1.8"/>
<line x1="349.96" y1="2391.38" x2="356.96" y2="2391.38" stroke="#000" stroke-width="1.8"/>
<line x1="374.26" y1="2359.29" x2="374.26" y2="2379.93" stroke="#000" stroke-width="1.8"/>
<line x1="370.76" y1="2359.29" x2="377.76" y2="2359.29" stroke="#000" stroke-width="1.8"/>
<line x1="370.76" y1="2379.93" x2="377.76" y2="2379.93" stroke="#000" stroke-width="1.8"/>
<rect x="411.05" y="2365.01" width="24.8" height="150.99" fill="#a5a5a5" stroke="#000" stroke-width="1.6"/>
<rect x="431.85" y="2366" width="24.8" height="150" fill="#f2f2f2" stroke="#000" stroke-width="1.6"/>
<rect x="452.65" y="2396.1" width="24.8" height="119.9" fill="#000" stroke="#000" stroke-width="1.6"/>
<line x1="423.45" y1="2359.78" x2="423.45" y2="2369.49" stroke="#000" stroke-width="1.8"/>
<line x1="419.95" y1="2359.78" x2="426.95" y2="2359.78" stroke="#000" stroke-width="1.8"/>
<line x1="419.95" y1="2369.49" x2="426.95" y2="2369.49" stroke="#000" stroke-width="1.8"/>
<line x1="444.25" y1="2352.57" x2="444.25" y2="2379.93" stroke="#000" stroke-width="1.8"/>
<line x1="440.75" y1="2352.57" x2="447.75" y2="2352.57" stroke="#000" stroke-width="1.8"/>
<line x1="440.75" y1="2379.93" x2="447.75" y2="2379.93" stroke="#000" stroke-width="1.8"/>
<line x1="465.05" y1="2395.36" x2="465.05" y2="2396.85" stroke="#000" stroke-width="1.8"/>
<line x1="461.55" y1="2395.36" x2="468.55" y2="2395.36" stroke="#000" stroke-width="1.8"/>
<line x1="461.55" y1="2396.85" x2="468.55" y2="2396.85" stroke="#000" stroke-width="1.8"/>
<rect x="501.84" y="2336.9" width="24.8" height="179.1" fill="#a5a5a5" stroke="#000" stroke-width="1.6"/>
<rect x="522.64" y="2345.86" width="24.8" height="170.15" fill="#f2f2f2" stroke="#000" stroke-width="1.6"/>
<rect x="543.44" y="2361.78" width="24.8" height="154.22" fill="#000" stroke="#000" stroke-width="1.6"/>
<line x1="514.24" y1="2332.42" x2="514.24" y2="2341.13" stroke="#000" stroke-width="1.8"/>
<line x1="510.74" y1="2332.42" x2="517.74" y2="2332.42" stroke="#000" stroke-width="1.8"/>
<line x1="510.74" y1="2341.13" x2="517.74" y2="2341.13" stroke="#000" stroke-width="1.8"/>
<line x1="535.04" y1="2343.12" x2="535.04" y2="2348.34" stroke="#000" stroke-width="1.8"/>
<line x1="531.54" y1="2343.12" x2="538.54" y2="2343.12" stroke="#000" stroke-width="1.8"/>
<line x1="531.54" y1="2348.34" x2="538.54" y2="2348.34" stroke="#000" stroke-width="1.8"/>
<line x1="555.84" y1="2347.35" x2="555.84" y2="2376.2" stroke="#000" stroke-width="1.8"/>
<line x1="552.34" y1="2347.35" x2="559.34" y2="2347.35" stroke="#000" stroke-width="1.8"/>
<line x1="552.34" y1="2376.2" x2="559.34" y2="2376.2" stroke="#000" stroke-width="1.8"/>
<rect x="592.62" y="2318.99" width="24.8" height="197.01" fill="#a5a5a5" stroke="#000" stroke-width="1.6"/>
<rect x="613.42" y="2337.4" width="24.8" height="178.6" fill="#f2f2f2" stroke="#000" stroke-width="1.6"/>
<rect x="634.22" y="2343.12" width="24.8" height="172.88" fill="#000" stroke="#000" stroke-width="1.6"/>
<line x1="605.02" y1="2317" x2="605.02" y2="2320.98" stroke="#000" stroke-width="1.8"/>
<line x1="601.52" y1="2317" x2="608.52" y2="2317" stroke="#000" stroke-width="1.8"/>
<line x1="601.52" y1="2320.98" x2="608.52" y2="2320.98" stroke="#000" stroke-width="1.8"/>
<line x1="625.82" y1="2329.69" x2="625.82" y2="2345.36" stroke="#000" stroke-width="1.8"/>
<line x1="622.32" y1="2329.69" x2="629.32" y2="2329.69" stroke="#000" stroke-width="1.8"/>
<line x1="622.32" y1="2345.36" x2="629.32" y2="2345.36" stroke="#000" stroke-width="1.8"/>
<line x1="646.62" y1="2327.2" x2="646.62" y2="2359.29" stroke="#000" stroke-width="1.8"/>
<line x1="643.12" y1="2327.2" x2="650.12" y2="2327.2" stroke="#000" stroke-width="1.8"/>
<line x1="643.12" y1="2359.29" x2="650.12" y2="2359.29" stroke="#000" stroke-width="1.8"/>
<rect x="683.41" y="2261.03" width="24.8" height="254.97" fill="#a5a5a5" stroke="#000" stroke-width="1.6"/>
<rect x="704.21" y="2274.46" width="24.8" height="241.54" fill="#f2f2f2" stroke="#000" stroke-width="1.6"/>
<rect x="725.01" y="2244.61" width="24.8" height="271.39" fill="#000" stroke="#000" stroke-width="1.6"/>
<line x1="695.81" y1="2248.35" x2="695.81" y2="2274.96" stroke="#000" stroke-width="1.8"/>
<line x1="692.31" y1="2248.35" x2="699.31" y2="2248.35" stroke="#000" stroke-width="1.8"/>
<line x1="692.31" y1="2274.96" x2="699.31" y2="2274.96" stroke="#000" stroke-width="1.8"/>
<line x1="716.61" y1="2266.75" x2="716.61" y2="2281.68" stroke="#000" stroke-width="1.8"/>
<line x1="713.11" y1="2266.75" x2="720.11" y2="2266.75" stroke="#000" stroke-width="1.8"/>
<line x1="713.11" y1="2281.68" x2="720.11" y2="2281.68" stroke="#000" stroke-width="1.8"/>
<line x1="737.41" y1="2241.88" x2="737.41" y2="2247.35" stroke="#000" stroke-width="1.8"/>
<line x1="733.91" y1="2241.88" x2="740.91" y2="2241.88" stroke="#000" stroke-width="1.8"/>
<line x1="733.91" y1="2247.35" x2="740.91" y2="2247.35" stroke="#000" stroke-width="1.8"/>
<rect x="126.5" y="2217.5" width="635.5" height="298.5" fill="none" stroke="#000" stroke-width="2"/>
<line x1="126.5" y1="2491.12" x2="130.5" y2="2491.12" stroke="#000" stroke-width="1.5"/>
<line x1="126.5" y1="2466.25" x2="132.3" y2="2466.25" stroke="#000" stroke-width="1.5"/>
<line x1="126.5" y1="2441.38" x2="130.5" y2="2441.38" stroke="#000" stroke-width="1.5"/>
<line x1="126.5" y1="2416.5" x2="132.3" y2="2416.5" stroke="#000" stroke-width="1.5"/>
<line x1="126.5" y1="2391.62" x2="130.5" y2="2391.62" stroke="#000" stroke-width="1.5"/>
<line x1="126.5" y1="2366.75" x2="132.3" y2="2366.75" stroke="#000" stroke-width="1.5"/>
<line x1="126.5" y1="2341.88" x2="130.5" y2="2341.88" stroke="#000" stroke-width="1.5"/>
<line x1="126.5" y1="2317" x2="132.3" y2="2317" stroke="#000" stroke-width="1.5"/>
<line x1="126.5" y1="2292.12" x2="130.5" y2="2292.12" stroke="#000" stroke-width="1.5"/>
<line x1="126.5" y1="2267.25" x2="132.3" y2="2267.25" stroke="#000" stroke-width="1.5"/>
<line x1="126.5" y1="2242.38" x2="130.5" y2="2242.38" stroke="#000" stroke-width="1.5"/>
<text x="108.6" y="2522.8" font-size="18.5" text-anchor="end" fill="#222">0</text>
<text x="108.6" y="2473.05" font-size="18.5" text-anchor="end" fill="#222">20</text>
<text x="108.6" y="2423.3" font-size="18.5" text-anchor="end" fill="#222">40</text>
<text x="108.6" y="2373.55" font-size="18.5" text-anchor="end" fill="#222">60</text>
<text x="108.6" y="2323.8" font-size="18.5" text-anchor="end" fill="#222">80</text>
<text x="108.6" y="2274.05" font-size="18.5" text-anchor="end" fill="#222">100</text>
<text x="108.6" y="2224.3" font-size="18.5" text-anchor="end" fill="#222">120</text>
<text x="171.89" y="2548.3" font-size="18.5" text-anchor="middle" fill="#222">0</text>
<text x="262.68" y="2548.3" font-size="18.5" text-anchor="middle" fill="#222">6</text>
<text x="353.46" y="2548.3" font-size="18.5" text-anchor="middle" fill="#222">24</text>
<text x="444.25" y="2548.3" font-size="18.5" text-anchor="middle" fill="#222">48</text>
<text x="535.04" y="2548.3" font-size="18.5" text-anchor="middle" fill="#222">72</text>
<text x="625.82" y="2548.3" font-size="18.5" text-anchor="middle" fill="#222">96</text>
<text x="716.61" y="2548.3" font-size="18.5" text-anchor="middle" fill="#222"></text>
<rect x="665.6" y="2524.5" width="92" height="29.3" fill="#fff"/>
<text x="716" y="2545" font-size="18.5" text-anchor="middle" fill="#222">Untreated</text>
<text x="144.3" y="2204.4" font-size="18.5" textLength="49" lengthAdjust="spacingAndGlyphs" fill="#222">Lispro</text>
<text x="405" y="2579.1" font-size="18.5" text-anchor="middle" fill="#222">Incubation time [h]</text>
<text x="68" y="2371.5" font-size="18.5" text-anchor="middle" transform="rotate(-90 68 2371.5)" textLength="129.5" lengthAdjust="spacingAndGlyphs" fill="#222" xml:space="preserve">Cell viability  [%]</text>
<rect x="499.2" y="2227.9" width="10.8" height="10.8" fill="#a5a5a5" stroke="#000" stroke-width="1.3"/>
<text x="513.9" y="2239.9" font-size="18.5" textLength="58.5" lengthAdjust="spacingAndGlyphs" fill="#222">0.1 µM</text>
<rect x="585.6" y="2227.9" width="10.8" height="10.8" fill="#f2f2f2" stroke="#000" stroke-width="1.3"/>
<text x="600.2" y="2239.9" font-size="18.5" textLength="57.1" lengthAdjust="spacingAndGlyphs" fill="#222">0.5 µM</text>
<rect x="670.5" y="2227.9" width="10.8" height="10.8" fill="#000" stroke="#000" stroke-width="1.3"/>
<text x="686.8" y="2239.9" font-size="18.5" textLength="41.5" lengthAdjust="spacingAndGlyphs" fill="#222">1 µM</text>
<path d="M192.4,2280 L192.4,2269.7 L372.5,2269.7 L372.5,2352.4" fill="none" stroke="#6e6e6e" stroke-width="1.3" stroke-linejoin="miter"/>
<path d="M377.7,2352.4 L377.7,2271.2 L647.7,2271.2 L647.7,2316.2" fill="none" stroke="#6e6e6e" stroke-width="1.3" stroke-linejoin="miter"/>
<path d="M279.4,2256.4 L279.4,2265.6 M275.42,2258.7 L283.38,2263.3 M275.42,2263.3 L283.38,2258.7" fill="none" stroke="#2a2a2a" stroke-width="1.35"/>
<path d="M488.9,2258.9 L488.9,2268.1 M484.92,2261.2 L492.88,2265.8 M484.92,2265.8 L492.88,2261.2" fill="none" stroke="#2a2a2a" stroke-width="1.35"/>
<path d="M501,2258.9 L501,2268.1 M497.02,2261.2 L504.98,2265.8 M497.02,2265.8 L504.98,2261.2" fill="none" stroke="#2a2a2a" stroke-width="1.35"/>
<path d="M513.1,2258.9 L513.1,2268.1 M509.12,2261.2 L517.08,2265.8 M509.12,2265.8 L517.08,2261.2" fill="none" stroke="#2a2a2a" stroke-width="1.35"/>
<line x1="154.2" y1="2591.5" x2="213.1" y2="2591.5" stroke="#595959" stroke-width="1.3"/>
<line x1="238" y1="2590.9" x2="647.7" y2="2590.9" stroke="#595959" stroke-width="1.3"/>
<line x1="154.2" y1="2624.3" x2="647.7" y2="2624.3" stroke="#595959" stroke-width="1.3"/>
<text x="183" y="2612.5" font-size="18.5" text-anchor="middle" fill="#222">-</text>
<text x="441.3" y="2614" font-size="18.5" text-anchor="middle" fill="#222">+</text>
<text x="401.5" y="2653" font-size="18.5" text-anchor="middle" fill="#222">Minocycline</text>
<rect x="784.62" y="2271.2" width="24" height="242.8" fill="#a5a5a5" stroke="#000" stroke-width="1.6"/>
<rect x="803.12" y="2283.81" width="24" height="230.19" fill="#f2f2f2" stroke="#000" stroke-width="1.6"/>
<rect x="821.62" y="2278.87" width="24" height="235.13" fill="#000" stroke="#000" stroke-width="1.6"/>
<line x1="796.62" y1="2259.58" x2="796.62" y2="2282.82" stroke="#000" stroke-width="1.8"/>
<line x1="793.12" y1="2259.58" x2="800.12" y2="2259.58" stroke="#000" stroke-width="1.8"/>
<line x1="793.12" y1="2282.82" x2="800.12" y2="2282.82" stroke="#000" stroke-width="1.8"/>
<line x1="815.12" y1="2283.07" x2="815.12" y2="2284.55" stroke="#000" stroke-width="1.8"/>
<line x1="811.62" y1="2283.07" x2="818.62" y2="2283.07" stroke="#000" stroke-width="1.8"/>
<line x1="811.62" y1="2284.55" x2="818.62" y2="2284.55" stroke="#000" stroke-width="1.8"/>
<line x1="833.62" y1="2274.41" x2="833.62" y2="2283.81" stroke="#000" stroke-width="1.8"/>
<line x1="830.12" y1="2274.41" x2="837.12" y2="2274.41" stroke="#000" stroke-width="1.8"/>
<line x1="830.12" y1="2283.81" x2="837.12" y2="2283.81" stroke="#000" stroke-width="1.8"/>
<rect x="870.06" y="2325.6" width="24" height="188.4" fill="#a5a5a5" stroke="#000" stroke-width="1.6"/>
<rect x="888.56" y="2347.6" width="24" height="166.4" fill="#f2f2f2" stroke="#000" stroke-width="1.6"/>
<rect x="907.06" y="2362.44" width="24" height="151.56" fill="#000" stroke="#000" stroke-width="1.6"/>
<line x1="882.06" y1="2324.85" x2="882.06" y2="2326.34" stroke="#000" stroke-width="1.8"/>
<line x1="878.56" y1="2324.85" x2="885.56" y2="2324.85" stroke="#000" stroke-width="1.8"/>
<line x1="878.56" y1="2326.34" x2="885.56" y2="2326.34" stroke="#000" stroke-width="1.8"/>
<line x1="900.56" y1="2343.89" x2="900.56" y2="2351.56" stroke="#000" stroke-width="1.8"/>
<line x1="897.06" y1="2343.89" x2="904.06" y2="2343.89" stroke="#000" stroke-width="1.8"/>
<line x1="897.06" y1="2351.56" x2="904.06" y2="2351.56" stroke="#000" stroke-width="1.8"/>
<line x1="919.06" y1="2354.28" x2="919.06" y2="2369.61" stroke="#000" stroke-width="1.8"/>
<line x1="915.56" y1="2354.28" x2="922.56" y2="2354.28" stroke="#000" stroke-width="1.8"/>
<line x1="915.56" y1="2369.61" x2="922.56" y2="2369.61" stroke="#000" stroke-width="1.8"/>
<rect x="955.51" y="2347.6" width="24" height="166.4" fill="#a5a5a5" stroke="#000" stroke-width="1.6"/>
<rect x="974.01" y="2350.57" width="24" height="163.43" fill="#f2f2f2" stroke="#000" stroke-width="1.6"/>
<rect x="992.51" y="2363.18" width="24" height="150.82" fill="#000" stroke="#000" stroke-width="1.6"/>
<line x1="967.51" y1="2337.71" x2="967.51" y2="2357" stroke="#000" stroke-width="1.8"/>
<line x1="964.01" y1="2337.71" x2="971.01" y2="2337.71" stroke="#000" stroke-width="1.8"/>
<line x1="964.01" y1="2357" x2="971.01" y2="2357" stroke="#000" stroke-width="1.8"/>
<line x1="986.01" y1="2346.12" x2="986.01" y2="2354.28" stroke="#000" stroke-width="1.8"/>
<line x1="982.51" y1="2346.12" x2="989.51" y2="2346.12" stroke="#000" stroke-width="1.8"/>
<line x1="982.51" y1="2354.28" x2="989.51" y2="2354.28" stroke="#000" stroke-width="1.8"/>
<line x1="1004.51" y1="2354.28" x2="1004.51" y2="2371.34" stroke="#000" stroke-width="1.8"/>
<line x1="1001.01" y1="2354.28" x2="1008.01" y2="2354.28" stroke="#000" stroke-width="1.8"/>
<line x1="1001.01" y1="2371.34" x2="1008.01" y2="2371.34" stroke="#000" stroke-width="1.8"/>
<rect x="1040.95" y="2364.17" width="24" height="149.83" fill="#a5a5a5" stroke="#000" stroke-width="1.6"/>
<rect x="1059.45" y="2365.4" width="24" height="148.6" fill="#f2f2f2" stroke="#000" stroke-width="1.6"/>
<rect x="1077.95" y="2368.12" width="24" height="145.88" fill="#000" stroke="#000" stroke-width="1.6"/>
<line x1="1052.95" y1="2357.74" x2="1052.95" y2="2370.84" stroke="#000" stroke-width="1.8"/>
<line x1="1049.45" y1="2357.74" x2="1056.45" y2="2357.74" stroke="#000" stroke-width="1.8"/>
<line x1="1049.45" y1="2370.84" x2="1056.45" y2="2370.84" stroke="#000" stroke-width="1.8"/>
<line x1="1071.45" y1="2359.96" x2="1071.45" y2="2371.34" stroke="#000" stroke-width="1.8"/>
<line x1="1067.95" y1="2359.96" x2="1074.95" y2="2359.96" stroke="#000" stroke-width="1.8"/>
<line x1="1067.95" y1="2371.34" x2="1074.95" y2="2371.34" stroke="#000" stroke-width="1.8"/>
<line x1="1089.95" y1="2357.74" x2="1089.95" y2="2378.51" stroke="#000" stroke-width="1.8"/>
<line x1="1086.45" y1="2357.74" x2="1093.45" y2="2357.74" stroke="#000" stroke-width="1.8"/>
<line x1="1086.45" y1="2378.51" x2="1093.45" y2="2378.51" stroke="#000" stroke-width="1.8"/>
<rect x="1126.39" y="2297.66" width="24" height="216.34" fill="#a5a5a5" stroke="#000" stroke-width="1.6"/>
<rect x="1144.89" y="2278.87" width="24" height="235.13" fill="#f2f2f2" stroke="#000" stroke-width="1.6"/>
<rect x="1163.39" y="2306.31" width="24" height="207.69" fill="#000" stroke="#000" stroke-width="1.6"/>
<line x1="1138.39" y1="2296.91" x2="1138.39" y2="2298.4" stroke="#000" stroke-width="1.8"/>
<line x1="1134.89" y1="2296.91" x2="1141.89" y2="2296.91" stroke="#000" stroke-width="1.8"/>
<line x1="1134.89" y1="2298.4" x2="1141.89" y2="2298.4" stroke="#000" stroke-width="1.8"/>
<line x1="1156.89" y1="2274.91" x2="1156.89" y2="2282.82" stroke="#000" stroke-width="1.8"/>
<line x1="1153.39" y1="2274.91" x2="1160.39" y2="2274.91" stroke="#000" stroke-width="1.8"/>
<line x1="1153.39" y1="2282.82" x2="1160.39" y2="2282.82" stroke="#000" stroke-width="1.8"/>
<line x1="1175.39" y1="2292.71" x2="1175.39" y2="2320.16" stroke="#000" stroke-width="1.8"/>
<line x1="1171.89" y1="2292.71" x2="1178.89" y2="2292.71" stroke="#000" stroke-width="1.8"/>
<line x1="1171.89" y1="2320.16" x2="1178.89" y2="2320.16" stroke="#000" stroke-width="1.8"/>
<rect x="1211.84" y="2266.75" width="24" height="247.25" fill="#a5a5a5" stroke="#000" stroke-width="1.6"/>
<rect x="1230.34" y="2276.64" width="24" height="237.36" fill="#f2f2f2" stroke="#000" stroke-width="1.6"/>
<rect x="1248.84" y="2272.68" width="24" height="241.32" fill="#000" stroke="#000" stroke-width="1.6"/>
<line x1="1223.84" y1="2257.35" x2="1223.84" y2="2276.15" stroke="#000" stroke-width="1.8"/>
<line x1="1220.34" y1="2257.35" x2="1227.34" y2="2257.35" stroke="#000" stroke-width="1.8"/>
<line x1="1220.34" y1="2276.15" x2="1227.34" y2="2276.15" stroke="#000" stroke-width="1.8"/>
<line x1="1242.34" y1="2272.19" x2="1242.34" y2="2281.09" stroke="#000" stroke-width="1.8"/>
<line x1="1238.84" y1="2272.19" x2="1245.84" y2="2272.19" stroke="#000" stroke-width="1.8"/>
<line x1="1238.84" y1="2281.09" x2="1245.84" y2="2281.09" stroke="#000" stroke-width="1.8"/>
<line x1="1260.84" y1="2262.3" x2="1260.84" y2="2283.32" stroke="#000" stroke-width="1.8"/>
<line x1="1257.34" y1="2262.3" x2="1264.34" y2="2262.3" stroke="#000" stroke-width="1.8"/>
<line x1="1257.34" y1="2283.32" x2="1264.34" y2="2283.32" stroke="#000" stroke-width="1.8"/>
<rect x="1297.28" y="2267.24" width="24" height="246.76" fill="#a5a5a5" stroke="#000" stroke-width="1.6"/>
<rect x="1315.78" y="2267.99" width="24" height="246.01" fill="#f2f2f2" stroke="#000" stroke-width="1.6"/>
<rect x="1334.28" y="2276.64" width="24" height="237.36" fill="#000" stroke="#000" stroke-width="1.6"/>
<line x1="1309.28" y1="2255.38" x2="1309.28" y2="2278.87" stroke="#000" stroke-width="1.8"/>
<line x1="1305.78" y1="2255.38" x2="1312.78" y2="2255.38" stroke="#000" stroke-width="1.8"/>
<line x1="1305.78" y1="2278.87" x2="1312.78" y2="2278.87" stroke="#000" stroke-width="1.8"/>
<line x1="1327.78" y1="2267.24" x2="1327.78" y2="2268.73" stroke="#000" stroke-width="1.8"/>
<line x1="1324.28" y1="2267.24" x2="1331.28" y2="2267.24" stroke="#000" stroke-width="1.8"/>
<line x1="1324.28" y1="2268.73" x2="1331.28" y2="2268.73" stroke="#000" stroke-width="1.8"/>
<line x1="1346.28" y1="2272.19" x2="1346.28" y2="2281.59" stroke="#000" stroke-width="1.8"/>
<line x1="1342.78" y1="2272.19" x2="1349.78" y2="2272.19" stroke="#000" stroke-width="1.8"/>
<line x1="1342.78" y1="2281.59" x2="1349.78" y2="2281.59" stroke="#000" stroke-width="1.8"/>
<rect x="772.4" y="2217.3" width="598.1" height="296.7" fill="none" stroke="#000" stroke-width="2"/>
<line x1="772.4" y1="2489.28" x2="776.4" y2="2489.28" stroke="#000" stroke-width="1.5"/>
<line x1="772.4" y1="2464.55" x2="778.2" y2="2464.55" stroke="#000" stroke-width="1.5"/>
<line x1="772.4" y1="2439.82" x2="776.4" y2="2439.82" stroke="#000" stroke-width="1.5"/>
<line x1="772.4" y1="2415.1" x2="778.2" y2="2415.1" stroke="#000" stroke-width="1.5"/>
<line x1="772.4" y1="2390.38" x2="776.4" y2="2390.38" stroke="#000" stroke-width="1.5"/>
<line x1="772.4" y1="2365.65" x2="778.2" y2="2365.65" stroke="#000" stroke-width="1.5"/>
<line x1="772.4" y1="2340.93" x2="776.4" y2="2340.93" stroke="#000" stroke-width="1.5"/>
<line x1="772.4" y1="2316.2" x2="778.2" y2="2316.2" stroke="#000" stroke-width="1.5"/>
<line x1="772.4" y1="2291.48" x2="776.4" y2="2291.48" stroke="#000" stroke-width="1.5"/>
<line x1="772.4" y1="2266.75" x2="778.2" y2="2266.75" stroke="#000" stroke-width="1.5"/>
<line x1="772.4" y1="2242.03" x2="776.4" y2="2242.03" stroke="#000" stroke-width="1.5"/>
<text x="815.12" y="2545.6" font-size="18.5" text-anchor="middle" fill="#222">0</text>
<text x="900.56" y="2545.6" font-size="18.5" text-anchor="middle" fill="#222">6</text>
<text x="986.01" y="2545.6" font-size="18.5" text-anchor="middle" fill="#222">24</text>
<text x="1071.45" y="2545.6" font-size="18.5" text-anchor="middle" fill="#222">48</text>
<text x="1156.89" y="2545.6" font-size="18.5" text-anchor="middle" fill="#222">72</text>
<text x="1242.34" y="2545.6" font-size="18.5" text-anchor="middle" fill="#222">96</text>
<text x="1327.78" y="2547.6" font-size="18.5" text-anchor="middle" textLength="81" lengthAdjust="spacingAndGlyphs" fill="#222">Untreated</text>
<text x="786.5" y="2207.5" font-size="18.5" textLength="64.5" lengthAdjust="spacingAndGlyphs" fill="#222">Detemir</text>
<text x="1079.3" y="2577" font-size="18.5" text-anchor="middle" fill="#222">Incubation time [h]</text>
<rect x="1133" y="2225.3" width="10.8" height="10.8" fill="#a5a5a5" stroke="#000" stroke-width="1.3"/>
<text x="1147.8" y="2237.3" font-size="18.5" textLength="57.9" lengthAdjust="spacingAndGlyphs" fill="#222">0.1 µM</text>
<rect x="1217" y="2225.3" width="10.8" height="10.8" fill="#f2f2f2" stroke="#000" stroke-width="1.3"/>
<text x="1230.6" y="2237.3" font-size="18.5" textLength="57.9" lengthAdjust="spacingAndGlyphs" fill="#222">0.5 µM</text>
<rect x="1298.7" y="2225.3" width="10.8" height="10.8" fill="#000" stroke="#000" stroke-width="1.3"/>
<text x="1313.4" y="2237.3" font-size="18.5" textLength="43" lengthAdjust="spacingAndGlyphs" fill="#222">1 µM</text>
<path d="M833.9,2267.7 L833.9,2258.3 L1003.4,2258.3 L1003.4,2342.2" fill="none" stroke="#6e6e6e" stroke-width="1.3" stroke-linejoin="miter"/>
<path d="M851.5,2299.7 L918.9,2299.7 L918.9,2343.9" fill="none" stroke="#6e6e6e" stroke-width="1.3" stroke-linejoin="miter"/>
<path d="M1008.9,2342.2 L1008.9,2258.3 L1260,2258.3 L1260,2262" fill="none" stroke="#6e6e6e" stroke-width="1.3" stroke-linejoin="miter"/>
<path d="M875.3,2244.8 L875.3,2254 M871.32,2247.1 L879.28,2251.7 M871.32,2251.7 L879.28,2247.1" fill="none" stroke="#2a2a2a" stroke-width="1.35"/>
<path d="M887.4,2244.8 L887.4,2254 M883.42,2247.1 L891.38,2251.7 M883.42,2251.7 L891.38,2247.1" fill="none" stroke="#2a2a2a" stroke-width="1.35"/>
<path d="M899.5,2244.8 L899.5,2254 M895.52,2247.1 L903.48,2251.7 M895.52,2251.7 L903.48,2247.1" fill="none" stroke="#2a2a2a" stroke-width="1.35"/>
<path d="M875.95,2287.9 L875.95,2297.1 M871.97,2290.2 L879.93,2294.8 M871.97,2294.8 L879.93,2290.2" fill="none" stroke="#2a2a2a" stroke-width="1.35"/>
<path d="M888.05,2287.9 L888.05,2297.1 M884.07,2290.2 L892.03,2294.8 M884.07,2294.8 L892.03,2290.2" fill="none" stroke="#2a2a2a" stroke-width="1.35"/>
<path d="M1079.5,2244.8 L1079.5,2254 M1075.52,2247.1 L1083.48,2251.7 M1075.52,2251.7 L1083.48,2247.1" fill="none" stroke="#2a2a2a" stroke-width="1.35"/>
<path d="M1091.6,2244.8 L1091.6,2254 M1087.62,2247.1 L1095.58,2251.7 M1087.62,2251.7 L1095.58,2247.1" fill="none" stroke="#2a2a2a" stroke-width="1.35"/>
<path d="M1103.7,2244.8 L1103.7,2254 M1099.72,2247.1 L1107.68,2251.7 M1099.72,2251.7 L1107.68,2247.1" fill="none" stroke="#2a2a2a" stroke-width="1.35"/>
<line x1="778.6" y1="2591.9" x2="852.7" y2="2591.9" stroke="#595959" stroke-width="1.3"/>
<line x1="861.5" y1="2591.9" x2="1272.2" y2="2591.9" stroke="#595959" stroke-width="1.3"/>
<line x1="779.7" y1="2627.8" x2="1273.9" y2="2627.8" stroke="#595959" stroke-width="1.3"/>
<text x="821" y="2615.5" font-size="18.5" text-anchor="middle" fill="#222">-</text>
<text x="1066.8" y="2616.5" font-size="18.5" text-anchor="middle" fill="#222">+</text>
<text x="1029" y="2655" font-size="18.5" text-anchor="middle" fill="#222">Minocycline</text>
</svg>
</body></html>
